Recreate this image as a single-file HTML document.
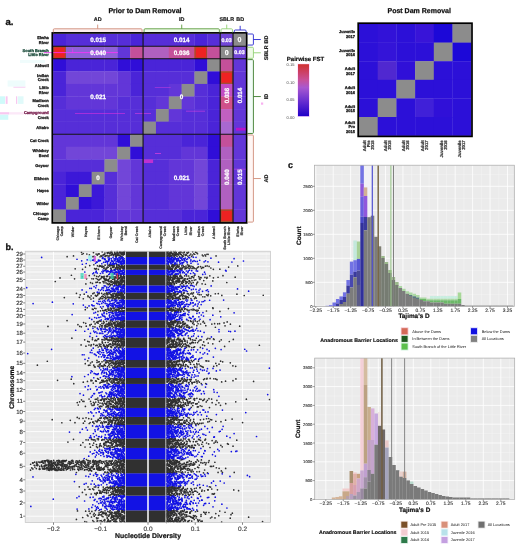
<!DOCTYPE html>
<html><head><meta charset="utf-8"><title>Figure</title>
<style>html,body{margin:0;padding:0;background:#fff;overflow:hidden}svg{display:block}text{font-family:"Liberation Sans", sans-serif;text-rendering:geometricPrecision;stroke-linejoin:round}</style>
</head><body>
<svg width="520" height="550" viewBox="0 0 520 550" font-family='"Liberation Sans", sans-serif'>
<defs><filter id="soft" x="0" y="0" width="1" height="1" color-interpolation-filters="sRGB"><feGaussianBlur stdDeviation="0.45"/></filter></defs>
<g filter="url(#soft)">
<rect width="520" height="550" fill="#fff"/>
<text x="145" y="13.2" font-size="7.0" text-anchor="middle" font-weight="bold" fill="#111" stroke="#111" stroke-width="0.25">Prior to Dam Removal</text>
<text x="5.4" y="24.5" font-size="9.5" text-anchor="start" font-weight="bold" fill="#111" stroke="#111" stroke-width="0.3">a.</text>
<rect x="53.1" y="33.7" width="13.15" height="12.86" fill="#4a24d8"/>
<rect x="65.95" y="33.7" width="13.15" height="12.86" fill="#562ed8"/>
<rect x="78.81" y="33.7" width="13.15" height="12.86" fill="#562ed8"/>
<rect x="91.66" y="33.7" width="13.15" height="12.86" fill="#562ed8"/>
<rect x="104.51" y="33.7" width="13.15" height="12.86" fill="#562ed8"/>
<rect x="117.37" y="33.7" width="13.15" height="12.86" fill="#562ed8"/>
<rect x="130.22" y="33.7" width="13.15" height="12.86" fill="#4a24d8"/>
<rect x="143.07" y="33.7" width="13.15" height="12.86" fill="#562ed8"/>
<rect x="155.93" y="33.7" width="13.15" height="12.86" fill="#562ed8"/>
<rect x="168.78" y="33.7" width="13.15" height="12.86" fill="#562ed8"/>
<rect x="181.63" y="33.7" width="13.15" height="12.86" fill="#562ed8"/>
<rect x="194.49" y="33.7" width="13.15" height="12.86" fill="#4a24d8"/>
<rect x="207.34" y="33.7" width="13.15" height="12.86" fill="#562ed8"/>
<rect x="220.19" y="33.7" width="13.15" height="12.86" fill="#7246d8"/>
<rect x="233.05" y="33.7" width="13.15" height="12.86" fill="#8c8c8c"/>
<rect x="53.1" y="46.26" width="13.15" height="12.86" fill="#ee2222"/>
<rect x="53.7" y="46.86" width="11.65" height="11.36" fill="none" stroke="#a05030" stroke-width="1.3"/>
<rect x="65.95" y="46.26" width="13.15" height="12.86" fill="#9060d8"/>
<rect x="78.81" y="46.26" width="13.15" height="12.86" fill="#9060d8"/>
<rect x="91.66" y="46.26" width="13.15" height="12.86" fill="#9060d8"/>
<rect x="104.51" y="46.26" width="13.15" height="12.86" fill="#9060d8"/>
<rect x="117.37" y="46.26" width="13.15" height="12.86" fill="#6236d8"/>
<rect x="130.22" y="46.26" width="13.15" height="12.86" fill="#c4509a"/>
<rect x="143.07" y="46.26" width="13.15" height="12.86" fill="#b060c0"/>
<rect x="155.93" y="46.26" width="13.15" height="12.86" fill="#b060c0"/>
<rect x="168.78" y="46.26" width="13.15" height="12.86" fill="#c4509a"/>
<rect x="181.63" y="46.26" width="13.15" height="12.86" fill="#c4509a"/>
<rect x="194.49" y="46.26" width="13.15" height="12.86" fill="#ee2222"/>
<rect x="195.09" y="46.86" width="11.65" height="11.36" fill="none" stroke="#a05030" stroke-width="1.3"/>
<rect x="207.34" y="46.26" width="13.15" height="12.86" fill="#c4509a"/>
<rect x="220.19" y="46.26" width="13.15" height="12.86" fill="#8c8c8c"/>
<rect x="233.05" y="46.26" width="13.15" height="12.86" fill="#7246d8"/>
<rect x="53.1" y="58.82" width="13.15" height="12.86" fill="#300ed8"/>
<rect x="65.95" y="58.82" width="13.15" height="12.86" fill="#4a24d8"/>
<rect x="78.81" y="58.82" width="13.15" height="12.86" fill="#4a24d8"/>
<rect x="91.66" y="58.82" width="13.15" height="12.86" fill="#4a24d8"/>
<rect x="104.51" y="58.82" width="13.15" height="12.86" fill="#4a24d8"/>
<rect x="117.37" y="58.82" width="13.15" height="12.86" fill="#300ed8"/>
<rect x="130.22" y="58.82" width="13.15" height="12.86" fill="#300ed8"/>
<rect x="143.07" y="58.82" width="13.15" height="12.86" fill="#4a24d8"/>
<rect x="155.93" y="58.82" width="13.15" height="12.86" fill="#4a24d8"/>
<rect x="168.78" y="58.82" width="13.15" height="12.86" fill="#4a24d8"/>
<rect x="181.63" y="58.82" width="13.15" height="12.86" fill="#4a24d8"/>
<rect x="194.49" y="58.82" width="13.15" height="12.86" fill="#300ed8"/>
<rect x="207.34" y="58.82" width="13.15" height="12.86" fill="#8c8c8c"/>
<rect x="220.19" y="58.82" width="13.15" height="12.86" fill="#c4509a"/>
<rect x="233.05" y="58.82" width="13.15" height="12.86" fill="#6236d8"/>
<rect x="53.1" y="71.38" width="13.15" height="12.86" fill="#4a24d8"/>
<rect x="65.95" y="71.38" width="13.15" height="12.86" fill="#7246d8"/>
<rect x="78.81" y="71.38" width="13.15" height="12.86" fill="#7246d8"/>
<rect x="91.66" y="71.38" width="13.15" height="12.86" fill="#7246d8"/>
<rect x="104.51" y="71.38" width="13.15" height="12.86" fill="#7246d8"/>
<rect x="117.37" y="71.38" width="13.15" height="12.86" fill="#6236d8"/>
<rect x="130.22" y="71.38" width="13.15" height="12.86" fill="#4a24d8"/>
<rect x="143.07" y="71.38" width="13.15" height="12.86" fill="#562ed8"/>
<rect x="155.93" y="71.38" width="13.15" height="12.86" fill="#562ed8"/>
<rect x="168.78" y="71.38" width="13.15" height="12.86" fill="#562ed8"/>
<rect x="181.63" y="71.38" width="13.15" height="12.86" fill="#562ed8"/>
<rect x="194.49" y="71.38" width="13.15" height="12.86" fill="#8c8c8c"/>
<rect x="207.34" y="71.38" width="13.15" height="12.86" fill="#300ed8"/>
<rect x="220.19" y="71.38" width="13.15" height="12.86" fill="#ee2222"/>
<rect x="220.79" y="71.98" width="11.65" height="11.36" fill="none" stroke="#a05030" stroke-width="1.3"/>
<rect x="233.05" y="71.38" width="13.15" height="12.86" fill="#6236d8"/>
<rect x="53.1" y="83.94" width="13.15" height="12.86" fill="#4a24d8"/>
<rect x="65.95" y="83.94" width="13.15" height="12.86" fill="#6236d8"/>
<rect x="78.81" y="83.94" width="13.15" height="12.86" fill="#6236d8"/>
<rect x="91.66" y="83.94" width="13.15" height="12.86" fill="#6236d8"/>
<rect x="104.51" y="83.94" width="13.15" height="12.86" fill="#6236d8"/>
<rect x="117.37" y="83.94" width="13.15" height="12.86" fill="#6236d8"/>
<rect x="130.22" y="83.94" width="13.15" height="12.86" fill="#4a24d8"/>
<rect x="143.07" y="83.94" width="13.15" height="12.86" fill="#562ed8"/>
<rect x="155.93" y="83.94" width="13.15" height="12.86" fill="#562ed8"/>
<rect x="168.78" y="83.94" width="13.15" height="12.86" fill="#6236d8"/>
<rect x="181.63" y="83.94" width="13.15" height="12.86" fill="#8c8c8c"/>
<rect x="194.49" y="83.94" width="13.15" height="12.86" fill="#562ed8"/>
<rect x="207.34" y="83.94" width="13.15" height="12.86" fill="#4a24d8"/>
<rect x="220.19" y="83.94" width="13.15" height="12.86" fill="#c24cc4"/>
<rect x="233.05" y="83.94" width="13.15" height="12.86" fill="#6236d8"/>
<rect x="53.1" y="96.5" width="13.15" height="12.86" fill="#562ed8"/>
<rect x="65.95" y="96.5" width="13.15" height="12.86" fill="#6236d8"/>
<rect x="78.81" y="96.5" width="13.15" height="12.86" fill="#6236d8"/>
<rect x="91.66" y="96.5" width="13.15" height="12.86" fill="#6236d8"/>
<rect x="104.51" y="96.5" width="13.15" height="12.86" fill="#6236d8"/>
<rect x="117.37" y="96.5" width="13.15" height="12.86" fill="#562ed8"/>
<rect x="130.22" y="96.5" width="13.15" height="12.86" fill="#562ed8"/>
<rect x="143.07" y="96.5" width="13.15" height="12.86" fill="#562ed8"/>
<rect x="155.93" y="96.5" width="13.15" height="12.86" fill="#6236d8"/>
<rect x="168.78" y="96.5" width="13.15" height="12.86" fill="#8c8c8c"/>
<rect x="181.63" y="96.5" width="13.15" height="12.86" fill="#6236d8"/>
<rect x="194.49" y="96.5" width="13.15" height="12.86" fill="#562ed8"/>
<rect x="207.34" y="96.5" width="13.15" height="12.86" fill="#4a24d8"/>
<rect x="220.19" y="96.5" width="13.15" height="12.86" fill="#d0508a"/>
<rect x="233.05" y="96.5" width="13.15" height="12.86" fill="#6236d8"/>
<rect x="53.1" y="109.06" width="13.15" height="12.86" fill="#562ed8"/>
<rect x="65.95" y="109.06" width="13.15" height="12.86" fill="#562ed8"/>
<rect x="78.81" y="109.06" width="13.15" height="12.86" fill="#562ed8"/>
<rect x="91.66" y="109.06" width="13.15" height="12.86" fill="#562ed8"/>
<rect x="104.51" y="109.06" width="13.15" height="12.86" fill="#562ed8"/>
<rect x="117.37" y="109.06" width="13.15" height="12.86" fill="#562ed8"/>
<rect x="130.22" y="109.06" width="13.15" height="12.86" fill="#562ed8"/>
<rect x="143.07" y="109.06" width="13.15" height="12.86" fill="#562ed8"/>
<rect x="155.93" y="109.06" width="13.15" height="12.86" fill="#8c8c8c"/>
<rect x="168.78" y="109.06" width="13.15" height="12.86" fill="#6236d8"/>
<rect x="181.63" y="109.06" width="13.15" height="12.86" fill="#562ed8"/>
<rect x="194.49" y="109.06" width="13.15" height="12.86" fill="#562ed8"/>
<rect x="207.34" y="109.06" width="13.15" height="12.86" fill="#4a24d8"/>
<rect x="220.19" y="109.06" width="13.15" height="12.86" fill="#c060c0"/>
<rect x="233.05" y="109.06" width="13.15" height="12.86" fill="#6236d8"/>
<rect x="53.1" y="121.62" width="13.15" height="12.86" fill="#562ed8"/>
<rect x="65.95" y="121.62" width="13.15" height="12.86" fill="#562ed8"/>
<rect x="78.81" y="121.62" width="13.15" height="12.86" fill="#562ed8"/>
<rect x="91.66" y="121.62" width="13.15" height="12.86" fill="#562ed8"/>
<rect x="104.51" y="121.62" width="13.15" height="12.86" fill="#562ed8"/>
<rect x="117.37" y="121.62" width="13.15" height="12.86" fill="#562ed8"/>
<rect x="130.22" y="121.62" width="13.15" height="12.86" fill="#562ed8"/>
<rect x="143.07" y="121.62" width="13.15" height="12.86" fill="#8c8c8c"/>
<rect x="155.93" y="121.62" width="13.15" height="12.86" fill="#562ed8"/>
<rect x="168.78" y="121.62" width="13.15" height="12.86" fill="#562ed8"/>
<rect x="181.63" y="121.62" width="13.15" height="12.86" fill="#562ed8"/>
<rect x="194.49" y="121.62" width="13.15" height="12.86" fill="#562ed8"/>
<rect x="207.34" y="121.62" width="13.15" height="12.86" fill="#4a24d8"/>
<rect x="220.19" y="121.62" width="13.15" height="12.86" fill="#a868d0"/>
<rect x="233.05" y="121.62" width="13.15" height="12.86" fill="#6236d8"/>
<rect x="53.1" y="134.18" width="13.15" height="12.86" fill="#6236d8"/>
<rect x="65.95" y="134.18" width="13.15" height="12.86" fill="#6236d8"/>
<rect x="78.81" y="134.18" width="13.15" height="12.86" fill="#6236d8"/>
<rect x="91.66" y="134.18" width="13.15" height="12.86" fill="#6236d8"/>
<rect x="104.51" y="134.18" width="13.15" height="12.86" fill="#6236d8"/>
<rect x="117.37" y="134.18" width="13.15" height="12.86" fill="#300ed8"/>
<rect x="130.22" y="134.18" width="13.15" height="12.86" fill="#8c8c8c"/>
<rect x="143.07" y="134.18" width="13.15" height="12.86" fill="#562ed8"/>
<rect x="155.93" y="134.18" width="13.15" height="12.86" fill="#562ed8"/>
<rect x="168.78" y="134.18" width="13.15" height="12.86" fill="#562ed8"/>
<rect x="181.63" y="134.18" width="13.15" height="12.86" fill="#4a24d8"/>
<rect x="194.49" y="134.18" width="13.15" height="12.86" fill="#4a24d8"/>
<rect x="207.34" y="134.18" width="13.15" height="12.86" fill="#300ed8"/>
<rect x="220.19" y="134.18" width="13.15" height="12.86" fill="#c4509a"/>
<rect x="233.05" y="134.18" width="13.15" height="12.86" fill="#6236d8"/>
<rect x="53.1" y="146.74" width="13.15" height="12.86" fill="#6236d8"/>
<rect x="65.95" y="146.74" width="13.15" height="12.86" fill="#7246d8"/>
<rect x="78.81" y="146.74" width="13.15" height="12.86" fill="#7246d8"/>
<rect x="91.66" y="146.74" width="13.15" height="12.86" fill="#7246d8"/>
<rect x="104.51" y="146.74" width="13.15" height="12.86" fill="#7246d8"/>
<rect x="117.37" y="146.74" width="13.15" height="12.86" fill="#8c8c8c"/>
<rect x="130.22" y="146.74" width="13.15" height="12.86" fill="#300ed8"/>
<rect x="143.07" y="146.74" width="13.15" height="12.86" fill="#562ed8"/>
<rect x="155.93" y="146.74" width="13.15" height="12.86" fill="#562ed8"/>
<rect x="168.78" y="146.74" width="13.15" height="12.86" fill="#562ed8"/>
<rect x="181.63" y="146.74" width="13.15" height="12.86" fill="#6236d8"/>
<rect x="194.49" y="146.74" width="13.15" height="12.86" fill="#6236d8"/>
<rect x="207.34" y="146.74" width="13.15" height="12.86" fill="#300ed8"/>
<rect x="220.19" y="146.74" width="13.15" height="12.86" fill="#b060c0"/>
<rect x="233.05" y="146.74" width="13.15" height="12.86" fill="#6236d8"/>
<rect x="53.1" y="159.3" width="13.15" height="12.86" fill="#562ed8"/>
<rect x="65.95" y="159.3" width="13.15" height="12.86" fill="#562ed8"/>
<rect x="78.81" y="159.3" width="13.15" height="12.86" fill="#562ed8"/>
<rect x="91.66" y="159.3" width="13.15" height="12.86" fill="#562ed8"/>
<rect x="104.51" y="159.3" width="13.15" height="12.86" fill="#8c8c8c"/>
<rect x="117.37" y="159.3" width="13.15" height="12.86" fill="#7246d8"/>
<rect x="130.22" y="159.3" width="13.15" height="12.86" fill="#6236d8"/>
<rect x="143.07" y="159.3" width="13.15" height="12.86" fill="#562ed8"/>
<rect x="155.93" y="159.3" width="13.15" height="12.86" fill="#562ed8"/>
<rect x="168.78" y="159.3" width="13.15" height="12.86" fill="#6236d8"/>
<rect x="181.63" y="159.3" width="13.15" height="12.86" fill="#6236d8"/>
<rect x="194.49" y="159.3" width="13.15" height="12.86" fill="#7246d8"/>
<rect x="207.34" y="159.3" width="13.15" height="12.86" fill="#4a24d8"/>
<rect x="220.19" y="159.3" width="13.15" height="12.86" fill="#b060c0"/>
<rect x="233.05" y="159.3" width="13.15" height="12.86" fill="#6236d8"/>
<rect x="53.1" y="171.86" width="13.15" height="12.86" fill="#4a24d8"/>
<rect x="65.95" y="171.86" width="13.15" height="12.86" fill="#3c18d8"/>
<rect x="78.81" y="171.86" width="13.15" height="12.86" fill="#3c18d8"/>
<rect x="91.66" y="171.86" width="13.15" height="12.86" fill="#8c8c8c"/>
<rect x="104.51" y="171.86" width="13.15" height="12.86" fill="#562ed8"/>
<rect x="117.37" y="171.86" width="13.15" height="12.86" fill="#7246d8"/>
<rect x="130.22" y="171.86" width="13.15" height="12.86" fill="#6236d8"/>
<rect x="143.07" y="171.86" width="13.15" height="12.86" fill="#562ed8"/>
<rect x="155.93" y="171.86" width="13.15" height="12.86" fill="#562ed8"/>
<rect x="168.78" y="171.86" width="13.15" height="12.86" fill="#6236d8"/>
<rect x="181.63" y="171.86" width="13.15" height="12.86" fill="#6236d8"/>
<rect x="194.49" y="171.86" width="13.15" height="12.86" fill="#7246d8"/>
<rect x="207.34" y="171.86" width="13.15" height="12.86" fill="#4a24d8"/>
<rect x="220.19" y="171.86" width="13.15" height="12.86" fill="#b060c0"/>
<rect x="233.05" y="171.86" width="13.15" height="12.86" fill="#6236d8"/>
<rect x="53.1" y="184.42" width="13.15" height="12.86" fill="#4a24d8"/>
<rect x="65.95" y="184.42" width="13.15" height="12.86" fill="#300ed8"/>
<rect x="78.81" y="184.42" width="13.15" height="12.86" fill="#8c8c8c"/>
<rect x="91.66" y="184.42" width="13.15" height="12.86" fill="#3c18d8"/>
<rect x="104.51" y="184.42" width="13.15" height="12.86" fill="#562ed8"/>
<rect x="117.37" y="184.42" width="13.15" height="12.86" fill="#7246d8"/>
<rect x="130.22" y="184.42" width="13.15" height="12.86" fill="#6236d8"/>
<rect x="143.07" y="184.42" width="13.15" height="12.86" fill="#562ed8"/>
<rect x="155.93" y="184.42" width="13.15" height="12.86" fill="#562ed8"/>
<rect x="168.78" y="184.42" width="13.15" height="12.86" fill="#6236d8"/>
<rect x="181.63" y="184.42" width="13.15" height="12.86" fill="#6236d8"/>
<rect x="194.49" y="184.42" width="13.15" height="12.86" fill="#7246d8"/>
<rect x="207.34" y="184.42" width="13.15" height="12.86" fill="#4a24d8"/>
<rect x="220.19" y="184.42" width="13.15" height="12.86" fill="#b060c0"/>
<rect x="233.05" y="184.42" width="13.15" height="12.86" fill="#6236d8"/>
<rect x="53.1" y="196.98" width="13.15" height="12.86" fill="#4a24d8"/>
<rect x="65.95" y="196.98" width="13.15" height="12.86" fill="#8c8c8c"/>
<rect x="78.81" y="196.98" width="13.15" height="12.86" fill="#300ed8"/>
<rect x="91.66" y="196.98" width="13.15" height="12.86" fill="#3c18d8"/>
<rect x="104.51" y="196.98" width="13.15" height="12.86" fill="#562ed8"/>
<rect x="117.37" y="196.98" width="13.15" height="12.86" fill="#7246d8"/>
<rect x="130.22" y="196.98" width="13.15" height="12.86" fill="#6236d8"/>
<rect x="143.07" y="196.98" width="13.15" height="12.86" fill="#562ed8"/>
<rect x="155.93" y="196.98" width="13.15" height="12.86" fill="#562ed8"/>
<rect x="168.78" y="196.98" width="13.15" height="12.86" fill="#6236d8"/>
<rect x="181.63" y="196.98" width="13.15" height="12.86" fill="#6236d8"/>
<rect x="194.49" y="196.98" width="13.15" height="12.86" fill="#7246d8"/>
<rect x="207.34" y="196.98" width="13.15" height="12.86" fill="#4a24d8"/>
<rect x="220.19" y="196.98" width="13.15" height="12.86" fill="#b060c0"/>
<rect x="233.05" y="196.98" width="13.15" height="12.86" fill="#6236d8"/>
<rect x="53.1" y="209.54" width="13.15" height="12.86" fill="#8c8c8c"/>
<rect x="65.95" y="209.54" width="13.15" height="12.86" fill="#4a24d8"/>
<rect x="78.81" y="209.54" width="13.15" height="12.86" fill="#4a24d8"/>
<rect x="91.66" y="209.54" width="13.15" height="12.86" fill="#4a24d8"/>
<rect x="104.51" y="209.54" width="13.15" height="12.86" fill="#562ed8"/>
<rect x="117.37" y="209.54" width="13.15" height="12.86" fill="#6236d8"/>
<rect x="130.22" y="209.54" width="13.15" height="12.86" fill="#6236d8"/>
<rect x="143.07" y="209.54" width="13.15" height="12.86" fill="#562ed8"/>
<rect x="155.93" y="209.54" width="13.15" height="12.86" fill="#562ed8"/>
<rect x="168.78" y="209.54" width="13.15" height="12.86" fill="#562ed8"/>
<rect x="181.63" y="209.54" width="13.15" height="12.86" fill="#4a24d8"/>
<rect x="194.49" y="209.54" width="13.15" height="12.86" fill="#4a24d8"/>
<rect x="207.34" y="209.54" width="13.15" height="12.86" fill="#300ed8"/>
<rect x="220.19" y="209.54" width="13.15" height="12.86" fill="#ee2222"/>
<rect x="220.79" y="210.14" width="11.65" height="11.36" fill="none" stroke="#a05030" stroke-width="1.3"/>
<rect x="233.05" y="209.54" width="13.15" height="12.86" fill="#6236d8"/>
<rect x="0" y="96.3" width="5" height="7.6" fill="#d0fafa"/>
<rect x="5.7" y="96.3" width="1.9" height="7.6" fill="#f8c8f0"/>
<rect x="16" y="96.3" width="1.2" height="7.6" fill="#f8c8f0"/>
<rect x="17.8" y="96.3" width="5.7" height="7.6" fill="#e0fafa"/>
<rect x="13.4" y="86.6" width="12" height=".9" fill="#f4b8ec"/>
<rect x="7.6" y="80.4" width="17.8" height="6.2" fill="#eefcfc"/>
<rect x="0" y="112.2" width="9" height="2.3" fill="#f8c8f0"/>
<rect x="9" y="112.2" width="15" height="2.3" fill="#fce8f8"/>
<rect x="0" y="114.7" width="8.3" height="5.1" fill="#d0fafa"/>
<rect x="20" y="60" width="25" height="3" fill="#f0fcfc"/>
<rect x="261" y="102.5" width="2.2" height="2.2" fill="#f8b0f0"/>
<line x1="44" y1="52.6" x2="118" y2="52.6" stroke="#ff30ff" stroke-width="0.8"/>
<line x1="72.7" y1="48.5" x2="72.7" y2="52.6" stroke="#ff30ff" stroke-width="0.6"/>
<line x1="75" y1="113.4" x2="125" y2="113.4" stroke="#e030e0" stroke-width="0.8" opacity="0.8"/>
<rect x="143.6" y="159.4" width="9.5" height="3.6" fill="#d030d0" opacity="0.85"/>
<rect x="236" y="127.8" width="9.8" height="2.8" fill="#c010c8" opacity="0.9"/>
<line x1="135" y1="113.4" x2="151" y2="113.4" stroke="#e040e0" stroke-width="0.8" opacity="0.8"/>
<line x1="186" y1="111.2" x2="205" y2="111.2" stroke="#e040e0" stroke-width="0.7" opacity="0.8"/>
<line x1="154.8" y1="87.4" x2="170.7" y2="87.4" stroke="#e040e0" stroke-width="0.6" opacity="0.8"/>
<line x1="155" y1="153.5" x2="161" y2="153.5" stroke="#e040e0" stroke-width="0.9" opacity="0.8"/>
<line x1="233.5" y1="169.2" x2="246" y2="169.2" stroke="#e040e0" stroke-width="0.6" opacity="0.8"/>
<line x1="52.1" y1="46.26" x2="246.9" y2="46.26" stroke="#111" stroke-width="1.1"/>
<line x1="52.1" y1="58.82" x2="246.9" y2="58.82" stroke="#111" stroke-width="1.1"/>
<line x1="52.1" y1="134.18" x2="246.9" y2="134.18" stroke="#111" stroke-width="1.1"/>
<line x1="143.07" y1="32.7" x2="143.07" y2="223.1" stroke="#111" stroke-width="1.1"/>
<line x1="220.19" y1="32.7" x2="220.19" y2="223.1" stroke="#111" stroke-width="1.1"/>
<line x1="233.05" y1="32.7" x2="233.05" y2="223.1" stroke="#111" stroke-width="1.1"/>
<rect x="52.3" y="32.9" width="194.4" height="190" fill="none" stroke="#000" stroke-width="1.7"/>
<text x="98.09" y="42.25" font-size="6.3" text-anchor="middle" font-weight="bold" fill="#fff" stroke="#fff" stroke-width="0.25">0.015</text>
<text x="181.63" y="42.25" font-size="6.3" text-anchor="middle" font-weight="bold" fill="#fff" stroke="#fff" stroke-width="0.25">0.014</text>
<text x="98.09" y="54.81" font-size="6.3" text-anchor="middle" font-weight="bold" fill="#fff" stroke="#fff" stroke-width="0.25">0.040</text>
<text x="181.63" y="54.81" font-size="6.3" text-anchor="middle" font-weight="bold" fill="#fff" stroke="#fff" stroke-width="0.25">0.036</text>
<text x="98.09" y="98.77" font-size="6.3" text-anchor="middle" font-weight="bold" fill="#fff" stroke="#fff" stroke-width="0.25">0.021</text>
<text x="181.63" y="98.77" font-size="6.3" text-anchor="middle" font-weight="bold" fill="#fff" stroke="#fff" stroke-width="0.25">0</text>
<text x="98.09" y="180.41" font-size="6.3" text-anchor="middle" font-weight="bold" fill="#fff" stroke="#fff" stroke-width="0.25">0</text>
<text x="181.63" y="180.41" font-size="6.3" text-anchor="middle" font-weight="bold" fill="#fff" stroke="#fff" stroke-width="0.25">0.021</text>
<text x="226.62" y="41.88" font-size="5.3" text-anchor="middle" font-weight="bold" fill="#fff" stroke="#fff" stroke-width="0.25">0.03</text>
<text x="239.47" y="54.44" font-size="5.3" text-anchor="middle" font-weight="bold" fill="#fff" stroke="#fff" stroke-width="0.25">0.03</text>
<text x="239.47" y="42.48" font-size="7.0" text-anchor="middle" font-weight="bold" fill="#fff" stroke="#fff" stroke-width="0.25">0</text>
<text x="226.62" y="55.04" font-size="7.0" text-anchor="middle" font-weight="bold" fill="#fff" stroke="#fff" stroke-width="0.25">0</text>
<text x="228.82" y="95.5" font-size="6.2" text-anchor="middle" font-weight="bold" fill="#fff" transform="rotate(-90 228.82 95.5)" stroke="#fff" stroke-width="0.25">0.036</text>
<text x="241.67" y="95.5" font-size="6.2" text-anchor="middle" font-weight="bold" fill="#fff" transform="rotate(-90 241.67 95.5)" stroke="#fff" stroke-width="0.25">0.014</text>
<text x="228.82" y="177.14" font-size="6.2" text-anchor="middle" font-weight="bold" fill="#fff" transform="rotate(-90 228.82 177.14)" stroke="#fff" stroke-width="0.25">0.040</text>
<text x="241.67" y="177.14" font-size="6.2" text-anchor="middle" font-weight="bold" fill="#fff" transform="rotate(-90 241.67 177.14)" stroke="#fff" stroke-width="0.25">0.015</text>
<text x="48.8" y="39.12" font-size="4.0" text-anchor="end" font-weight="bold" fill="#222" stroke="#222" stroke-width="0.3">Elwha</text>
<text x="48.8" y="43.72" font-size="4.0" text-anchor="end" font-weight="bold" fill="#222" stroke="#222" stroke-width="0.3">River</text>
<text x="48.8" y="51.68" font-size="4.0" text-anchor="end" font-weight="bold" fill="#1a4a3a" stroke="#1a4a3a" stroke-width="0.3">South Branch</text>
<text x="48.8" y="56.28" font-size="4.0" text-anchor="end" font-weight="bold" fill="#1a4a3a" stroke="#1a4a3a" stroke-width="0.3">Little River</text>
<text x="48.8" y="66.54" font-size="4.0" text-anchor="end" font-weight="bold" fill="#222" stroke="#222" stroke-width="0.3">Aldwell</text>
<text x="48.8" y="76.8" font-size="4.0" text-anchor="end" font-weight="bold" fill="#222" stroke="#222" stroke-width="0.3">Indian</text>
<text x="48.8" y="81.4" font-size="4.0" text-anchor="end" font-weight="bold" fill="#222" stroke="#222" stroke-width="0.3">Creek</text>
<text x="48.8" y="89.36" font-size="4.0" text-anchor="end" font-weight="bold" fill="#222" stroke="#222" stroke-width="0.3">Little</text>
<text x="48.8" y="93.96" font-size="4.0" text-anchor="end" font-weight="bold" fill="#222" stroke="#222" stroke-width="0.3">River</text>
<text x="48.8" y="101.92" font-size="4.0" text-anchor="end" font-weight="bold" fill="#222" stroke="#222" stroke-width="0.3">Madison</text>
<text x="48.8" y="106.52" font-size="4.0" text-anchor="end" font-weight="bold" fill="#222" stroke="#222" stroke-width="0.3">Creek</text>
<text x="48.8" y="114.48" font-size="4.0" text-anchor="end" font-weight="bold" fill="#7a2050" stroke="#7a2050" stroke-width="0.3">Campground</text>
<text x="48.8" y="119.08" font-size="4.0" text-anchor="end" font-weight="bold" fill="#222" stroke="#222" stroke-width="0.3">Creek</text>
<text x="48.8" y="129.34" font-size="4.0" text-anchor="end" font-weight="bold" fill="#222" stroke="#222" stroke-width="0.3">Altaire</text>
<text x="48.8" y="141.9" font-size="4.0" text-anchor="end" font-weight="bold" fill="#222" stroke="#222" stroke-width="0.3">Cat Creek</text>
<text x="48.8" y="152.16" font-size="4.0" text-anchor="end" font-weight="bold" fill="#222" stroke="#222" stroke-width="0.3">Whiskey</text>
<text x="48.8" y="156.76" font-size="4.0" text-anchor="end" font-weight="bold" fill="#222" stroke="#222" stroke-width="0.3">Bend</text>
<text x="48.8" y="167.02" font-size="4.0" text-anchor="end" font-weight="bold" fill="#222" stroke="#222" stroke-width="0.3">Geyser</text>
<text x="48.8" y="179.58" font-size="4.0" text-anchor="end" font-weight="bold" fill="#222" stroke="#222" stroke-width="0.3">Elkhorn</text>
<text x="48.8" y="192.14" font-size="4.0" text-anchor="end" font-weight="bold" fill="#222" stroke="#222" stroke-width="0.3">Hayes</text>
<text x="48.8" y="204.7" font-size="4.0" text-anchor="end" font-weight="bold" fill="#222" stroke="#222" stroke-width="0.3">Wilder</text>
<text x="48.8" y="214.96" font-size="4.0" text-anchor="end" font-weight="bold" fill="#222" stroke="#222" stroke-width="0.3">Chicago</text>
<text x="48.8" y="219.56" font-size="4.0" text-anchor="end" font-weight="bold" fill="#222" stroke="#222" stroke-width="0.3">Camp</text>
<text x="58.87" y="226.3" font-size="3.6" text-anchor="end" font-weight="bold" fill="#333" transform="rotate(-90 58.87 226.3)" stroke="#333" stroke-width="0.22">Chicago</text>
<text x="63.07" y="226.3" font-size="3.6" text-anchor="end" font-weight="bold" fill="#333" transform="rotate(-90 63.07 226.3)" stroke="#333" stroke-width="0.22">Camp</text>
<text x="73.82" y="226.3" font-size="3.6" text-anchor="end" font-weight="bold" fill="#333" transform="rotate(-90 73.82 226.3)" stroke="#333" stroke-width="0.22">Wilder</text>
<text x="86.67" y="226.3" font-size="3.6" text-anchor="end" font-weight="bold" fill="#333" transform="rotate(-90 86.67 226.3)" stroke="#333" stroke-width="0.22">Hayes</text>
<text x="99.53" y="226.3" font-size="3.6" text-anchor="end" font-weight="bold" fill="#333" transform="rotate(-90 99.53 226.3)" stroke="#333" stroke-width="0.22">Elkhorn</text>
<text x="112.38" y="226.3" font-size="3.6" text-anchor="end" font-weight="bold" fill="#333" transform="rotate(-90 112.38 226.3)" stroke="#333" stroke-width="0.22">Geyser</text>
<text x="123.13" y="226.3" font-size="3.6" text-anchor="end" font-weight="bold" fill="#333" transform="rotate(-90 123.13 226.3)" stroke="#333" stroke-width="0.22">Whiskey</text>
<text x="127.33" y="226.3" font-size="3.6" text-anchor="end" font-weight="bold" fill="#333" transform="rotate(-90 127.33 226.3)" stroke="#333" stroke-width="0.22">Bend</text>
<text x="138.09" y="226.3" font-size="3.6" text-anchor="end" font-weight="bold" fill="#333" transform="rotate(-90 138.09 226.3)" stroke="#333" stroke-width="0.22">Cat Creek</text>
<text x="150.94" y="226.3" font-size="3.6" text-anchor="end" font-weight="bold" fill="#333" transform="rotate(-90 150.94 226.3)" stroke="#333" stroke-width="0.22">Altaire</text>
<text x="161.69" y="226.3" font-size="3.6" text-anchor="end" font-weight="bold" fill="#333" transform="rotate(-90 161.69 226.3)" stroke="#333" stroke-width="0.22">Campground</text>
<text x="165.89" y="226.3" font-size="3.6" text-anchor="end" font-weight="bold" fill="#333" transform="rotate(-90 165.89 226.3)" stroke="#333" stroke-width="0.22">Creek</text>
<text x="174.55" y="226.3" font-size="3.6" text-anchor="end" font-weight="bold" fill="#333" transform="rotate(-90 174.55 226.3)" stroke="#333" stroke-width="0.22">Madison</text>
<text x="178.75" y="226.3" font-size="3.6" text-anchor="end" font-weight="bold" fill="#333" transform="rotate(-90 178.75 226.3)" stroke="#333" stroke-width="0.22">Creek</text>
<text x="187.4" y="226.3" font-size="3.6" text-anchor="end" font-weight="bold" fill="#333" transform="rotate(-90 187.4 226.3)" stroke="#333" stroke-width="0.22">Little</text>
<text x="191.6" y="226.3" font-size="3.6" text-anchor="end" font-weight="bold" fill="#333" transform="rotate(-90 191.6 226.3)" stroke="#333" stroke-width="0.22">River</text>
<text x="200.25" y="226.3" font-size="3.6" text-anchor="end" font-weight="bold" fill="#333" transform="rotate(-90 200.25 226.3)" stroke="#333" stroke-width="0.22">Indian</text>
<text x="204.45" y="226.3" font-size="3.6" text-anchor="end" font-weight="bold" fill="#333" transform="rotate(-90 204.45 226.3)" stroke="#333" stroke-width="0.22">Creek</text>
<text x="215.21" y="226.3" font-size="3.6" text-anchor="end" font-weight="bold" fill="#333" transform="rotate(-90 215.21 226.3)" stroke="#333" stroke-width="0.22">Aldwell</text>
<text x="225.96" y="226.3" font-size="3.6" text-anchor="end" font-weight="bold" fill="#333" transform="rotate(-90 225.96 226.3)" stroke="#333" stroke-width="0.22">South Branch</text>
<text x="230.16" y="226.3" font-size="3.6" text-anchor="end" font-weight="bold" fill="#333" transform="rotate(-90 230.16 226.3)" stroke="#333" stroke-width="0.22">Little River</text>
<text x="238.81" y="226.3" font-size="3.6" text-anchor="end" font-weight="bold" fill="#333" transform="rotate(-90 238.81 226.3)" stroke="#333" stroke-width="0.22">Elwha</text>
<text x="243.01" y="226.3" font-size="3.6" text-anchor="end" font-weight="bold" fill="#333" transform="rotate(-90 243.01 226.3)" stroke="#333" stroke-width="0.22">River</text>
<rect x="53.1" y="28.8" width="88.97" height="3.2" fill="#fdeeee"/>
<rect x="144.07" y="28.8" width="75.12" height="3.2" fill="#eefbea"/>
<path d="M53.3 32.4 V29.8 Q53.3 28.8 54.3 28.8 H141.07 Q142.07 28.8 142.07 29.8 V32.4 M97.69 28.8 V24.6" fill="none" stroke="#cf8c78" stroke-width="0.9"/>
<text x="97.69" y="21.2" font-size="5.4" text-anchor="middle" font-weight="bold" fill="#222" stroke="#222" stroke-width="0.2">AD</text>
<path d="M144.07 32.4 V29.8 Q144.07 28.8 145.07 28.8 H218.39 Q219.39 28.8 219.39 29.8 V32.4 M181.73 28.8 V24.6" fill="none" stroke="#5a9a3a" stroke-width="0.9"/>
<text x="181.73" y="21.2" font-size="5.4" text-anchor="middle" font-weight="bold" fill="#222" stroke="#222" stroke-width="0.2">ID</text>
<path d="M220.99 32.4 V29.8 Q220.99 28.8 221.99 28.8 H231.45 Q232.45 28.8 232.45 29.8 V32.4 M226.72 28.8 V24.6" fill="none" stroke="#90d070" stroke-width="0.9"/>
<text x="226.72" y="21.2" font-size="5.4" text-anchor="middle" font-weight="bold" fill="#222" stroke="#222" stroke-width="0.2">SBLR</text>
<path d="M234.25 32.4 V31 Q234.25 30 235.25 30 H245.1 Q246.1 30 246.1 31 V32.4 M240.17 30 V25.8" fill="none" stroke="#2828d0" stroke-width="0.9"/>
<text x="240.17" y="21.2" font-size="5.4" text-anchor="middle" font-weight="bold" fill="#222" stroke="#222" stroke-width="0.2">BD</text>
<rect x="247.8" y="59.82" width="5" height="73.36" fill="#f2fcf8"/>
<rect x="247.8" y="135.18" width="5" height="86.92" fill="#fff6f4"/>
<rect x="247.8" y="47.26" width="5" height="10.56" fill="#eefbe6"/>
<path d="M247.6 34 H252.4 Q253.4 34 253.4 35 V44.06 Q253.4 45.06 252.4 45.06 H247.6 M253.4 39.53 H260.8" fill="none" stroke="#2828d0" stroke-width="0.9"/>
<text x="267.7" y="39.53" font-size="5.4" text-anchor="middle" font-weight="bold" fill="#222" transform="rotate(-90 267.7 39.53)" stroke="#222" stroke-width="0.2">BD</text>
<path d="M247.6 47.26 H252.4 Q253.4 47.26 253.4 48.26 V57.32 Q253.4 58.32 252.4 58.32 H247.6 M253.4 52.79 H260.8" fill="none" stroke="#90d070" stroke-width="0.9"/>
<text x="267.7" y="52.79" font-size="5.4" text-anchor="middle" font-weight="bold" fill="#222" transform="rotate(-90 267.7 52.79)" stroke="#222" stroke-width="0.2">SBLR</text>
<path d="M247.6 59.62 H252.4 Q253.4 59.62 253.4 60.62 V132.48 Q253.4 133.48 252.4 133.48 H247.6 M253.4 96.55 H260.8" fill="none" stroke="#3a7a2a" stroke-width="0.9"/>
<text x="267.7" y="96.55" font-size="5.4" text-anchor="middle" font-weight="bold" fill="#222" transform="rotate(-90 267.7 96.55)" stroke="#222" stroke-width="0.2">ID</text>
<path d="M247.6 134.98 H252.4 Q253.4 134.98 253.4 135.98 V221.1 Q253.4 222.1 252.4 222.1 H247.6 M253.4 178.54 H260.8" fill="none" stroke="#cf8c78" stroke-width="0.9"/>
<text x="267.7" y="178.54" font-size="5.4" text-anchor="middle" font-weight="bold" fill="#222" transform="rotate(-90 267.7 178.54)" stroke="#222" stroke-width="0.2">AD</text>
<text x="419.2" y="13.2" font-size="7.0" text-anchor="middle" font-weight="bold" fill="#111" stroke="#111" stroke-width="0.25">Post Dam Removal</text>
<rect x="359" y="24" width="19" height="18.9" fill="#2c10d8"/>
<rect x="377.7" y="24" width="19" height="18.9" fill="#3212d8"/>
<rect x="396.4" y="24" width="19" height="18.9" fill="#2c10d8"/>
<rect x="415.1" y="24" width="19" height="18.9" fill="#3814d8"/>
<rect x="433.8" y="24" width="19" height="18.9" fill="#1c08d8"/>
<rect x="452.5" y="24" width="19" height="18.9" fill="#8c8c8c"/>
<rect x="359" y="42.6" width="19" height="18.9" fill="#2c10d8"/>
<rect x="377.7" y="42.6" width="19" height="18.9" fill="#3414d8"/>
<rect x="396.4" y="42.6" width="19" height="18.9" fill="#2c10d8"/>
<rect x="415.1" y="42.6" width="19" height="18.9" fill="#2c10d8"/>
<rect x="433.8" y="42.6" width="19" height="18.9" fill="#8c8c8c"/>
<rect x="452.5" y="42.6" width="19" height="18.9" fill="#1c08d8"/>
<rect x="359" y="61.2" width="19" height="18.9" fill="#2c10d8"/>
<rect x="377.7" y="61.2" width="19" height="18.9" fill="#5028d0"/>
<rect x="396.4" y="61.2" width="19" height="18.9" fill="#3010d8"/>
<rect x="415.1" y="61.2" width="19" height="18.9" fill="#8c8c8c"/>
<rect x="433.8" y="61.2" width="19" height="18.9" fill="#2c10d8"/>
<rect x="452.5" y="61.2" width="19" height="18.9" fill="#2c10d8"/>
<rect x="359" y="79.8" width="19" height="18.9" fill="#2c10d8"/>
<rect x="377.7" y="79.8" width="19" height="18.9" fill="#2c10d8"/>
<rect x="396.4" y="79.8" width="19" height="18.9" fill="#8c8c8c"/>
<rect x="415.1" y="79.8" width="19" height="18.9" fill="#2c10d8"/>
<rect x="433.8" y="79.8" width="19" height="18.9" fill="#2c10d8"/>
<rect x="452.5" y="79.8" width="19" height="18.9" fill="#2c10d8"/>
<rect x="359" y="98.4" width="19" height="18.9" fill="#2c10d8"/>
<rect x="377.7" y="98.4" width="19" height="18.9" fill="#8c8c8c"/>
<rect x="396.4" y="98.4" width="19" height="18.9" fill="#2c10d8"/>
<rect x="415.1" y="98.4" width="19" height="18.9" fill="#4020d8"/>
<rect x="433.8" y="98.4" width="19" height="18.9" fill="#3010d8"/>
<rect x="452.5" y="98.4" width="19" height="18.9" fill="#2c10d8"/>
<rect x="359" y="117" width="19" height="18.9" fill="#8c8c8c"/>
<rect x="377.7" y="117" width="19" height="18.9" fill="#2c10d8"/>
<rect x="396.4" y="117" width="19" height="18.9" fill="#2c10d8"/>
<rect x="415.1" y="117" width="19" height="18.9" fill="#2c10d8"/>
<rect x="433.8" y="117" width="19" height="18.9" fill="#2c10d8"/>
<rect x="452.5" y="117" width="19" height="18.9" fill="#2c10d8"/>
<rect x="358.2" y="23.2" width="113.8" height="113.2" fill="none" stroke="#000" stroke-width="1.7"/>
<text x="355" y="33.15" font-size="4.0" text-anchor="end" font-weight="bold" fill="#222" stroke="#222" stroke-width="0.3">Juvenile</text>
<text x="355" y="37.75" font-size="4.0" text-anchor="end" font-weight="bold" fill="#222" stroke="#222" stroke-width="0.3">2017</text>
<text x="355" y="51.75" font-size="4.0" text-anchor="end" font-weight="bold" fill="#222" stroke="#222" stroke-width="0.3">Juvenile</text>
<text x="355" y="56.35" font-size="4.0" text-anchor="end" font-weight="bold" fill="#222" stroke="#222" stroke-width="0.3">2016</text>
<text x="355" y="70.35" font-size="4.0" text-anchor="end" font-weight="bold" fill="#222" stroke="#222" stroke-width="0.3">Adult</text>
<text x="355" y="74.95" font-size="4.0" text-anchor="end" font-weight="bold" fill="#222" stroke="#222" stroke-width="0.3">2017</text>
<text x="355" y="88.95" font-size="4.0" text-anchor="end" font-weight="bold" fill="#222" stroke="#222" stroke-width="0.3">Adult</text>
<text x="355" y="93.55" font-size="4.0" text-anchor="end" font-weight="bold" fill="#222" stroke="#222" stroke-width="0.3">2016</text>
<text x="355" y="107.55" font-size="4.0" text-anchor="end" font-weight="bold" fill="#222" stroke="#222" stroke-width="0.3">Adult</text>
<text x="355" y="112.15" font-size="4.0" text-anchor="end" font-weight="bold" fill="#222" stroke="#222" stroke-width="0.3">2015</text>
<text x="355" y="123.85" font-size="4.0" text-anchor="end" font-weight="bold" fill="#222" stroke="#222" stroke-width="0.3">Adult</text>
<text x="355" y="128.45" font-size="4.0" text-anchor="end" font-weight="bold" fill="#222" stroke="#222" stroke-width="0.3">Pre</text>
<text x="355" y="133.05" font-size="4.0" text-anchor="end" font-weight="bold" fill="#222" stroke="#222" stroke-width="0.3">2015</text>
<text x="365.85" y="140.3" font-size="4.3" text-anchor="end" font-weight="bold" fill="#333" transform="rotate(-90 365.85 140.3)" stroke="#333" stroke-width="0.22">Adult</text>
<text x="369.85" y="140.3" font-size="4.3" text-anchor="end" font-weight="bold" fill="#333" transform="rotate(-90 369.85 140.3)" stroke="#333" stroke-width="0.22">Pre</text>
<text x="373.85" y="140.3" font-size="4.3" text-anchor="end" font-weight="bold" fill="#333" transform="rotate(-90 373.85 140.3)" stroke="#333" stroke-width="0.22">2015</text>
<text x="386.55" y="140.3" font-size="4.3" text-anchor="end" font-weight="bold" fill="#333" transform="rotate(-90 386.55 140.3)" stroke="#333" stroke-width="0.22">Adult</text>
<text x="390.55" y="140.3" font-size="4.3" text-anchor="end" font-weight="bold" fill="#333" transform="rotate(-90 390.55 140.3)" stroke="#333" stroke-width="0.22">2015</text>
<text x="405.25" y="140.3" font-size="4.3" text-anchor="end" font-weight="bold" fill="#333" transform="rotate(-90 405.25 140.3)" stroke="#333" stroke-width="0.22">Adult</text>
<text x="409.25" y="140.3" font-size="4.3" text-anchor="end" font-weight="bold" fill="#333" transform="rotate(-90 409.25 140.3)" stroke="#333" stroke-width="0.22">2016</text>
<text x="423.95" y="140.3" font-size="4.3" text-anchor="end" font-weight="bold" fill="#333" transform="rotate(-90 423.95 140.3)" stroke="#333" stroke-width="0.22">Adult</text>
<text x="427.95" y="140.3" font-size="4.3" text-anchor="end" font-weight="bold" fill="#333" transform="rotate(-90 427.95 140.3)" stroke="#333" stroke-width="0.22">2017</text>
<text x="442.65" y="140.3" font-size="4.3" text-anchor="end" font-weight="bold" fill="#333" transform="rotate(-90 442.65 140.3)" stroke="#333" stroke-width="0.22">Juvenile</text>
<text x="446.65" y="140.3" font-size="4.3" text-anchor="end" font-weight="bold" fill="#333" transform="rotate(-90 446.65 140.3)" stroke="#333" stroke-width="0.22">2016</text>
<text x="461.35" y="140.3" font-size="4.3" text-anchor="end" font-weight="bold" fill="#333" transform="rotate(-90 461.35 140.3)" stroke="#333" stroke-width="0.22">Juvenile</text>
<text x="465.35" y="140.3" font-size="4.3" text-anchor="end" font-weight="bold" fill="#333" transform="rotate(-90 465.35 140.3)" stroke="#333" stroke-width="0.22">2017</text>
<text x="286.8" y="61.2" font-size="6.0" text-anchor="start" font-weight="bold" fill="#111" stroke="#111" stroke-width="0.2">Pairwise FST</text>
<defs><linearGradient id="cb" x1="0" y1="1" x2="0" y2="0"><stop offset="0" stop-color="#2000c8"/><stop offset="0.3" stop-color="#6a30d0"/><stop offset="0.55" stop-color="#a858d0"/><stop offset="0.7" stop-color="#c85098"/><stop offset="1" stop-color="#d03030"/></linearGradient></defs>
<rect x="297.3" y="63.6" width="12.6" height="53.4" fill="#ffd8ff"/>
<rect x="298" y="64.2" width="11" height="52" fill="url(#cb)"/>
<text x="286.6" y="66" font-size="4.0" text-anchor="start" fill="#444">0.15</text>
<text x="286.6" y="83.5" font-size="4.0" text-anchor="start" fill="#444">0.10</text>
<text x="286.6" y="101" font-size="4.0" text-anchor="start" fill="#444">0.05</text>
<text x="286.6" y="118.5" font-size="4.0" text-anchor="start" fill="#444">0.00</text>
<text x="5.6" y="250" font-size="9" text-anchor="start" font-weight="bold" fill="#111" stroke="#111" stroke-width="0.3">b.</text>
<rect x="25.2" y="251.2" width="245.3" height="271.3" fill="#ebebeb"/>
<line x1="25.2" y1="509.55" x2="270.5" y2="509.55" stroke="#f6f6f6" stroke-width="0.45"/>
<line x1="25.2" y1="496.95" x2="270.5" y2="496.95" stroke="#f6f6f6" stroke-width="0.45"/>
<line x1="25.2" y1="485.4" x2="270.5" y2="485.4" stroke="#f6f6f6" stroke-width="0.45"/>
<line x1="25.2" y1="473.05" x2="270.5" y2="473.05" stroke="#f6f6f6" stroke-width="0.45"/>
<line x1="25.2" y1="459.75" x2="270.5" y2="459.75" stroke="#f6f6f6" stroke-width="0.45"/>
<line x1="25.2" y1="447.85" x2="270.5" y2="447.85" stroke="#f6f6f6" stroke-width="0.45"/>
<line x1="25.2" y1="437.05" x2="270.5" y2="437.05" stroke="#f6f6f6" stroke-width="0.45"/>
<line x1="25.2" y1="426.4" x2="270.5" y2="426.4" stroke="#f6f6f6" stroke-width="0.45"/>
<line x1="25.2" y1="416.35" x2="270.5" y2="416.35" stroke="#f6f6f6" stroke-width="0.45"/>
<line x1="25.2" y1="406.4" x2="270.5" y2="406.4" stroke="#f6f6f6" stroke-width="0.45"/>
<line x1="25.2" y1="395.4" x2="270.5" y2="395.4" stroke="#f6f6f6" stroke-width="0.45"/>
<line x1="25.2" y1="385.1" x2="270.5" y2="385.1" stroke="#f6f6f6" stroke-width="0.45"/>
<line x1="25.2" y1="376.7" x2="270.5" y2="376.7" stroke="#f6f6f6" stroke-width="0.45"/>
<line x1="25.2" y1="368" x2="270.5" y2="368" stroke="#f6f6f6" stroke-width="0.45"/>
<line x1="25.2" y1="358.15" x2="270.5" y2="358.15" stroke="#f6f6f6" stroke-width="0.45"/>
<line x1="25.2" y1="347.55" x2="270.5" y2="347.55" stroke="#f6f6f6" stroke-width="0.45"/>
<line x1="25.2" y1="337.65" x2="270.5" y2="337.65" stroke="#f6f6f6" stroke-width="0.45"/>
<line x1="25.2" y1="328.6" x2="270.5" y2="328.6" stroke="#f6f6f6" stroke-width="0.45"/>
<line x1="25.2" y1="319.75" x2="270.5" y2="319.75" stroke="#f6f6f6" stroke-width="0.45"/>
<line x1="25.2" y1="312.45" x2="270.5" y2="312.45" stroke="#f6f6f6" stroke-width="0.45"/>
<line x1="25.2" y1="306.15" x2="270.5" y2="306.15" stroke="#f6f6f6" stroke-width="0.45"/>
<line x1="25.2" y1="299.2" x2="270.5" y2="299.2" stroke="#f6f6f6" stroke-width="0.45"/>
<line x1="25.2" y1="292.12" x2="270.5" y2="292.12" stroke="#f6f6f6" stroke-width="0.45"/>
<line x1="25.2" y1="284.12" x2="270.5" y2="284.12" stroke="#f6f6f6" stroke-width="0.45"/>
<line x1="25.2" y1="275.75" x2="270.5" y2="275.75" stroke="#f6f6f6" stroke-width="0.45"/>
<line x1="25.2" y1="269.12" x2="270.5" y2="269.12" stroke="#f6f6f6" stroke-width="0.45"/>
<line x1="25.2" y1="263.12" x2="270.5" y2="263.12" stroke="#f6f6f6" stroke-width="0.45"/>
<line x1="25.2" y1="257" x2="270.5" y2="257" stroke="#f6f6f6" stroke-width="0.45"/>
<line x1="25.2" y1="516.2" x2="270.5" y2="516.2" stroke="#fff" stroke-width="0.9"/>
<line x1="25.2" y1="502.9" x2="270.5" y2="502.9" stroke="#fff" stroke-width="0.9"/>
<line x1="25.2" y1="491" x2="270.5" y2="491" stroke="#fff" stroke-width="0.9"/>
<line x1="25.2" y1="479.8" x2="270.5" y2="479.8" stroke="#fff" stroke-width="0.9"/>
<line x1="25.2" y1="466.3" x2="270.5" y2="466.3" stroke="#fff" stroke-width="0.9"/>
<line x1="25.2" y1="453.2" x2="270.5" y2="453.2" stroke="#fff" stroke-width="0.9"/>
<line x1="25.2" y1="442.5" x2="270.5" y2="442.5" stroke="#fff" stroke-width="0.9"/>
<line x1="25.2" y1="431.6" x2="270.5" y2="431.6" stroke="#fff" stroke-width="0.9"/>
<line x1="25.2" y1="421.2" x2="270.5" y2="421.2" stroke="#fff" stroke-width="0.9"/>
<line x1="25.2" y1="411.5" x2="270.5" y2="411.5" stroke="#fff" stroke-width="0.9"/>
<line x1="25.2" y1="401.3" x2="270.5" y2="401.3" stroke="#fff" stroke-width="0.9"/>
<line x1="25.2" y1="389.5" x2="270.5" y2="389.5" stroke="#fff" stroke-width="0.9"/>
<line x1="25.2" y1="380.7" x2="270.5" y2="380.7" stroke="#fff" stroke-width="0.9"/>
<line x1="25.2" y1="372.7" x2="270.5" y2="372.7" stroke="#fff" stroke-width="0.9"/>
<line x1="25.2" y1="363.3" x2="270.5" y2="363.3" stroke="#fff" stroke-width="0.9"/>
<line x1="25.2" y1="353" x2="270.5" y2="353" stroke="#fff" stroke-width="0.9"/>
<line x1="25.2" y1="342.1" x2="270.5" y2="342.1" stroke="#fff" stroke-width="0.9"/>
<line x1="25.2" y1="333.2" x2="270.5" y2="333.2" stroke="#fff" stroke-width="0.9"/>
<line x1="25.2" y1="324" x2="270.5" y2="324" stroke="#fff" stroke-width="0.9"/>
<line x1="25.2" y1="315.5" x2="270.5" y2="315.5" stroke="#fff" stroke-width="0.9"/>
<line x1="25.2" y1="309.4" x2="270.5" y2="309.4" stroke="#fff" stroke-width="0.9"/>
<line x1="25.2" y1="302.9" x2="270.5" y2="302.9" stroke="#fff" stroke-width="0.9"/>
<line x1="25.2" y1="295.5" x2="270.5" y2="295.5" stroke="#fff" stroke-width="0.9"/>
<line x1="25.2" y1="288.75" x2="270.5" y2="288.75" stroke="#fff" stroke-width="0.9"/>
<line x1="25.2" y1="279.5" x2="270.5" y2="279.5" stroke="#fff" stroke-width="0.9"/>
<line x1="25.2" y1="272" x2="270.5" y2="272" stroke="#fff" stroke-width="0.9"/>
<line x1="25.2" y1="266.25" x2="270.5" y2="266.25" stroke="#fff" stroke-width="0.9"/>
<line x1="25.2" y1="260" x2="270.5" y2="260" stroke="#fff" stroke-width="0.9"/>
<line x1="25.2" y1="254" x2="270.5" y2="254" stroke="#fff" stroke-width="0.9"/>
<line x1="29.88" y1="251.2" x2="29.88" y2="522.5" stroke="#f6f6f6" stroke-width="0.45"/>
<line x1="77.12" y1="251.2" x2="77.12" y2="522.5" stroke="#f6f6f6" stroke-width="0.45"/>
<line x1="124.38" y1="251.2" x2="124.38" y2="522.5" stroke="#f6f6f6" stroke-width="0.45"/>
<line x1="171.62" y1="251.2" x2="171.62" y2="522.5" stroke="#f6f6f6" stroke-width="0.45"/>
<line x1="218.88" y1="251.2" x2="218.88" y2="522.5" stroke="#f6f6f6" stroke-width="0.45"/>
<line x1="266.12" y1="251.2" x2="266.12" y2="522.5" stroke="#f6f6f6" stroke-width="0.45"/>
<line x1="53.5" y1="251.2" x2="53.5" y2="522.5" stroke="#fff" stroke-width="0.9"/>
<line x1="100.75" y1="251.2" x2="100.75" y2="522.5" stroke="#fff" stroke-width="0.9"/>
<line x1="195.25" y1="251.2" x2="195.25" y2="522.5" stroke="#fff" stroke-width="0.9"/>
<line x1="242.5" y1="251.2" x2="242.5" y2="522.5" stroke="#fff" stroke-width="0.9"/>
<rect x="125.5" y="510.3" width="40.3" height="12.25" fill="#303030"/>
<rect x="125.5" y="495.6" width="40.3" height="14.75" fill="#1212e4"/>
<rect x="125.5" y="486.4" width="40.3" height="9.25" fill="#303030"/>
<rect x="125.5" y="473.2" width="40.3" height="13.25" fill="#1212e4"/>
<rect x="125.5" y="459.2" width="40.3" height="14.05" fill="#303030"/>
<rect x="125.5" y="447.9" width="40.3" height="11.35" fill="#1212e4"/>
<rect x="125.5" y="438.4" width="40.3" height="9.55" fill="#303030"/>
<rect x="125.5" y="424.8" width="40.3" height="13.65" fill="#1212e4"/>
<rect x="125.5" y="416.9" width="40.3" height="7.95" fill="#303030"/>
<rect x="125.5" y="407.9" width="40.3" height="9.05" fill="#1212e4"/>
<rect x="125.5" y="397.5" width="40.3" height="10.45" fill="#303030"/>
<rect x="125.5" y="383.9" width="40.3" height="13.65" fill="#1212e4"/>
<rect x="125.5" y="378" width="40.3" height="5.95" fill="#303030"/>
<rect x="125.5" y="367.6" width="40.3" height="10.45" fill="#1212e4"/>
<rect x="125.5" y="360" width="40.3" height="7.65" fill="#303030"/>
<rect x="125.5" y="347.8" width="40.3" height="12.25" fill="#1212e4"/>
<rect x="125.5" y="337.5" width="40.3" height="10.35" fill="#303030"/>
<rect x="125.5" y="327.8" width="40.3" height="9.75" fill="#1212e4"/>
<rect x="125.5" y="320.2" width="40.3" height="7.65" fill="#303030"/>
<rect x="125.5" y="311.7" width="40.3" height="8.55" fill="#1212e4"/>
<rect x="125.5" y="307.5" width="40.3" height="4.25" fill="#303030"/>
<rect x="125.5" y="299.5" width="40.3" height="8.05" fill="#1212e4"/>
<rect x="125.5" y="292.6" width="40.3" height="6.95" fill="#303030"/>
<rect x="125.5" y="285.3" width="40.3" height="7.35" fill="#1212e4"/>
<rect x="125.5" y="274.9" width="40.3" height="10.45" fill="#303030"/>
<rect x="125.5" y="269.7" width="40.3" height="5.25" fill="#1212e4"/>
<rect x="125.5" y="264.5" width="40.3" height="5.25" fill="#303030"/>
<rect x="125.5" y="257" width="40.3" height="7.55" fill="#1212e4"/>
<rect x="125.5" y="251.4" width="40.3" height="5.65" fill="#303030"/>
<path d="M180.93 406.09h.01M124.71 402.16h.01M176.03 282.01h.01M171.06 443.54h.01M168.6 441.76h.01M173.14 340.27h.01M167.12 276.62h.01M120.92 283.52h.01M116.86 266.51h.01M123.81 441.69h.01M121.9 345.37h.01M70.48 469.99h.01M179.49 462.04h.01M179.68 487.39h.01M115.4 470.31h.01M170.46 521.82h.01M116.01 403.22h.01M210.57 487.11h.01M168.16 282.36h.01M116.75 378.61h.01M101.5 347.01h.01M167.91 265.08h.01M169.27 439.11h.01M176.29 297.95h.01M168.1 311.05h.01M187.58 264.75h.01M116.97 346.5h.01M108.57 279.59h.01M180.47 299.23h.01M119.83 518.84h.01M104.44 365.52h.01M58.89 469.2h.01M96.46 463.92h.01M186.19 297.42h.01M112.65 298.86h.01M172.6 401.63h.01M106.06 279.98h.01M110.88 282.01h.01M175.67 400.99h.01M175.09 465.89h.01M182.79 399.94h.01M167.79 367.16h.01M212.8 280.94h.01M122.56 517.91h.01M178.75 444.7h.01M122.53 253.64h.01M166.55 268.02h.01M106.59 441.94h.01M187.97 402.25h.01M114.2 363.42h.01M117.48 365.91h.01M170.18 309.24h.01M123.38 516.15h.01M189.24 278.18h.01M87.15 465.39h.01M114.55 465.6h.01M174 284.75h.01M93.85 264.75h.01M174.14 407.46h.01M179.4 522.21h.01M172.08 309.67h.01M123.61 363.59h.01M123.97 340.45h.01M192.32 492.13h.01M111.11 421.15h.01M219.49 341.28h.01M193.95 364.51h.01M179.23 400.73h.01M172.61 299.27h.01M108.67 325.95h.01M181.68 347.03h.01M169 296.34h.01M120.31 514.71h.01M124.26 399.02h.01M113.34 322.98h.01M166.88 444.83h.01M122.61 405.06h.01M171.54 321.7h.01M182.15 309.69h.01M114.94 420.46h.01M118.76 471.21h.01M166.79 340.67h.01M113.71 494.57h.01M178.67 519.33h.01M173.26 382.25h.01M81.83 467.06h.01M212.77 307.74h.01M204.93 440.17h.01M116.09 361.64h.01M48.92 463.78h.01M111.59 513.56h.01M72.37 460.99h.01M111.53 516.68h.01M124.12 459.7h.01M92.72 422.23h.01M122.19 491.48h.01M168.41 275.85h.01M170.61 422.62h.01M166.66 424.22h.01M37.96 465.03h.01M174.62 468.29h.01M74.2 465.54h.01M195.94 379.81h.01M177.05 346.26h.01M113.91 464.98h.01M124.47 293.44h.01M106.19 362.68h.01M122.59 252.24h.01M173.34 310.38h.01M178.73 338.03h.01M47.19 468.03h.01M79.96 465h.01M171.95 441h.01M103.25 487.12h.01M190.22 362.68h.01M181.22 514.85h.01M192.61 492.56h.01M120.32 362.11h.01M99.16 514.51h.01M187.03 309.64h.01M169.22 438.81h.01M176.65 382.88h.01M106.83 403.2h.01M108.27 323.57h.01M118.65 441.84h.01M174.67 405.53h.01M181.14 490.37h.01M183.45 365.68h.01M117.81 252.75h.01M172.01 490.79h.01M114.32 344.13h.01M166.4 279.8h.01M91.15 295.83h.01M83.38 423.14h.01M176.86 494.25h.01M64.28 461.15h.01M120.29 515.92h.01M99.48 446.6h.01M185.97 364.82h.01M108.47 442.13h.01M179.58 514.35h.01M119.98 297.94h.01M86.48 459.64h.01M124.31 323.23h.01M121.51 308.35h.01M105.91 417.77h.01M174.03 515.35h.01M123.61 487.27h.01M172.19 406.54h.01M168.72 380.57h.01M168.35 439.75h.01M102.66 422.77h.01M202.81 463.06h.01M210.71 295.82h.01M121.27 267.51h.01M96.65 340.6h.01M177.34 460.79h.01M175.75 521.1h.01M170.54 278.12h.01M100.03 520.82h.01M83.39 460.66h.01M122.27 423.03h.01M108.22 420.24h.01M122.9 470.29h.01M123.05 299.08h.01M104.32 469.21h.01M184.99 346.57h.01M105.36 381.07h.01M173.16 486.86h.01M76.5 464.21h.01M116.58 265.98h.01M101.02 366.03h.01M120.72 276.71h.01M91.03 467.99h.01M171.31 363.94h.01M173.23 380.63h.01M172.49 310.69h.01M167.64 324.24h.01M58.9 460.38h.01M120.34 424.56h.01M176.44 447.57h.01M111.82 406.38h.01M211.85 324.05h.01M168.46 264.86h.01M93.34 461.91h.01M123.85 361.22h.01M36.6 463.44h.01M174.66 472.37h.01M173.56 324.14h.01M61.13 464.76h.01M109.77 360.81h.01M123.19 297.14h.01M109.76 465.19h.01M121.94 465.81h.01M109.17 512h.01M202.96 322.02h.01M168.73 446.12h.01M95.38 295.44h.01M45.84 468.58h.01M167.97 253.68h.01M123.24 422.61h.01M57.16 460.54h.01M180.04 346.46h.01M124.45 513.67h.01M114.56 521.63h.01M168.81 399.98h.01M182.93 382.99h.01M89.73 468.59h.01M116.57 460.84h.01M168.53 401.16h.01M122.03 463.8h.01M110.25 513.96h.01M169.73 309.81h.01M120.98 362.39h.01M121.37 294.55h.01M167.91 402.01h.01M183.58 293.15h.01M111.14 320.86h.01M93.53 469.27h.01M93.41 298.12h.01M111.93 488.08h.01M119.53 325.56h.01M112.18 445.15h.01M121.95 492.95h.01M189 281.12h.01M176.4 401.13h.01M166.67 310.56h.01M51.72 462.82h.01M170.02 254.44h.01M166.69 459.46h.01M180.47 423.51h.01M172.46 417.32h.01M90.04 325.56h.01M166.2 268.87h.01M96.11 493.56h.01M118.22 254.79h.01M171.56 383.64h.01M177.85 468.21h.01M105.59 309.78h.01M101.12 520.52h.01M119.84 520.77h.01M101.71 380.25h.01M108.07 469.61h.01M73.43 463.18h.01M94.95 326.9h.01M166.6 365.35h.01M93.27 460.35h.01M113.08 492.65h.01M166.05 438.7h.01M172.94 487.76h.01M78.63 470.28h.01M188.83 346.46h.01M172.19 323.75h.01M178.43 468.39h.01M177.39 266.41h.01M183.58 324.72h.01M195.73 403.76h.01M123.3 399.49h.01M104.52 490.52h.01M171.48 423.39h.01M124.75 471.08h.01M116.78 367.17h.01M97.92 404.72h.01M89.66 443.91h.01M120.02 491.83h.01M180.98 460.02h.01M76.45 293.3h.01M123.15 382.43h.01M121.33 380.78h.01M118.78 363.52h.01M122.46 406.99h.01M109.17 461.76h.01M170.49 463.04h.01M118.49 491.48h.01M116.18 281.76h.01M202.09 490.08h.01M85.42 267.07h.01M33.09 462.93h.01M196.87 398.33h.01M169.34 472.09h.01M121.83 487.68h.01M117.06 309.18h.01M180.33 406h.01M169.19 461.26h.01M172.28 491.21h.01M122.15 326.21h.01M175.23 296.33h.01M189.1 295.06h.01M119.83 515.14h.01M39.83 462.49h.01M207.06 277.31h.01M61.16 470.18h.01M174.49 321.31h.01M173.82 420.45h.01M49.94 468.95h.01M124.09 400.56h.01M118.78 282.36h.01M114.8 284.03h.01M168.46 253.98h.01M99.17 299.16h.01M116.65 267.38h.01M118.56 342.04h.01M62.02 464.91h.01M170.77 403.86h.01M122.68 518.68h.01M172.93 447.22h.01M93.7 443.09h.01M176.98 440.51h.01M168.26 517.22h.01M193.12 471.68h.01M124.35 276.91h.01M55.25 468.59h.01M169.83 520.59h.01M113.62 417.22h.01M106.48 276.42h.01M109.71 323.34h.01M111.15 365.24h.01M109.19 339.91h.01M116.55 515.7h.01M167.93 512h.01M122.79 443.81h.01M116.87 363.72h.01M122.74 472.31h.01M171.85 265.06h.01M171.62 293.99h.01M169.68 489.57h.01M116.32 490.65h.01M174.35 284.22h.01M166.46 308.33h.01M123.26 469.37h.01M112.33 516.62h.01M112.11 517.11h.01M116.37 380.37h.01M104.57 439.77h.01M173.19 521.54h.01M98.35 276.75h.01M107.64 463.19h.01M119.31 283.38h.01M200.57 324h.01M117.84 281.38h.01M98.16 347h.01M179.43 420.42h.01M124 296.33h.01M190.18 513.07h.01M168.24 406.45h.01M92.14 405.46h.01M170.77 467.98h.01M123.01 347.09h.01M97.46 265.83h.01M166.41 487.13h.01M117.06 267.11h.01M186.92 443.44h.01M190.52 339.71h.01M172.97 460.28h.01M94.62 308.27h.01M188.98 516.2h.01M166.51 459.48h.01M117.79 444.95h.01M176.67 401.92h.01M124.03 406.92h.01M80.2 469.42h.01M177.2 519.38h.01M180.64 398.01h.01M172.67 253.96h.01M173.73 522.27h.01M118.71 282.88h.01M107.8 511.5h.01M262.55 521.6h.01M121.5 417.89h.01M124.55 282.7h.01M115.6 363.89h.01M87.26 307.76h.01M55.68 469.66h.01M109.02 281.67h.01M107.83 487.61h.01M122.07 254.66h.01M118.19 516.1h.01M180.91 510.98h.01M122.3 378.5h.01M174.6 401.15h.01M111.77 493.99h.01M119.61 418.81h.01M85.87 283.95h.01M55.34 469.13h.01M102.71 403.29h.01M176.5 471.96h.01M123.28 298.88h.01M114.82 278.89h.01M97.78 398.01h.01M197.53 253.74h.01M123.85 268.12h.01M179.25 444.88h.01M121.21 252.02h.01M109.75 487.34h.01M179.97 419.84h.01M123.15 491.02h.01M186.4 298.82h.01M179.98 486.89h.01M121.73 464.22h.01M119.18 467.6h.01M123.47 404.45h.01M84.69 463.94h.01M118.53 488.81h.01M103.36 490.22h.01M195.3 320.97h.01M181.09 402.7h.01M233.76 489.94h.01M168.76 465.6h.01M201.38 459.92h.01M210.15 378.46h.01M187.89 256.03h.01M113.36 267.52h.01M169.15 338.29h.01M172.34 254.93h.01M169.67 294.79h.01M182.53 419.76h.01M121.68 405.52h.01M45.37 460.97h.01M176.77 517.67h.01M177.86 278.85h.01M120.82 293.33h.01M166.62 422.71h.01M52.5 463.95h.01M185.25 471.99h.01M179.76 278.51h.01M192.71 251.73h.01M184.56 423.13h.01M173.76 343.57h.01M104.09 322.47h.01M174.55 381.12h.01M124.64 284.06h.01M110.88 339.85h.01M183.93 254.13h.01M108.17 360.86h.01M115.6 362.25h.01M123.26 251.89h.01M166.61 422.69h.01M169.83 404.62h.01M116.22 297.42h.01M48.8 470.06h.01M73.95 466.24h.01M106.67 462.42h.01M119.95 293.05h.01M166.21 254.48h.01M177.58 494.37h.01M107.66 521.24h.01M170.35 441.78h.01M50.9 467.44h.01M111.46 254.53h.01M72.35 466.61h.01M167.33 252.68h.01M205.51 514.27h.01M112.15 326.31h.01M173.48 422.79h.01M170.18 441.07h.01M101.34 446.1h.01M176.09 268.47h.01M101.11 468.02h.01M172.74 296.13h.01M173.42 345.24h.01M83.29 298.75h.01M206.75 378.99h.01M166.15 363.49h.01M175.31 276.98h.01M121.31 279.48h.01M101.6 256.38h.01M174.56 293.07h.01M96.6 468.9h.01M114.13 366.81h.01M105.21 255.94h.01M101.56 277.37h.01M180.91 364.4h.01M182.09 325.95h.01M114.09 486.95h.01M67.48 468.62h.01M206.45 310.99h.01M166.21 309.85h.01M122.99 344.68h.01M95.27 399.33h.01M103.78 443.3h.01M167.42 308.22h.01M105.52 514.7h.01M168.14 512.77h.01M185 514.79h.01M110.83 512.99h.01M118.19 379.32h.01M60.75 465.52h.01M121.1 327.17h.01M119.89 297.91h.01M112.61 439.61h.01M122.38 487.87h.01M108.43 422.03h.01M117.71 324.23h.01M67.93 442.1h.01M95.36 420.99h.01M120.73 381.01h.01M70.56 464.11h.01M215.26 442.08h.01M117.99 465.3h.01M51.81 465.64h.01M175.36 292.96h.01M181.44 459.45h.01M167.32 440.98h.01M113.63 277.11h.01M117.28 326.05h.01M208.24 489.86h.01M122.81 417.48h.01M109.09 324.29h.01M170.7 321.18h.01M195.93 491.25h.01M185.8 296.19h.01M110.19 343.95h.01M121.85 342.02h.01M117.43 511.35h.01M111.64 494.04h.01M189.32 361.98h.01M116.97 405.84h.01M184.67 275.82h.01M176.65 321.35h.01M118.54 311.12h.01M49.42 463.86h.01M171.31 510.76h.01M168.05 472.84h.01M176.1 254.66h.01M113.42 308.64h.01M201.8 491.19h.01M109.31 340.52h.01M114.78 521.08h.01M110.48 419.89h.01M174.54 278.67h.01M178.61 254.95h.01M99.89 420.52h.01M118.43 440.8h.01M170.39 404.75h.01M88.46 365.35h.01M187.11 516.29h.01M122.24 339.67h.01M43.71 468.72h.01M117.4 340.64h.01M117.93 462.14h.01M103.55 321.42h.01M96.95 360.43h.01M221.2 339.87h.01M210 447.52h.01M51.49 460.79h.01M114.15 282.46h.01M172.39 513.01h.01M113.64 471.47h.01M109.59 447.57h.01M166.96 472.39h.01M118.03 383.5h.01M167.62 307.95h.01M185.33 422.92h.01M169.72 469.32h.01M176.6 461.86h.01M64.72 464.81h.01M166.53 294.77h.01M97.3 255.03h.01M169.59 398.59h.01M123.1 404.29h.01M170.26 490.68h.01M53.59 462.75h.01M95.11 323.96h.01M192.31 361.71h.01M114.18 269.49h.01M97 362.51h.01M199.05 445.12h.01M175.67 470.75h.01M106.74 339.23h.01M187.29 402.78h.01M114.69 363.39h.01M114.99 365.41h.01M99.82 467.81h.01M172.52 278.99h.01M176.41 298.26h.01M171.23 510.9h.01M171.5 518.46h.01M114.84 494.13h.01M117.94 278.21h.01M169.62 440.29h.01M122.45 293.06h.01M118.41 293.82h.01M202.83 296.76h.01M118.96 424.27h.01M124.77 251.64h.01M102.83 512.4h.01M168.66 253.72h.01M180.42 310.35h.01M179 421.75h.01M57.56 470.25h.01M186.14 495.39h.01M172.25 441.94h.01M120.64 472.97h.01M172.31 279.93h.01M169 465.2h.01M106.4 268.96h.01M178.71 398.24h.01M116.24 256.32h.01M103.2 489.33h.01M172.08 322.45h.01M113.8 364h.01M108.2 492.77h.01M169.07 326.36h.01M112.77 276.39h.01M111.96 460.86h.01M120.42 417.18h.01M167.23 280.06h.01M118.17 294.79h.01M166.94 281.8h.01M208.9 512.49h.01M179.43 461.52h.01M93.44 402.23h.01M197.22 403.66h.01M115.15 417.72h.01M169.74 279.19h.01M124.87 469.65h.01M51.45 467.44h.01M189.51 346.7h.01M177.16 467.9h.01M167.92 405.67h.01M168.65 460.73h.01M167.3 339.86h.01M117.25 382.56h.01M114.44 488.28h.01M119.1 382.82h.01M169.64 424.16h.01M179.45 268.94h.01M90.06 469.17h.01M121.23 517.41h.01M122.55 468.41h.01M112.24 486.96h.01M178.12 520.42h.01M169.32 366.84h.01M115.06 278h.01M167.18 251.77h.01M112.01 469.78h.01M176.15 308.82h.01M174.83 254.9h.01M174.43 511.08h.01M122.26 308.16h.01M90.55 282.66h.01M121.15 519.05h.01M174.44 440.28h.01M173.59 341.24h.01M37.37 365.19h.01M232.11 419.11h.01M114.33 442.2h.01M106.02 445.17h.01M113.23 283.17h.01M82.61 461.97h.01M183.03 398.35h.01M123.27 360.29h.01M174.78 364.79h.01M117.1 402.89h.01M116.73 295.44h.01M102.98 439.68h.01M169.74 405.43h.01M195.57 252.13h.01M100.74 422.96h.01M178.52 402.21h.01M168.13 516.44h.01M44.37 460.94h.01M123.16 494.04h.01M167.47 514.56h.01M116.07 295.18h.01M168.92 269.18h.01M177.03 517.02h.01M75.17 268.87h.01M180.38 367.15h.01M121.07 379.42h.01M122.8 439.4h.01M110.4 417.79h.01M169.04 442.84h.01M116.22 406.09h.01M174.64 322.63h.01M171.72 380.79h.01M117.8 511.49h.01M118.22 285.02h.01M167.51 347.26h.01M189.85 327.57h.01M215.9 404.59h.01M97.09 467.89h.01M171.75 308.22h.01M114.61 423.4h.01M196 423.82h.01M119.63 255.05h.01M112.78 254.18h.01M93.99 321.68h.01M180.8 424.38h.01M117.89 486.85h.01M61.09 463.08h.01M167.05 439.72h.01M116.29 341.76h.01M171.53 447.31h.01M117.45 418.93h.01M179.47 298.57h.01M168.87 487.2h.01M122.76 343.95h.01M166.45 420.34h.01M207.85 421.92h.01M186.49 347.13h.01M107.34 418.67h.01M105.77 398.85h.01M118.54 265.36h.01M97.3 465.93h.01M120.05 401.81h.01M119.99 346.07h.01M175.42 462.62h.01M116.06 522.12h.01M109.79 253.44h.01M122.1 520.36h.01M176.33 460.61h.01M112.22 383.06h.01M57.54 380.34h.01M102.11 325.39h.01M195 275.11h.01M122.22 361.35h.01M124.63 285.05h.01M118.98 440.93h.01M168.22 293.53h.01M208.41 294.28h.01M121.66 518.95h.01M121.5 361.48h.01M108.1 299.03h.01M192.51 294.02h.01M171.94 405.18h.01M188.97 470.34h.01M177.73 403.02h.01M193.87 382.25h.01M55.32 470.27h.01M168.3 340h.01M96 461.76h.01M177.16 442.26h.01M167.22 417.16h.01M190.12 441.56h.01M170.61 472.61h.01M174.99 472.91h.01M118.34 439.02h.01M98.42 402.07h.01M181.11 340.79h.01M171.57 327.02h.01M120.24 489.88h.01M112.73 338.75h.01M197.32 459.89h.01M118.25 510.68h.01M181.15 493.1h.01M171.6 489.51h.01M235.18 277.22h.01M78.3 469.35h.01M123.61 470.09h.01M123.25 519.27h.01M97.97 311.38h.01M124.5 252.85h.01M214.42 493.57h.01M169.13 340.78h.01M225.55 381.19h.01M203.15 446.47h.01M110.4 285.03h.01M179.74 381.33h.01M168.17 380.74h.01M119.48 295.27h.01M105.28 513.56h.01M166.15 321.88h.01M171.4 297h.01M102.21 341.83h.01M120.21 489.24h.01M194.07 324.45h.01M120.53 379.85h.01M184.42 442.59h.01M205.55 464.67h.01M182.84 361.98h.01M92.59 462.1h.01M104.66 443.96h.01M120.85 284.97h.01M97.5 282.2h.01M123.69 338.89h.01M105.77 421.9h.01M118.14 472.41h.01M213.37 269.29h.01M167.24 488.67h.01M118.34 420.25h.01M97.95 469.96h.01M166.67 467.15h.01M124.85 281.07h.01M181.41 293.09h.01M177.44 266.81h.01M177.28 403.35h.01M101.62 276.6h.01M170.88 446.37h.01M182.1 340.87h.01M169.97 513.43h.01M121.04 491.91h.01M85.45 463.74h.01M123.71 266.33h.01M185.01 517.01h.01M116.42 420.61h.01M124.27 491h.01M117.85 279.2h.01M98.09 400.32h.01M99.63 345.97h.01M199.99 279.3h.01M175.23 380.81h.01M86.04 439.84h.01M184.69 361.25h.01M49.54 470.37h.01M175.78 379.98h.01M119.64 515.28h.01M166.34 514.23h.01M166.69 381.69h.01M183.2 466.45h.01M115.87 255.37h.01M109.35 401.66h.01M168.7 366.57h.01M61.76 462.57h.01M79.35 460.62h.01M111.15 471.02h.01M105.4 324.99h.01M170.03 322.59h.01M175.94 492.12h.01M180.82 520.42h.01M121.81 325.29h.01M166.8 470.09h.01M123.21 519.23h.01M118.5 471.62h.01M88.04 486.95h.01M167.52 364.98h.01M117.54 407.61h.01M202.62 344.96h.01M180.72 470.29h.01M186.28 516.65h.01M110 361.03h.01M166.04 340.54h.01M190.94 298.61h.01M107.59 294.69h.01M58.44 464.67h.01M116.67 420.4h.01M179.81 518.21h.01M179.32 340.62h.01M166.88 309.31h.01M176.62 281.67h.01M169.67 443.71h.01M192.31 276.64h.01M123.14 276.72h.01M111.53 347.44h.01M123.77 285h.01M175.93 380.54h.01M178.3 344.26h.01M89.41 254.75h.01M104.54 325.96h.01M183.4 380.39h.01M120.51 440.23h.01M196.24 488.12h.01M118.89 491.42h.01M117.47 269.09h.01M122.19 490.53h.01M186.62 514.88h.01M116.02 514.41h.01M166.47 343.85h.01M112.01 296.19h.01M170.15 383.31h.01M107.2 517.86h.01M47.97 326.47h.01M113.51 516.54h.01M89.05 399h.01M172.4 365.38h.01M182.35 488.49h.01M109.35 324.9h.01M204.62 469.98h.01M263.25 295.24h.01M166.85 284.02h.01M92.33 309.12h.01M118.2 423.02h.01M116.56 275.53h.01M168.45 403.41h.01M194.1 340.25h.01M167.62 363.27h.01M188.51 252.44h.01M115.63 471.57h.01M186.91 309.41h.01M206.86 360.95h.01M182.67 459.45h.01M175 519.42h.01M88.84 466.16h.01M120.5 321.02h.01M84.48 466.52h.01M119.57 398.85h.01M104.6 403.12h.01M114.42 339.08h.01M197.07 382.89h.01M183.05 381.92h.01M169.87 510.76h.01M113.21 361.01h.01M177.8 440.28h.01M178 462.43h.01M169.45 405.48h.01M202.82 366.91h.01M174.08 399.82h.01M113.5 296.82h.01M168.92 310.3h.01M122.79 327.44h.01M166.09 253.95h.01M120.28 513.36h.01M104.94 253.03h.01M171.11 283.03h.01M112 519.93h.01M123.89 491.79h.01M83.86 462.61h.01M186.53 361.2h.01M42.74 462.13h.01M43.58 463.12h.01M174.3 310.19h.01M168.44 441.41h.01M170.31 365.64h.01M173.01 462.16h.01M121.89 403.57h.01M168.2 491.91h.01M173.53 322.41h.01M122.8 519.33h.01M120.34 469.83h.01M120.62 463.52h.01M184.19 466.63h.01M193.45 515.67h.01M193.19 320.99h.01M171.36 472.31h.01M176.89 488.02h.01M176.39 364.1h.01M173.92 439.25h.01M99.15 468.82h.01M173.66 514.97h.01M122.82 397.72h.01M169.79 462.8h.01M185.42 520.18h.01M184.2 519.09h.01M45.31 465.46h.01M102.73 366.46h.01M118.79 338.75h.01M106.79 406.64h.01M110.96 297.5h.01M121.33 320.78h.01M172.21 402.41h.01M192.55 517.9h.01M169.64 464.52h.01M114.44 495.13h.01M115.85 327.49h.01M89.88 324.91h.01M168.6 324.8h.01M199.85 340.02h.01M213.52 338.95h.01M169.46 441.2h.01M123.47 320.56h.01M116.03 467.44h.01M189.59 379.55h.01M171.05 402.65h.01M174.46 489.45h.01M111.55 404.26h.01M169.74 398.69h.01M114.73 279.58h.01M116.3 491.63h.01M183.97 468.16h.01M98.86 467.69h.01M111.91 514.67h.01M170.8 322.94h.01M120.08 462.03h.01M110.07 445.96h.01M170.57 400.55h.01M84.79 421.18h.01M114.76 442.27h.01M93.42 514.73h.01M95.93 472.59h.01M86.3 469.49h.01M188.84 283.44h.01M189.72 255.41h.01M46.94 460.59h.01M171.12 463.27h.01M175.09 275.6h.01M100.73 346.3h.01M122.15 310.14h.01M111.32 442.6h.01M103.9 462.18h.01M104.67 419.01h.01M169.19 491.33h.01M115.27 439.83h.01M221.83 295.4h.01M72.09 468.07h.01M204.95 277.4h.01M98.49 461.96h.01M30.63 464.24h.01M175.72 326.07h.01M182.88 321.54h.01M116.23 346.88h.01M169.29 344.58h.01M94.27 469.07h.01M170.92 461.58h.01M194.24 519.51h.01M117.56 419.44h.01M99.8 460.68h.01M123.34 321.46h.01M174.26 321.62h.01M167.47 345.48h.01M119.52 308.82h.01M118.53 362h.01M108.76 365.52h.01M180.54 407.18h.01M124.02 399.75h.01M66.34 460.42h.01M185.75 380.96h.01M121.92 311.2h.01M175.86 446.62h.01M120.34 423.44h.01M175.2 366.43h.01M92.82 520.7h.01M106.93 255.49h.01M110 381.11h.01M168.96 266.7h.01M92 439.55h.01M193.62 277.72h.01M118.98 445.46h.01M169.76 254.8h.01M176.26 346.04h.01M181.95 308h.01M180.06 253.85h.01M201.41 423.46h.01M174.73 362.29h.01M181.76 265.87h.01M198.51 266.78h.01M182.31 407.14h.01M179.15 520.93h.01M120.99 398.89h.01M92.84 445.26h.01M78.24 462.01h.01M119.28 465.12h.01M181.38 341.15h.01M71.22 379.22h.01M124.79 366.66h.01M185.33 403.5h.01M119.55 344.09h.01M114.5 308.11h.01M103.54 323.57h.01M168.52 276.73h.01M183.31 521.75h.01M179.68 399.27h.01M107.04 472.74h.01M166.93 467.77h.01M174.96 321.37h.01M105.4 378.26h.01M172.58 440.75h.01M190.9 470.94h.01M209.86 275.84h.01M118.81 281.27h.01M170.91 441.6h.01M166 326.89h.01M83.23 465.86h.01M170.5 310.44h.01M169.09 470.98h.01M122.6 407.69h.01M95.76 402.03h.01M177.7 441.55h.01M183.32 446.63h.01M110.92 492.27h.01M122.15 464.38h.01M120.45 345.85h.01M185.74 444.97h.01M116.04 519.69h.01M176.02 442.53h.01M123.63 421.56h.01M84.94 467.25h.01M104 421.46h.01M109.29 469.84h.01M70.28 420.28h.01M81.53 466.92h.01M116.27 512.03h.01M112.37 493.92h.01M99.3 361.74h.01M183.82 338.35h.01M95.42 514.86h.01M170.53 471.03h.01M269.53 399.48h.01M166.01 365.91h.01M112.91 398.27h.01M174.41 443.69h.01M201.02 277.68h.01M124.43 462.02h.01M105.68 298.71h.01M169.81 494.3h.01M188.48 293.74h.01M171.6 269h.01M115.15 379.32h.01M107.14 326.02h.01M171.59 446.11h.01M104.85 520.01h.01M30.54 470.11h.01M119.71 340.84h.01M104.19 278.06h.01M173.93 514.39h.01M171.63 466.79h.01M181.19 268.17h.01M51.9 461.79h.01M184.39 339.84h.01M123.45 364.48h.01M121.36 254.64h.01M104.64 310.3h.01M189.65 491.43h.01M95.59 380.88h.01M109.68 403.72h.01M119.51 401.21h.01M105.05 466.39h.01M119.62 422.31h.01M183.64 511.58h.01M173.32 342.68h.01M219.74 511.07h.01M87.47 381.42h.01M73.49 255.95h.01M79.56 467.96h.01M120.49 363.78h.01M167.56 297.7h.01M122.13 514.76h.01M170.54 421.36h.01M216.9 400.43h.01M184.65 381.05h.01M174.9 487.55h.01M116.71 442.54h.01M111.98 365.6h.01M171.95 468.72h.01M121.1 491.43h.01M192.75 405.6h.01M197.42 267.71h.01M107.54 405.43h.01M168.01 278.47h.01M180.29 511.91h.01M168.37 322.8h.01M118.02 321.14h.01M112.33 488.22h.01M112.72 406.84h.01M168.14 468.64h.01M46.38 467.66h.01M100.22 324.79h.01M122.42 267.59h.01M81.09 344.97h.01M193.41 292.83h.01M124.82 516.5h.01M193.74 419.36h.01M175.02 310.4h.01M170.02 346.97h.01M124.68 345.35h.01M179.78 276.74h.01M82.41 492.4h.01M98.2 253.96h.01M171.5 251.9h.01M167.76 340.96h.01M58.67 460.88h.01M55.27 281.48h.01M124.77 421.07h.01M123.08 512.24h.01M169.03 293.91h.01M120.56 256.73h.01M110.53 521.52h.01M51.73 466.63h.01M108.12 378.55h.01M171.58 340.29h.01M188.03 310.65h.01M189.49 464.42h.01M53.72 460.44h.01M122.58 521.04h.01M178.37 439.77h.01M167.99 468.76h.01M183.77 344.41h.01M74.18 466.59h.01M123.23 284.91h.01M124.5 341.13h.01M233.02 446.22h.01M175.16 327.55h.01M171.46 324.83h.01M113.92 470.34h.01M115.42 489.58h.01M89.12 511.2h.01M116.46 443.39h.01M120.93 460.11h.01M177.02 381.58h.01M120.53 267.99h.01M183.76 311.04h.01M108.12 256.12h.01M123.9 362.59h.01M102.64 468.8h.01M116.12 417.66h.01M96.23 399.27h.01M167.17 512.41h.01M119.17 284.79h.01M116.31 471.29h.01M111.69 295.05h.01M117.42 255h.01M117.16 440.95h.01M92.72 488.84h.01M122.31 402.64h.01M186 254.41h.01M117.3 489.62h.01M121.22 325.34h.01M191.28 360.4h.01M115.61 295.42h.01M175.26 490.42h.01M101.35 417.95h.01M169.04 407.12h.01M168.89 363.47h.01M119.6 462.92h.01M98.34 420.06h.01M117.39 323.46h.01M177.25 322.67h.01M124.39 489.71h.01M115.21 269.37h.01M192.18 422.88h.01M119.14 381.02h.01M204.92 512.96h.01M175.81 326.27h.01M194.56 400.37h.01M199.35 278.74h.01M186.89 325.22h.01M171.77 487.39h.01M124.08 440.38h.01M121.01 420.79h.01M59.18 461.31h.01M182.87 469.15h.01M182.5 494.68h.01M92.95 256.66h.01M114.72 486.62h.01M87.93 462.94h.01M181.26 519.68h.01M173.27 346.25h.01M166.6 418.77h.01M179.87 401.49h.01M197.91 294.03h.01M121.35 465.18h.01M182.87 472.95h.01M80.7 445.22h.01M119.82 379.3h.01M99.85 418.04h.01M195.34 342.75h.01M176.93 324.76h.01M124.98 521.55h.01M118.1 267.71h.01M187.38 488.72h.01M100.76 265.96h.01M119.55 418.08h.01M121.2 467.45h.01M177.33 522.07h.01M166.54 278.06h.01M178.06 293.59h.01M187.55 279.22h.01M44.5 465.27h.01M181.88 360.21h.01M169.39 521.44h.01M167.45 490.52h.01M81.75 463.66h.01M193.79 267.67h.01M208.24 343.1h.01M114.07 265.18h.01M107.45 472.01h.01M106.75 339.24h.01M81.22 462.32h.01M117.53 324.83h.01M96.05 464.2h.01M112.85 470.54h.01M119.34 311.44h.01M116.87 495.17h.01M121.53 519.36h.01M104.71 492.5h.01M185.46 512.42h.01M109.13 423.17h.01M171.2 308.38h.01M55.34 462.4h.01M115.13 379.93h.01M115.44 491.56h.01M109.15 521.18h.01M94.09 256.44h.01M169.92 488.47h.01M112.09 420.26h.01M182 424.55h.01M121.97 464.89h.01M121.81 265.31h.01M124.77 401.7h.01M119.98 514.54h.01M119.6 278.24h.01M114.88 347.44h.01M44.06 465.76h.01M171.5 422.58h.01M183.6 321.9h.01M112.01 324.89h.01M185.42 495.16h.01M169.01 340.71h.01M121.64 511.02h.01M117.33 403.77h.01M168.26 282.56h.01M190.51 419.83h.01M169.4 515.76h.01M177.26 511.49h.01M166.87 399.14h.01M95.42 441.02h.01M166.25 360.97h.01M216.77 365.7h.01M171.25 383.68h.01M171.88 382.32h.01M121.06 399.87h.01M112.22 401.96h.01M172.91 280.91h.01M193.6 421.32h.01M178.46 266.28h.01M170.69 402.75h.01M69.96 468.33h.01M172.62 401.11h.01M174.5 419.89h.01M174.21 514.71h.01M105.37 342.51h.01M242.58 422.53h.01M171.97 321.88h.01M185.82 283.05h.01M123.75 446.63h.01M203.19 367.36h.01M96.54 322.47h.01M55.42 463.02h.01M167.29 511.08h.01M174.92 512.78h.01M185.98 267.63h.01M168.34 276.23h.01M118.53 421.33h.01M174.09 379.49h.01M220.97 421.72h.01M170.88 344.21h.01M166.38 282.79h.01M95.42 340.21h.01M121.94 323.6h.01M124.2 339.34h.01M194.77 398.72h.01M113.34 438.91h.01M172.42 447.19h.01M117.61 367.14h.01M118.5 512.6h.01M115.89 277.26h.01M173.65 367.38h.01M191.28 471.94h.01M48.06 464.68h.01M169.4 347.14h.01M39.92 469.17h.01M88.4 466.09h.01M118.68 365.69h.01M111.15 265.51h.01M168.83 447.32h.01M168.12 308.22h.01M174.04 510.91h.01M106.31 362.73h.01M177.26 342.99h.01M98.61 379.24h.01M170.63 489.54h.01M93.49 439.92h.01M176.11 440.63h.01M170.74 399.55h.01M122.67 277.91h.01M111.82 338.01h.01M94.21 461.88h.01M186.55 399.59h.01M184.79 296.12h.01M116.81 487.13h.01M183.41 513.84h.01M113.94 518.75h.01M93.46 278.8h.01M73.76 383.67h.01M124 280.27h.01M122.77 443.48h.01M118.51 364.07h.01M174.94 346.73h.01M183.5 438.93h.01M174.31 347.24h.01M179.5 308.63h.01M123.25 511.38h.01M170.43 309.7h.01M69.86 464.09h.01M192.97 310.1h.01M105.98 326.42h.01M175.47 365.31h.01M177.3 254.1h.01M203.51 267.51h.01M169.78 365.06h.01M107.34 267.34h.01M111.13 280.56h.01M171.99 339.98h.01M111.8 265.43h.01M200.86 462.71h.01M112.33 447.2h.01M172.18 324.43h.01M64.1 468.44h.01M171.5 512.92h.01M171.27 419.25h.01M190.47 343.66h.01M45.99 464.5h.01M103.29 381.64h.01M166.77 492.17h.01M234.22 472.46h.01M184.77 341.05h.01M120.25 462.1h.01M109.15 403.64h.01M124.01 491.7h.01M187.23 470.07h.01M71.65 462.4h.01M168.63 520.68h.01M102.4 423.78h.01M116.79 521.97h.01M206.83 339.3h.01M174.23 422.29h.01M121.62 406.64h.01M121.17 423.68h.01M171.83 311.06h.01M103.48 345.35h.01M122.66 278.44h.01M167.26 467.71h.01M107.16 347.47h.01M166.8 441.91h.01M166.73 464.96h.01M177.51 461.69h.01M172.97 512.17h.01M115.14 325.99h.01M194.21 275.85h.01M120.16 464.98h.01M194.76 463.93h.01M112.58 342.06h.01M236.93 294.17h.01M62.7 463.78h.01M213.71 366.34h.01M123.27 338.45h.01M109.3 255.89h.01M175.71 439.8h.01M121.08 346.8h.01M186.73 462.3h.01M124.6 472.68h.01M175.26 445.95h.01M110.9 346.46h.01M124.93 363.22h.01M179.47 298.29h.01M104.58 400.75h.01M115.66 491.13h.01M97.7 462.98h.01M120.88 347.39h.01M166.38 280.58h.01M188.42 439.62h.01M172.33 297.87h.01M124.44 265.49h.01M180.1 516.1h.01M205.38 284.26h.01M113.13 466.73h.01M172.74 297.9h.01M191.11 379.3h.01M219.86 269.18h.01M225.66 468.44h.01M120.53 294.82h.01M121.81 512.14h.01M118.63 298.63h.01M188.36 252.09h.01M117.98 297.12h.01M110.81 264.85h.01M204.65 345.56h.01M121.74 325.25h.01M180.52 339.26h.01M118.85 439.67h.01M119.08 381.48h.01M176.06 280.96h.01M176.58 254.34h.01M177.37 323.81h.01M109.65 366.99h.01M195.05 367.31h.01M174.8 461.58h.01M122.5 520.35h.01M187.58 379.6h.01M183.07 280.19h.01M122.1 422.15h.01M169.34 461.63h.01M95.99 282.43h.01M199.31 439.72h.01M110.35 251.8h.01M107.94 401.42h.01M79.28 486.86h.01M172.49 419.13h.01M187.37 342.53h.01M173.42 471.67h.01M190.22 338.34h.01M167.72 511.08h.01M180.26 284.85h.01M177.9 400.32h.01M190.43 320.85h.01M116.36 464.34h.01M105.51 466.49h.01M188.57 424.58h.01M191.01 266.18h.01M201.04 339.91h.01M89.21 423.48h.01M183.47 266.95h.01M170.99 404.65h.01M99.92 320.5h.01M187.07 447.5h.01M166.48 441.13h.01M118.68 401.55h.01M112.98 362.94h.01M178.02 487.58h.01M169.28 293.42h.01M74.45 466.57h.01M169.54 423.4h.01M63.01 465.82h.01M182.82 381.9h.01M117.34 517.03h.01M121.79 338.91h.01M213.41 277.84h.01M97.78 520.82h.01M113.31 323.04h.01M72.28 466.48h.01M121.52 298.68h.01M116.93 407.42h.01M103.7 513.58h.01M48.25 460.89h.01M121.39 254.28h.01M203.35 321.44h.01M187.25 491.98h.01M168.94 378.31h.01M171.48 280.34h.01M170.93 339.81h.01M175.19 268.63h.01M200.99 462.67h.01M123.14 341.38h.01M115.41 367.16h.01M172.51 362.71h.01M199.19 320.76h.01M166.95 401.53h.01M117.65 339.85h.01M169.91 325.69h.01M173.14 439.31h.01M122.18 460.97h.01M114.05 471.23h.01M52.02 466.73h.01M108.32 490.72h.01M121.61 308.56h.01M192.08 445.43h.01M167.43 419.16h.01M107.63 276.14h.01M108.23 445.86h.01M168.23 421.04h.01M175.43 308.16h.01M199.05 364.08h.01M42.47 468.55h.01M199.82 487.68h.01M34.2 465.3h.01M103.23 469.89h.01M170.68 469.53h.01M190.16 282.02h.01M167.3 519.22h.01M116.33 379.16h.01M62.86 465.18h.01M72.24 467.8h.01M168.98 447.3h.01M116.62 403.1h.01M115.62 299.05h.01M179.55 446.76h.01M116.67 462.23h.01M118.95 338.16h.01M122.28 279.45h.01M107.1 465.6h.01M120.33 311.4h.01M173.85 251.62h.01M107.19 293.2h.01M177.86 488.2h.01M120.27 470.8h.01M110.25 378.94h.01M117.06 518.62h.01M169.94 519.02h.01M173.94 255.25h.01M179.32 325.29h.01M166.77 440.02h.01M114.73 325.24h.01M92.94 326.5h.01M167.28 460.95h.01M103.91 282.84h.01M124.21 521.66h.01M191.71 490.06h.01M176.82 489.09h.01M174.63 283.27h.01M166.02 298.52h.01M122.36 342h.01M114.34 470.05h.01M117.93 513.66h.01M108.71 424.13h.01M121.58 265.96h.01M117.86 511.29h.01M196.89 441.41h.01M167.47 283.56h.01M217.32 442.37h.01M173.96 511.96h.01M108.13 465.74h.01M113.75 267.11h.01M73.49 439.32h.01M183.8 344.24h.01M182.48 277.24h.01M124.33 297.68h.01M123.55 365.11h.01M124.53 495.02h.01M176.25 515.57h.01M111.37 398.88h.01M182.53 397.88h.01M121.75 489.6h.01M102.53 469.25h.01M121.54 360.9h.01M173.98 490.99h.01M112.73 517.07h.01M111.1 346.08h.01M123.98 516.33h.01M49.11 461.98h.01M186.67 444.34h.01M122.51 268.35h.01M115.02 276.85h.01M175.48 402.07h.01M121.4 510.99h.01M166.6 275.77h.01M167.85 439.95h.01M182.02 419.8h.01M168.81 275.99h.01M122.97 284.99h.01M76.78 466.25h.01M117.3 463.87h.01M180.44 444.53h.01M117.35 445.8h.01M115.52 421.65h.01M122.12 296.9h.01M181.65 309.17h.01M121.5 362.35h.01M181.86 468.06h.01M174.4 365.81h.01M181.28 472.7h.01M166.16 293.28h.01M182.36 444.24h.01M123.68 296.9h.01M63.03 461.61h.01M121.45 424.27h.01M108.19 406.22h.01M110.6 463.33h.01M173.07 345.02h.01M172.71 444.54h.01M169.3 282.75h.01M98.37 269.3h.01M166.43 365.35h.01M122.78 321.38h.01M193.44 464.81h.01M112.38 460.9h.01M120.14 444.08h.01M200.24 365.8h.01M108.43 339.99h.01M121.45 277.88h.01M166.4 472.23h.01M121.07 468.94h.01M113.11 307.76h.01M167.83 361.38h.01M175.17 402.94h.01M102.02 327.08h.01M120.8 340.25h.01M200.96 521.31h.01M188.6 338.04h.01M108.33 280.14h.01M121.8 295.83h.01M116.95 253.77h.01M103.68 268.06h.01M123.69 441.98h.01M105.08 265.19h.01M55.87 470.34h.01M166.8 465.03h.01M175.75 444.05h.01M114.45 281.17h.01M180.14 465.98h.01M121.06 342.61h.01M124.8 419.63h.01M167.49 404.3h.01M170.41 487h.01M204.66 378.82h.01M167.4 381.03h.01M168.3 341.88h.01M167.33 424.56h.01M107.44 280.61h.01M171.67 521.42h.01M117.09 466.52h.01M174.95 298.24h.01M171.22 383.03h.01M48.77 460.45h.01M102.97 492.21h.01M120.57 308.12h.01M172.85 366.85h.01M100.45 297.84h.01M113.62 323h.01M176.73 424.35h.01M122.35 466.63h.01M109.05 403.07h.01M93.09 464.34h.01M59.79 460.83h.01M190.4 516.61h.01M118.4 362.83h.01M173.27 471.37h.01M180.29 323.27h.01M117.36 423.67h.01M123.25 418.54h.01M179.27 399.59h.01M96.46 444.49h.01M90.38 460.98h.01M168.54 469.47h.01M173.46 445.83h.01M167.01 446.77h.01" stroke="#303030" stroke-width="1.7" stroke-linecap="round" fill="none"/>
<path d="M168.7 372.16h.01M179.89 290.53h.01M172.84 376.23h.01M122.37 456.81h.01M182.73 260.11h.01M174.12 456.58h.01M118.42 395h.01M118.64 496.21h.01M123 319.89h.01M124.14 288.32h.01M107.12 479.39h.01M177.78 509.2h.01M167.55 411.62h.01M176.64 349.23h.01M103.96 388.44h.01M176.41 302.93h.01M91.85 507.41h.01M169.55 497.87h.01M166.98 314.06h.01M182.02 386.3h.01M122.39 485.73h.01M172.98 483.67h.01M174.72 271.46h.01M184.77 504.18h.01M168.01 290.57h.01M167.72 369.1h.01M169.03 410.05h.01M117.52 387.07h.01M196.89 505.67h.01M111.44 260.79h.01M122.76 414.24h.01M123.69 370.39h.01M178.06 348.44h.01M166.75 356.5h.01M194.14 377.08h.01M98.25 408.89h.01M169.59 367.93h.01M182.35 263.92h.01M170.21 476.52h.01M170.29 393.11h.01M184.8 290.69h.01M178.31 505.06h.01M110.92 264.18h.01M109.41 258.04h.01M185.47 348.22h.01M32.99 476.92h.01M112.38 375.98h.01M124.49 314.52h.01M123.36 431.24h.01M117.84 432.95h.01M124.91 263.75h.01M205 450.92h.01M120.42 485.92h.01M178.32 388.69h.01M122.78 477.43h.01M249.61 476.7h.01M117.53 302.27h.01M107.01 289.65h.01M188.23 330.56h.01M118.59 392.43h.01M123.26 312.69h.01M181.07 431.73h.01M114.5 304.32h.01M174.03 314.7h.01M91.39 288.39h.01M101.7 502.93h.01M181.06 315.09h.01M101.28 498.87h.01M193.83 412.46h.01M167.23 411.43h.01M118.17 390.72h.01M118.86 449.19h.01M168.57 258.47h.01M112.52 328.73h.01M175.21 427.02h.01M110.01 370.05h.01M170.89 480.24h.01M184.11 479.72h.01M187.15 415.8h.01M118.89 261.04h.01M172.56 271.86h.01M180.54 485.41h.01M103.49 368.26h.01M172.51 449.66h.01M124.51 435.54h.01M169.2 336.1h.01M121.56 354.28h.01M87.16 259.86h.01M98.18 329.44h.01M98.48 428.4h.01M103.9 415.4h.01M189.87 428.39h.01M120.5 319.54h.01M168.27 350.69h.01M171.45 430.22h.01M166.5 302.39h.01M182.67 415.28h.01M124.67 413.2h.01M195.71 474.6h.01M181.52 356.82h.01M167.49 503.91h.01M175.86 396.86h.01M121.7 456.17h.01M109.12 426.4h.01M196.16 352.09h.01M121.64 389.48h.01M181.09 458.76h.01M177.08 260.95h.01M118.3 372.1h.01M169.43 258.68h.01M122.21 329.65h.01M175.99 414.74h.01M170.49 259.07h.01M168.12 454.63h.01M120.7 289.78h.01M167.15 427.43h.01M116.94 303.1h.01M169.85 330.43h.01M166.52 270.33h.01M175.3 483.16h.01M181.94 353.43h.01M113.09 373.05h.01M197.63 271.04h.01M167.95 508.81h.01M116.76 451.14h.01M120.29 306.86h.01M118.89 329.82h.01M113.3 415.77h.01M124.28 495.82h.01M167.11 312.98h.01M120.28 391.64h.01M175.64 413.68h.01M171.63 269.98h.01M176.78 500.64h.01M194.58 387.61h.01M181.95 317.74h.01M166.59 259.3h.01M103.21 499.56h.01M120.69 263.4h.01M108.32 387.8h.01M111.11 435.47h.01M177.78 335.69h.01M123.08 436.86h.01M109.19 408.92h.01M109.68 273.84h.01M167.86 262.3h.01M197.13 436.73h.01M114.25 436.05h.01M180.27 353.39h.01M123.61 431.96h.01M120.58 271.21h.01M173.26 475.36h.01M166.46 289.66h.01M185.89 300.05h.01M123.46 413.15h.01M104.48 300.23h.01M121.57 453.72h.01M124.13 303.32h.01M121.83 375.35h.01M113.16 372.11h.01M201.88 336.67h.01M204.12 261.83h.01M88.77 358.05h.01M183.29 371.94h.01M191.53 497.22h.01M116.45 395.19h.01M124.3 369.33h.01M119.33 318.76h.01M183.51 413.98h.01M224.19 482.99h.01M174.61 386.76h.01M185.18 414.29h.01M118.88 303.41h.01M121.88 475.48h.01M203.76 453.43h.01M115.47 500.01h.01M114.46 330.75h.01M178.98 312.09h.01M174.4 473.5h.01M172.04 474.02h.01M166.71 428.85h.01M166.51 393.25h.01M120.61 504.62h.01M124.76 354.27h.01M121.32 501.96h.01M168.54 452.19h.01M101.72 431.72h.01M170.89 312.31h.01M112.96 432.67h.01M166.84 316.24h.01M120.29 480.37h.01M105.19 259.03h.01M172.19 507.69h.01M189.49 270.17h.01M119.89 481.93h.01M119.98 432.12h.01M107.2 336.64h.01M217.73 449.37h.01M114.82 317.19h.01M169.55 271.85h.01M87.89 389.53h.01M186.34 304.39h.01M203.99 434.54h.01M124.72 359.27h.01M109.35 328.7h.01M200.19 352.54h.01M123.37 504.02h.01M200.07 319.23h.01M117.03 376.71h.01M174.5 386.8h.01M175.12 501.6h.01M177.99 429.84h.01M108.79 455.98h.01M106.61 261.61h.01M168.18 334.52h.01M185.73 286.95h.01M111.32 303.83h.01M166.63 374.65h.01M196.01 425.59h.01M104.88 499.14h.01M96.17 412.75h.01M167.25 435.7h.01M116.48 501.93h.01M115.83 500.87h.01M123.79 333.22h.01M102.88 354.64h.01M170.72 316.39h.01M119.71 428.02h.01M114.2 302.28h.01M166.32 302.62h.01M171.27 353.95h.01M33.09 303.61h.01M118.3 307.29h.01M122.91 319.74h.01M174.11 451.9h.01M175.43 358.73h.01M122.09 257.28h.01M124.43 425.78h.01M174.06 352.95h.01M166.36 358.16h.01M123.82 351.07h.01M193.05 481.89h.01M179.15 497.57h.01M204.73 474.35h.01M118.15 431.12h.01M116.59 314.98h.01M114.3 375.31h.01M109.31 259.79h.01M167.09 412.86h.01M119.5 450.59h.01M166.14 476.92h.01M194.23 319.44h.01M169.25 473.67h.01M171.2 261.24h.01M117.36 289.77h.01M170.83 285.68h.01M118.88 351.8h.01M124.92 300.54h.01M180.13 270.08h.01M174.83 483.79h.01M184.19 350.02h.01M167.2 318.33h.01M177.77 449.81h.01M109.05 428.48h.01M171.77 335.76h.01M179.93 330.49h.01M189.23 450.13h.01M113.66 389.38h.01M121.99 354.88h.01M122.46 384.57h.01M189.22 375.57h.01M96.64 476.26h.01M117.79 356.18h.01M183.5 433.85h.01M195.56 390.82h.01M169.75 328.59h.01M174.12 355.86h.01M167.12 270.38h.01M123.52 301.8h.01M169.18 261.91h.01M105.65 384.89h.01M101.54 373.77h.01M124.87 480.21h.01M119.23 328.76h.01M122.15 272.18h.01M183.85 258.65h.01M88.42 385.95h.01M124.81 454.28h.01M179.7 261.44h.01M100.57 306.93h.01M101.98 396.59h.01M172.73 290.48h.01M110.14 394.45h.01M173.76 318.42h.01M168.01 484.45h.01M175.62 316.46h.01M220.75 316.83h.01M75.66 330.25h.01M168.68 259.17h.01M167.22 384.73h.01M119.33 352.71h.01M171.19 317.2h.01M116.48 357.09h.01M192.93 415.14h.01M116.66 409.79h.01M111.18 505.16h.01M112.22 477.64h.01M174.78 263.19h.01M166.67 319.83h.01M187.05 332.93h.01M121.45 274.17h.01M123.29 368.38h.01M180.91 388.82h.01M175.35 287.42h.01M117.68 317.44h.01M185.41 482.23h.01M167.37 433.43h.01M124.59 367.98h.01M188.19 271.19h.01M171.23 319.83h.01M169.2 257.69h.01M172.87 499.61h.01M174.29 432.2h.01M115.22 428.39h.01M101.95 271.74h.01M99.17 412.09h.01M173.49 503.14h.01M202.73 274.46h.01M117.67 508.58h.01M117.66 483.73h.01M107.7 355.62h.01M174.77 451.44h.01M198.08 375.91h.01M104.54 429.08h.01M124.52 286.35h.01M110.09 331.42h.01M121.64 393.63h.01M228.8 331.25h.01M166.47 395.28h.01M166.33 480.68h.01M216.33 370.88h.01M176.56 258.84h.01M112.08 452.12h.01M167.54 473.79h.01M119.02 314.89h.01M122.85 436.3h.01M115.64 370.46h.01M120.45 274.65h.01M119.83 501.57h.01M111.9 432.42h.01M185.75 415.6h.01M119.42 352.09h.01M171.46 289.18h.01M172.49 389.01h.01M178.35 434.75h.01M166.77 499.13h.01M124.93 386.78h.01M106.65 261.31h.01M184.45 458.77h.01M181.96 270.13h.01M118.42 450.85h.01M118.62 410.2h.01M109.83 434.13h.01M118.74 303.56h.01M109.23 483h.01M116.81 391.63h.01M116.75 414h.01M101.1 452.59h.01M226.8 436.13h.01M114.21 497.65h.01M112.07 312.41h.01M183.47 289.63h.01M121.67 502.35h.01M115.28 331.65h.01M113.82 431.17h.01M124.18 393.49h.01M111.38 270.22h.01M175.87 452.56h.01M201.52 476.47h.01M117.9 272.18h.01M173.48 271.68h.01M231.9 261.98h.01M111.89 332.74h.01M171.05 479.42h.01M184.5 509.57h.01M53.26 499.18h.01M175.72 377.38h.01M121.04 497.5h.01M118.15 358.42h.01M204.3 370.06h.01M120.18 434.18h.01M109.64 384.52h.01M120.09 431.42h.01M121.52 369.57h.01M125.37 332.56h.01M123.32 334.42h.01M182.07 319.74h.01M114.21 359.5h.01M167.87 502.35h.01M194.58 434.12h.01M176.01 387.48h.01M175.59 263.54h.01M113.12 509.88h.01M112.23 390.65h.01M123.3 451.02h.01M168.57 261.55h.01M170.44 373.21h.01M179.06 369.46h.01M114.29 428.38h.01M101.83 352.62h.01M123.31 274.04h.01M172.69 409.07h.01M178.99 453.34h.01M106.5 271.9h.01M122.92 480.18h.01M123.97 435.9h.01M114.94 448.37h.01M124.34 474.24h.01M120.54 312.19h.01M196.45 389.07h.01M117.87 273.04h.01M188.12 413.18h.01M124.14 352.64h.01M225.59 270.42h.01M120.76 287.29h.01M117.37 414.15h.01M193.84 448.24h.01M114.55 408.48h.01M180.85 457.03h.01M189.25 328.21h.01M184.7 409.53h.01M115.69 482.49h.01M177.88 475.7h.01M98.67 353.16h.01M179.09 410.64h.01M183.65 392.25h.01M90.42 389.1h.01M166.28 437.58h.01M226.93 508.02h.01M116.3 390.49h.01M171.54 355.41h.01M105.66 506.41h.01M113.02 431.7h.01M171.05 315.05h.01M93.68 272.8h.01M92.42 395.63h.01M178.76 427.13h.01M171.96 272.97h.01M100.39 377.62h.01M167.06 306.13h.01M104.38 410.3h.01M170.4 412.69h.01M171.22 503.97h.01M169.55 387.13h.01M108.63 259.53h.01M117.04 426.64h.01M105.9 426.83h.01M116.36 509.08h.01M123.39 332.68h.01M111.92 473.54h.01M171.29 388.18h.01M170.47 410.59h.01M113.05 385.49h.01M170.22 290.76h.01M104.83 437.39h.01M119.49 334.02h.01M102.91 273.05h.01M169.78 316.29h.01M182.84 358.94h.01M117.9 432.19h.01M113.66 455.27h.01M119.02 387.45h.01M167.58 286.95h.01M169.82 427.68h.01M206.99 349.4h.01M168.97 300.44h.01M171.95 429.46h.01M118.41 454.61h.01M124.68 504.41h.01M183.01 478.03h.01M166.22 483.56h.01M124.19 373.63h.01M169.37 368.14h.01M94.19 373.39h.01M99.78 451.28h.01M177.47 432h.01M112.87 290.88h.01M108.11 257.74h.01M179.1 410.59h.01M116.29 335.57h.01M84.07 354.74h.01M179.01 390.67h.01M120.09 314.48h.01M116.25 288.22h.01M175.3 371.84h.01M172.84 508.16h.01M113.28 412.28h.01M123.14 507.2h.01M115.05 336.76h.01M184.15 357.55h.01M167.59 450.69h.01M115.86 385.07h.01M209.46 432.1h.01M188.49 287.4h.01M172.31 317.1h.01M168.55 395.34h.01M123.48 368.06h.01M108.79 394.39h.01M111.81 479.31h.01M107.88 428h.01M123.77 336.99h.01M178.02 476.35h.01M179.58 353.59h.01M113.07 305.71h.01M108.54 426.29h.01M170.47 355.7h.01M113.58 438.03h.01M168.34 288.74h.01M183.93 433.33h.01M174.1 270.94h.01M114.73 448.84h.01M97.76 314.97h.01M114.8 480.96h.01M108.13 476.47h.01M175.85 431.83h.01M121.02 260.77h.01M174.09 302.12h.01M175.74 370.85h.01M176.13 452.3h.01M107.04 352.93h.01M170.06 508.6h.01M167.39 261.27h.01M121.82 289.87h.01M170 305.91h.01M109.5 271.73h.01M170.8 260.95h.01M121.34 354.82h.01M168.69 415.9h.01M108.48 352.14h.01M119.83 499.99h.01M114.56 395.03h.01M172.04 474.6h.01M124.54 451h.01M186.26 285.99h.01M119.7 272.21h.01M116.3 335.38h.01M166.89 503.26h.01M121.1 299.99h.01M110.78 482.5h.01M119.63 306.34h.01M107.31 303.99h.01M167.47 306.24h.01M173.54 436.62h.01M183.11 431.85h.01M123.88 288.39h.01M174.17 386.7h.01M108.32 271.31h.01M108.03 431.81h.01M114.9 437.38h.01M172.81 500.59h.01M100.49 502.83h.01M123.83 480.65h.01M124.93 350.53h.01M176.43 412.41h.01M178.44 408.36h.01M121.81 504.03h.01M169.08 434.35h.01M184.72 409.06h.01M182.96 481.63h.01M179.53 474.74h.01M111.89 410.89h.01M168.99 477.31h.01M167.59 376.99h.01M124.98 332.34h.01M108.35 434.46h.01M122.33 368.85h.01M115.74 355.35h.01M166 481.45h.01M120.05 300.34h.01M118.14 457.05h.01M166.13 449.58h.01M184.05 302.14h.01M184.03 376.61h.01M118.48 374.3h.01M168.87 437.47h.01M170.02 427.17h.01M119.11 453.65h.01M166.7 474.32h.01M181.46 291.84h.01M124.94 426.82h.01M181.02 288.24h.01M99.82 498.24h.01M168.33 414.06h.01M100.86 426.99h.01M118.46 302.9h.01M167.61 433.67h.01M172.04 369.26h.01M178.12 429.72h.01M168.62 430.76h.01M119.52 358.01h.01M117.23 331.23h.01M184.4 350.4h.01M166.18 395.87h.01M100.32 408.72h.01M102.77 386.69h.01M169.34 274.56h.01M117.79 507.79h.01M107.55 263.97h.01M173.59 495.87h.01M110.7 262.48h.01M172.77 456.53h.01M101.85 476.31h.01M169.53 455.78h.01M182.25 476.69h.01M173.39 358.92h.01M173.91 355.59h.01M169.86 396.21h.01M116.33 350.84h.01M176.65 485.13h.01M174.29 330.29h.01M120.26 389.08h.01M169.28 290.55h.01M111.66 454.2h.01M183.06 474.26h.01M102.48 415.76h.01M168.76 448.6h.01M175.13 262.53h.01M167.4 455.14h.01M167.76 350.94h.01M122.28 356.75h.01M166.09 507.33h.01M186.01 475.83h.01M176.61 485.93h.01M116.86 370.22h.01M170.32 301.08h.01M124.7 454.09h.01M105.65 368.96h.01M199.01 372.93h.01M103.18 454.39h.01M182.33 377.74h.01M168.69 389.9h.01M116.9 450.69h.01M110.23 481.02h.01M117.09 476.87h.01M181.8 456.07h.01M188.07 454.13h.01M120.43 329.01h.01M178.54 509.02h.01M71.86 376.7h.01M167.13 479.21h.01M172.54 328.35h.01M171.55 458.22h.01M108.46 289.97h.01M203.05 354.03h.01M120.75 484.81h.01M89.48 318.08h.01M186.83 476.3h.01M109.11 304.65h.01M168.59 394.33h.01M99.65 367.81h.01M169.63 502.27h.01M167.23 428.24h.01M166.06 479.1h.01M213.85 437.14h.01M172.81 504.14h.01M117.16 434.33h.01M173.71 507.48h.01M116.17 415.91h.01M119.7 319.45h.01M186.68 319.23h.01M122.94 509.83h.01M173.12 352h.01M94.28 436.8h.01M121.25 430.42h.01M112.5 483.37h.01M104.79 481.02h.01M123.81 411.68h.01M177.84 330.08h.01M123.79 437.51h.01M118.57 286.13h.01M121.38 273.73h.01M124.99 414.66h.01M111.61 415.51h.01M168.24 258.2h.01M166.18 505.83h.01M166.08 453.03h.01M114.74 368.47h.01M105.02 369.73h.01M177.17 304.31h.01M116.24 305.23h.01M124.12 356.14h.01M124.39 436.28h.01M176.35 377.01h.01M172.22 356.31h.01M180.23 374.86h.01M115.03 299.77h.01M110.93 452.38h.01M183.28 351.42h.01M172.4 270.02h.01M193.33 450.61h.01M170.48 481.59h.01M93.72 331.06h.01M170.63 351.59h.01M107.03 334.49h.01M188.19 335.86h.01M175.28 314.78h.01M106.13 349.66h.01M121.79 389.31h.01M183.69 477.29h.01M179.89 432.46h.01M167 501.15h.01M173.52 288.87h.01M182.31 396.67h.01M118.1 331.59h.01M124.92 288.79h.01M180.37 457.13h.01M187.17 262.85h.01M103.97 369.78h.01M174.39 313.2h.01M113.42 306.37h.01M116.01 495.96h.01M113.09 482.58h.01M186.36 274.4h.01M190.89 393.5h.01M114.27 499.01h.01M117.9 507.12h.01M119.48 412.51h.01M171.39 451.87h.01M170.11 373.53h.01M106.68 313.65h.01M170.32 508.72h.01M119.09 456.83h.01M168.79 505.95h.01M172.09 436.64h.01M211.39 336.92h.01M195.2 318.86h.01M122.79 371.57h.01M94.92 429.87h.01M87.4 430.09h.01M173.81 475.48h.01M122.51 288.33h.01M168.22 332.17h.01M113.44 273.6h.01M84.65 376.52h.01M168.33 349.85h.01M124.08 333.52h.01M175.85 377.76h.01M123.63 354.56h.01M117.37 409.53h.01M123.64 485.78h.01M124.02 409.48h.01M122.07 437.55h.01M96.59 336.23h.01M176.04 299.9h.01M195.45 330.03h.01M119.18 357.39h.01M115.61 408.78h.01M205.32 476.03h.01M124.91 500.76h.01M97.56 352.22h.01M167.52 351.23h.01M182.15 500.62h.01M181.51 395.39h.01M120.68 332.2h.01M168.89 292.18h.01M171.82 270.69h.01M168.72 348.02h.01M177.78 375.02h.01M122.28 478.04h.01M179.83 477.41h.01M98.12 485.22h.01M117 413.75h.01M167.73 286.44h.01M171.93 397.06h.01M169.89 497.8h.01M86.13 427.72h.01M107.34 357.5h.01M212.84 315.22h.01M107.87 448.65h.01M107.79 413.22h.01M99.56 304.34h.01M124.6 411.35h.01M113.58 429.24h.01M112.54 356.96h.01M171.44 508.84h.01M116.92 431.19h.01M175.6 426.49h.01M167.39 286.04h.01M181.22 452.19h.01M178.39 350.14h.01M172.55 437.52h.01M166.97 450h.01M111.52 291.53h.01M120.58 300.86h.01M119.46 286.05h.01M98.22 508.13h.01M169.95 485.95h.01M166.69 388.95h.01M117.67 307.25h.01M92.81 273.77h.01M177.94 453h.01M120.12 393.7h.01M119.59 451.36h.01M177.59 375.52h.01M122.92 301.84h.01M189.57 352.78h.01M176.52 479.23h.01M122.42 389.16h.01M166.68 457.83h.01M120.55 496.51h.01M108.58 430.89h.01M115.59 426.36h.01M119.05 370.32h.01M169.06 506.01h.01M121.46 455.88h.01M82.09 289.97h.01M167.35 302.24h.01M177.8 408.28h.01M181.27 304.1h.01M170.65 396.72h.01M181.07 508.26h.01M117.2 505.71h.01M120.75 359.45h.01M123.62 411.5h.01M83.44 395.2h.01M113.42 505.79h.01M123.75 262.96h.01M99.29 477.85h.01M169.18 328.66h.01M166.79 359.56h.01M170.85 274.64h.01M187.21 391.01h.01M220.23 481.05h.01M173.25 328.23h.01M170.86 425.55h.01M169.38 393.52h.01M177.06 264.03h.01M206.48 384.14h.01M183.45 458.81h.01M178.46 390.17h.01M101.85 372.36h.01M191.84 396.46h.01M167.45 258.68h.01M122.48 501.7h.01M114.94 304.62h.01M180.72 432.71h.01M123.52 409.35h.01M169.92 391.9h.01M172.41 257.66h.01M111.46 454.37h.01M101.04 388.11h.01M191.12 318.51h.01M103.01 258h.01M124.84 483.49h.01M107.52 498.1h.01M90.21 497.4h.01M182.85 387.35h.01M119.9 431.5h.01M176.41 481.22h.01M189.82 425.43h.01M185.44 482.72h.01M181.63 333.15h.01M116.35 332.58h.01M183.53 410.94h.01M202.86 476.12h.01M178.69 375.3h.01M193.57 349.72h.01M180.76 333.75h.01M172.47 375.06h.01M169.39 432.35h.01M119.17 331.85h.01M103.47 426.86h.01M210.93 258.18h.01M94.79 450.26h.01M115.62 259.78h.01M97.73 478.9h.01M181.25 391.88h.01M179.58 334.39h.01M169.42 431.67h.01M180.29 306.12h.01M120.37 386.28h.01M105.13 359.8h.01M111.89 452.54h.01M200.05 288.99h.01M180.25 291.52h.01M171.56 456.54h.01M114.09 289.72h.01M124.42 387.24h.01M124.02 301.14h.01M171.56 304.95h.01M170.52 425.17h.01M124.9 482.91h.01M172.24 486.03h.01M92.69 305.69h.01M110.1 303.31h.01M167.65 304.71h.01M118.35 392.35h.01M121.04 450.18h.01M188.98 312.1h.01M120.53 390.15h.01M120.89 458.89h.01M116.46 477.69h.01M199.56 484.54h.01M180.01 291.94h.01M180.75 305.11h.01M96.22 271.22h.01M182.88 434.71h.01M166.93 270.88h.01M187.51 432.57h.01M173.13 286.83h.01M177.98 372.95h.01M124.83 377.31h.01M168.89 357.36h.01M114.8 501.41h.01M168.06 409.82h.01M192.14 357.03h.01M124.35 271.23h.01M178.68 499.71h.01M119.36 485.9h.01M173.87 500.39h.01M114.59 386.71h.01M172.74 262.73h.01M112.96 331.89h.01M175.1 478.11h.01M111.27 258.58h.01M124.25 397.26h.01M123.39 384.76h.01M175.04 428.59h.01M170.63 392.04h.01M114.61 377.65h.01M166.27 313.44h.01M183.41 451.93h.01M180.99 448.37h.01M118.08 270.24h.01M201.81 357.82h.01M120.56 270.3h.01M172.68 370.01h.01M124.06 261.38h.01M167.73 371.43h.01M170.24 452.26h.01M184.12 393.96h.01M89.87 336.46h.01M178.55 287.25h.01M122.1 429.74h.01M172.21 302.33h.01M110.45 500.28h.01M117.96 478.04h.01M100.98 333.44h.01M98.72 301.46h.01M167.77 507.51h.01M171.32 373.63h.01M117.73 356.57h.01M123.64 425.81h.01M90.46 333.34h.01M92.58 425.88h.01M118.72 332.19h.01M168.54 314.2h.01M110.08 480.81h.01M179.64 395.9h.01M173.52 497.53h.01M170.13 473.56h.01M117.12 482.14h.01M41.64 257.45h.01M179.97 436.13h.01M119.69 369.83h.01M166.78 390.01h.01M166.44 318.43h.01M191.52 377.41h.01M177.81 305.53h.01M176.07 289.06h.01M115.23 313.92h.01M193.06 390.88h.01M181.12 396.4h.01M166.28 334.65h.01M98.85 392.78h.01M168.44 393.2h.01M167.19 478.56h.01M74.43 481.58h.01M119.71 431.07h.01M171.11 410.02h.01M113.05 331.09h.01M173.62 371.37h.01M121.55 355.89h.01M169.93 507.84h.01M119.08 481.39h.01M187.04 304.03h.01M168.45 498.08h.01M169.02 350.71h.01M123.51 259.71h.01M185.78 457.79h.01M118.06 370.81h.01M120.27 458.79h.01M184.97 482.2h.01M116.45 457.63h.01M102.62 370.8h.01M123.38 273.93h.01M120.4 390h.01M173.54 372.7h.01M116.35 285.7h.01M110 450.38h.01M105.13 480.8h.01M189.97 396.17h.01M172.81 450.6h.01M177.5 496.1h.01M122.96 304.73h.01M116.45 358.1h.01M170.84 500.58h.01M124.83 500.55h.01M111.33 270.03h.01M172.66 329.55h.01M178.17 291.99h.01M174.1 451.17h.01M172.05 393.38h.01M124.67 427.35h.01M107.47 261.36h.01M120.59 504.88h.01M115.25 372.81h.01M178.84 412.13h.01M174.76 259.42h.01M123.56 434.75h.01M101.36 356.81h.01M119.32 408.76h.01M121 412.98h.01M181.71 391.67h.01M186.46 259.52h.01M173.34 416.05h.01M124.86 435.32h.01M116.14 391.2h.01M93.37 433.49h.01M106.11 350.08h.01M112.67 372.21h.01M182.3 368.17h.01M175.44 428.08h.01M178.95 499.91h.01M167.72 480.89h.01M105.39 430.94h.01M123.16 435.03h.01M177.14 509.67h.01M174.79 259.82h.01M106.37 410.6h.01M105.93 410.76h.01M193.34 289.09h.01M174.65 392.92h.01M170.96 431.45h.01M187.5 389.25h.01M121.19 458.45h.01M191.58 356.95h.01M168.08 272.97h.01M95.97 386.48h.01M110.06 335.62h.01M169.13 329.37h.01M104.93 450.27h.01M117.46 288.2h.01M123.87 436.82h.01M117.27 316.42h.01M124.37 458.88h.01M85.92 476.05h.01M167.18 497h.01M200.16 412.34h.01M170.77 336.96h.01M84.22 458.5h.01M192.99 394.6h.01M119.11 415.34h.01M173.98 394.53h.01M115.96 272.1h.01M95.22 408.34h.01M122.47 480.55h.01M185.42 507.01h.01M168.56 306.14h.01M106.95 411.72h.01M122.78 458.92h.01M102.71 371.81h.01M188.22 474.23h.01M190.69 501.37h.01M189.97 372.6h.01M119.73 328.28h.01M168.59 392.21h.01M119.94 273.62h.01M120.9 408.57h.01M111.94 478.67h.01M174.4 300.82h.01M112.79 386.9h.01M96.8 425.99h.01M121.62 257.99h.01M92.71 260.18h.01M120.21 355.39h.01M118.57 377.34h.01M175.17 391.87h.01M119.5 455.94h.01M124.78 454.95h.01M174.7 455.44h.01M124.97 328.73h.01M190.49 357.95h.01M207.46 368.66h.01M176.89 261.8h.01M168.36 329.28h.01M171.32 374.51h.01M171.31 335.2h.01M173.28 450.84h.01M171.04 371.53h.01M170.41 335.39h.01M172 457.55h.01M109.33 449.28h.01M182.73 335.56h.01M191.38 483.19h.01M168.11 500.43h.01M123.76 352.23h.01M123.86 313.95h.01M107.68 319.13h.01M124.57 476.9h.01M123.61 317.12h.01M170.23 455.78h.01M207.48 428.55h.01M118.34 261.49h.01M168.91 299.72h.01M117.3 455.9h.01M113.27 332.86h.01M106.84 374.51h.01M175.74 312.48h.01M116.52 428.71h.01M114.89 336.1h.01M187.76 385.97h.01M91.81 304.97h.01M191.35 376.98h.01M187.94 372.52h.01M112.73 371.27h.01M119.17 375.3h.01M196.18 270.82h.01M172.65 432.12h.01M176.83 413.21h.01M169.58 429.58h.01M116.21 477.93h.01M166.49 451.74h.01M170.27 501.69h.01M92.97 328.28h.01M124.87 503.98h.01M191.39 454.22h.01M107.63 369.78h.01M182.1 257.64h.01M103.02 270.07h.01M167.92 355.49h.01M171.62 410.32h.01M173.1 485.86h.01M116.42 481.14h.01M180.55 331.57h.01M114.2 384.2h.01M167.69 329.47h.01M178.11 329.2h.01M112.47 449.53h.01M108.94 479.65h.01M177.28 316.21h.01M110.97 271.49h.01M105.34 286.02h.01M201.39 456.49h.01M102.79 505.77h.01M123.56 270.1h.01M123.22 270.51h.01M181.38 319.91h.01M174.93 414.06h.01M121.43 287.73h.01M120.19 508.98h.01M91.16 370.85h.01M123.24 370.21h.01M170.53 262.66h.01M116.05 370.75h.01M169.62 451.72h.01M171.71 476.47h.01M202.93 312.53h.01M90.15 474.13h.01M169.15 389.07h.01M178.12 455.04h.01M106.83 287h.01M193.08 390.13h.01M119.49 426.07h.01M122.4 350.88h.01M114.05 318.04h.01M102.13 391.78h.01M170.63 408.79h.01M124.66 387.27h.01M120.18 270.13h.01M213.39 357.05h.01M122.48 318.63h.01M167.3 453.46h.01M122.19 373.07h.01M122.2 477.51h.01M171.91 437.79h.01M121.35 318.95h.01M112.14 306.76h.01M173.2 272.69h.01M121.88 434.05h.01M167.42 353.93h.01M112.45 291.29h.01M108.64 261.21h.01M123.98 391.26h.01M115.03 433.45h.01M175.77 357.27h.01M113.4 319.84h.01M120.63 393.18h.01M179.24 497.06h.01M187.16 481.84h.01M111.77 431.83h.01M118.95 479.22h.01M166.68 429.81h.01M172.61 505.92h.01M202 500.15h.01M171.02 507.34h.01M174.73 430.92h.01M181.7 370.42h.01M123.63 482.26h.01M111.69 371.14h.01M123.54 333.25h.01M123.95 292.11h.01M110.57 291.23h.01M107.1 509.56h.01M122.38 300.35h.01M121.65 432.99h.01M188.13 388.9h.01M93.54 301.23h.01M169.71 314.84h.01M111.33 396.48h.01M110.54 356.14h.01M167.96 499.43h.01M123.07 480.42h.01M187.32 507.86h.01M166.72 433.61h.01M124.49 374.92h.01M112.93 367.88h.01M116.62 264.2h.01M189.34 393.94h.01M118.34 312.48h.01M166.76 451.56h.01M179.77 483.32h.01M172.75 433.94h.01M194.17 500.35h.01M118.81 353.06h.01M175.88 386.04h.01M169.91 482.49h.01M169.05 354.31h.01M109.64 437.78h.01M167.27 318.42h.01M171.39 289.07h.01M167.43 509.33h.01M116.35 396.35h.01M177.3 271.5h.01M202.06 384.75h.01M192.97 455.43h.01M174.05 497.56h.01M177.66 354.03h.01M115.97 483.48h.01M124.99 318.94h.01M203.49 301.51h.01M182.89 429.8h.01M192.25 437.64h.01M102.87 257.39h.01M123.77 478.45h.01M118.33 289.03h.01M176.65 330.77h.01M185.52 334.33h.01M103.3 376.23h.01M108.35 318.78h.01M198.32 432.15h.01M199.93 358.33h.01M95.02 499.47h.01M112.72 394.76h.01M169.95 303.7h.01M27.72 353.54h.01M173.37 413.95h.01M166.32 332.5h.01M170.95 450.79h.01M179.13 500h.01M121.38 485.73h.01M119.33 375.89h.01M167.06 481.46h.01M169.62 353.28h.01M171.2 479.24h.01M104.14 375.87h.01M122.84 481.56h.01M171.94 448.3h.01M167.18 433.74h.01M111.25 454.18h.01M119.38 291.94h.01M173.78 302.14h.01M176.18 427.45h.01M179.7 260.78h.01M181.95 371.85h.01M171.83 435.08h.01M120.81 335.6h.01M166.58 260.11h.01M115.45 272.57h.01M122.83 457.68h.01M119.38 305.04h.01M176.87 331.72h.01M203.54 316.08h.01M99.89 395.77h.01M180.77 432.57h.01M117.61 328.48h.01M116.07 288.81h.01M167.07 479.52h.01M121.45 353.42h.01M120.72 387.08h.01M109.24 354.9h.01M112.88 458.76h.01M52.38 302.17h.01M106.03 260.89h.01M123.63 372.25h.01M124.27 507.97h.01M109.95 292.3h.01M170.82 318.85h.01M121.87 313.05h.01M118.24 457.25h.01M118.87 432.17h.01M175.17 356.03h.01M115.81 375.53h.01M121.97 485.72h.01M184.26 372.55h.01M113.83 273.73h.01M219.25 431.63h.01M167.01 449.12h.01M119.46 410.61h.01M123.22 457.34h.01M179.81 394.08h.01M114.22 435.1h.01M113.67 349.6h.01M166.68 330.17h.01M115 506.12h.01M92.83 504.83h.01M118.94 358.85h.01M174.04 317.61h.01M122.33 368.87h.01M244.76 349.23h.01M214.12 392.09h.01M208.52 373.54h.01M168.92 272.71h.01M119.06 260.27h.01M121.42 355.81h.01M113.41 509.36h.01M172.28 273.99h.01M106.45 426.38h.01M114.81 449.36h.01M120.51 434.37h.01M95.8 485.95h.01M124.71 454.35h.01M118.55 484.44h.01M167.28 333.04h.01M182.45 287.3h.01M124.09 384.16h.01M172.08 393.87h.01M116.76 451.11h.01M170.48 499.89h.01M117 358.24h.01M113.92 263.7h.01M107.43 349.59h.01M203.83 410.11h.01M171.36 411.93h.01M176.58 389.52h.01M116.79 473.46h.01M122.27 415.87h.01M172.87 425.42h.01M190.41 353.88h.01M105.51 437.77h.01M114.31 454.05h.01M121.83 432.16h.01M168.5 349.32h.01M116.78 397.26h.01M234.09 433.53h.01M110.41 352.94h.01M169.45 497.19h.01M118.08 449.09h.01M172.82 457.05h.01M178.01 386.1h.01M166.72 411.91h.01M118.51 368.95h.01M170.27 332.66h.01M187.58 504.12h.01M173.87 509.44h.01M120.48 374.54h.01M76.91 497.87h.01M111.81 477.78h.01M121.45 332h.01M123.84 262.42h.01M94.06 305.74h.01M172.69 368.55h.01M172.03 319.47h.01M98.59 289.61h.01M120.85 432.5h.01M123.68 408.83h.01M114.14 330.6h.01M107.94 319.62h.01M116.61 358.71h.01M109.97 436.41h.01M123.63 505.94h.01M176.38 416.32h.01M175.16 507.61h.01M175.29 331.26h.01M176.34 288.42h.01M183.66 481.05h.01M119.72 451.13h.01M93.9 313.07h.01M167.48 349.25h.01M121.76 436.08h.01M191.18 392.92h.01M189.72 414.44h.01M170.81 484.17h.01M178.12 504.3h.01M109.56 353.9h.01M189.44 409.82h.01M172.07 411.18h.01M192.78 330.95h.01M170.9 351.21h.01M114.27 395.91h.01M122.65 356.32h.01M119.33 385.46h.01M175.75 449.1h.01M198.77 359.41h.01M110.61 433.24h.01M123.75 482.08h.01M119.38 261.55h.01M168.8 454.62h.01M205.53 387.12h.01M120.33 354h.01M174.16 368.63h.01M169.83 319.83h.01M109.26 258.99h.01M172.13 285.8h.01M117.58 286.05h.01M169.8 260.98h.01M120.14 291.14h.01M113.32 454.61h.01M109.35 315.4h.01M177.29 390.11h.01M84.59 501h.01M120.41 412.87h.01M166.66 313.72h.01M115.61 301.72h.01M124.24 329.98h.01M122.06 391.71h.01M111.54 260.4h.01M109.68 286.24h.01M172.51 432.12h.01M177.57 291.59h.01M122.17 305.03h.01M187.59 481.86h.01M109.69 502.96h.01M199 292.36h.01M100.09 479.6h.01M109.22 448.19h.01M173.35 330.76h.01M113.37 354.26h.01M178.37 349.93h.01M171.29 509.79h.01M98.7 503.49h.01M111.28 389.67h.01M177.49 387.98h.01M122.71 458.33h.01M174.05 372.45h.01M174.82 449.84h.01M113.2 481.4h.01M190.37 430.94h.01M111.62 501.65h.01M109.21 396.7h.01M197.38 391.27h.01M169.19 429.03h.01M123.08 291.47h.01M179.22 356.01h.01M175.09 274.46h.01M186.33 384.56h.01M119.82 373.89h.01M167.06 452.71h.01M183.48 507.02h.01M123.57 302.21h.01M171.25 392.98h.01M167.99 508.18h.01M180.87 452.61h.01M123.01 457.49h.01M167.58 273.1h.01M123.9 409.96h.01M121.61 354.87h.01M168.9 508.74h.01M192.96 502.76h.01M167.2 451.76h.01M121.52 393.48h.01M166.42 396.74h.01M122.74 288.74h.01M171.33 387.28h.01M77 259.27h.01M113.67 330.15h.01M121.05 503.92h.01M169.24 355.55h.01M119.8 304.89h.01M103.61 287.85h.01M118.5 485.63h.01M170.86 262.02h.01M166.28 331.32h.01M116.92 376.29h.01M119.69 454.5h.01M185.69 431.15h.01M116.59 289.75h.01M166.15 369.36h.01M111.24 482.79h.01M174.18 497.27h.01M211.47 482.88h.01M167.63 415.7h.01M123.95 393.23h.01M121.77 508.87h.01M116.48 437.24h.01M109.91 501.95h.01M115.79 433.99h.01M172.07 257.51h.01M99.3 392.86h.01M167.51 396.21h.01M187.69 452.25h.01M175 359.74h.01M195.99 289.47h.01M182.06 501.35h.01M106.46 508.46h.01M185.04 313.69h.01M217.2 392.51h.01M169.01 506.06h.01M192.41 393.88h.01M105.35 385.05h.01M112.97 496.35h.01M119.71 291.82h.01M118.19 315.54h.01M183.59 262.23h.01M106.84 498.01h.01M119.44 485.66h.01M169.78 479.43h.01M122.79 328.64h.01M118.84 502.49h.01M102.83 333.51h.01M206.24 290.51h.01M185.12 397.3h.01M119.61 313.9h.01M171.14 498.38h.01M168.31 374.82h.01" stroke="#1212e4" stroke-width="1.7" stroke-linecap="round" fill="none"/>
<path d="M174.27 424.09h.01M179.99 471.91h.01M120.32 280.31h.01M37.24 464.16h.01M80.85 463.86h.01M85.26 462.09h.01M91.45 516.98h.01M107.94 441.2h.01M61.97 461.65h.01M124.49 510.79h.01M175.36 251.62h.01M81.17 465.14h.01M169.56 280.31h.01M185.11 403.94h.01M235.69 366.36h.01M116.93 277.9h.01M98.94 366.44h.01M112.37 464.2h.01M122.43 463.46h.01M171.8 519.22h.01M115.31 399.86h.01M185.4 489.4h.01M101.63 399.43h.01M120.97 366.52h.01M172.65 418.41h.01M124.75 420.34h.01M114.93 363.42h.01M122.53 322.96h.01M91.03 379.98h.01M188.72 422.49h.01M121.05 281.88h.01M122.71 445.84h.01M52.05 469.07h.01M115.99 339.42h.01M103.26 461.54h.01M213.51 466.11h.01M170.49 491.86h.01M109.88 284.09h.01M115.18 400.33h.01M118.9 472.39h.01M106.32 465.89h.01M179.87 321.68h.01M197.59 467.22h.01M166.45 418.04h.01M114.34 283.35h.01M117.71 363.23h.01M179.38 361.54h.01M167.9 470.17h.01M97.01 295.52h.01M181.23 327.55h.01M188.95 382.69h.01M118.62 337.95h.01M175.1 294.3h.01M123.29 417.59h.01M168.85 337.81h.01M123.87 493.64h.01M119.08 490.19h.01M180.99 268.93h.01M124.98 321.27h.01M113.85 327.43h.01M91.44 466.56h.01M177.78 511.43h.01M210.53 518.01h.01M174.9 311.22h.01M123.64 465.89h.01M178.76 281.52h.01M179.99 443.67h.01M172.13 487.13h.01M111.74 464.05h.01M103.75 418.1h.01M111.41 269.18h.01M166.75 520.4h.01M101.24 462.92h.01M96.3 381.14h.01M113.57 406.88h.01M117.66 489.87h.01M60.92 469.9h.01M116.97 419h.01M174.35 295.52h.01M123.58 418.08h.01M120.38 266.94h.01M124.18 467.69h.01M176.8 253.74h.01M209.36 421.41h.01M58.93 460.75h.01M122.23 510.87h.01M118.87 293.75h.01M171.87 346.75h.01M107.62 324.27h.01M185.16 379.67h.01M96.34 466.5h.01M112.99 420.09h.01M104.2 346.02h.01M167.67 292.95h.01M172.4 365.94h.01M99.19 461.01h.01M180.39 341.32h.01M118.1 440.41h.01M173.08 327.39h.01M167.92 362.67h.01M118.49 422.82h.01M189.27 466.03h.01M114.32 338.81h.01M173.62 325.29h.01M167.93 469.69h.01M182.54 440.99h.01M166.63 400.03h.01M174.71 278.67h.01M191.74 256.43h.01M176.07 460.52h.01M182.42 281.4h.01M117.29 441.15h.01M182.55 511.25h.01M113.28 519.61h.01M182.59 296.71h.01M116.5 338.63h.01M193.72 360.52h.01M117.18 360.71h.01M42.89 460.76h.01M120.2 339.26h.01M107.85 362.33h.01M101.57 461.28h.01M84.68 339.78h.01M184.03 280.13h.01M170.93 379.45h.01M116.82 424.31h.01M87.28 515.05h.01M172.36 495.31h.01M178.42 440.29h.01M77.93 324.64h.01M189.84 446.15h.01M118.8 461.89h.01M112.34 265.39h.01M122.55 266.84h.01M123.42 401.96h.01M183.48 463.99h.01M120.81 423.06h.01M105.97 280.35h.01M179.95 383.67h.01M121.43 296.7h.01M100.82 321.27h.01M117.74 470.3h.01M117.72 465.24h.01M51.61 464.2h.01M108.07 252.73h.01M195.38 297.22h.01M185.35 343.53h.01M180.11 463.78h.01M178.81 345.7h.01M208.64 418.49h.01M168.24 277.66h.01M121.99 382.25h.01M121.32 439.82h.01M168.95 465.83h.01M114.96 407.32h.01M167.26 399.64h.01M182.33 518.5h.01M169.48 379.57h.01M171.58 266.47h.01M116.37 403.13h.01M104.13 276.35h.01M167.78 460.8h.01M187.49 345.54h.01M124.82 521.92h.01M166.15 443.43h.01M107.54 339.89h.01M123.56 366.9h.01M180.44 268.42h.01M172.46 405.72h.01M193.22 491.99h.01M170.64 520.93h.01M119.6 266.39h.01M202.66 267.47h.01M222.69 361.8h.01M67.14 467.34h.01M122.95 486.72h.01M117.09 281.59h.01M120.89 442.86h.01M170.72 489.5h.01M181 439.25h.01M178.31 366.07h.01M123.35 277.87h.01M113.43 402.18h.01M113.52 278.48h.01M182.65 341.48h.01M104.62 254.35h.01M171.78 489.32h.01M185.51 464.5h.01M95.7 269.06h.01M88.98 464.2h.01M119.16 511.5h.01M116.82 513.55h.01M103.89 360.83h.01M117.23 281.22h.01M93.88 521.8h.01M166.76 493.11h.01M124.39 402.51h.01M191.85 463.91h.01M179.79 252.19h.01M110.68 322.76h.01M167.45 298.71h.01M182.42 283.49h.01M96.93 421.97h.01M123.94 297.3h.01M175.02 460.19h.01M120.87 491.55h.01M104.74 339.97h.01M186.78 419.96h.01M89.74 265.56h.01M105.15 280.53h.01M169.88 492.23h.01M122.14 295.69h.01M113.12 278.28h.01M71.91 463.14h.01M167.12 255.68h.01M181.81 294.89h.01M168.26 282.57h.01M120.73 256.37h.01M168.64 325.53h.01M121.86 379.88h.01M172.36 341.57h.01M171.68 512.84h.01M168.71 383.36h.01M169.27 326.53h.01M179.34 494.68h.01M181 405.69h.01M174.28 419.3h.01M103.44 380.28h.01M181.53 378.91h.01M122.11 486.78h.01M121.11 444.85h.01M198.09 323.73h.01M100.3 445.23h.01M108.64 346.1h.01M167.38 323.97h.01M169.52 518.55h.01M110.96 344.27h.01M118.85 253.5h.01M120.45 403.94h.01M166.19 514.91h.01M124.39 460.67h.01M112.51 422.75h.01M171.61 321.14h.01M112.62 254.63h.01M189.52 440.73h.01M121.76 492.59h.01M179.34 278.76h.01M187.34 441.77h.01M81.5 252.28h.01M82.92 442.59h.01M174.17 295.72h.01M109.08 297.81h.01M172.85 278.37h.01M226.79 282.51h.01M166.7 343.4h.01M119.27 324.23h.01M167.38 378.87h.01M87.71 341.29h.01M120.25 338.82h.01M174.65 265.44h.01M106.07 464.66h.01M122.49 510.54h.01M190.67 398.06h.01M108.62 463.48h.01M120.78 487.11h.01M170.13 346.28h.01M115.2 325.02h.01M108.07 308.21h.01M113.22 295.48h.01M107.8 417.98h.01M113.69 515.84h.01M175.37 404.92h.01M110.71 310.7h.01M119.78 282.14h.01M102.26 491.41h.01M113.3 491.71h.01M109.54 278.42h.01M112.56 519.75h.01M170.44 460.74h.01M115.83 512.41h.01M214.86 462.25h.01M105.56 489.54h.01M181.47 365.93h.01M117.81 341.37h.01M81.74 462.62h.01M166.05 511.7h.01M167.17 487.18h.01M188.05 521.43h.01M75.21 464.8h.01M99.66 326.65h.01M117.3 293.78h.01M44.1 468.75h.01M180.14 326.86h.01M121.75 420.99h.01M113 362.6h.01M92.82 293.65h.01M174.63 417.51h.01M97.99 339.13h.01M70.84 467.12h.01M108.18 519.81h.01M117.5 278.97h.01M179.1 466.23h.01M100.96 278.59h.01M115.03 470.23h.01M174.27 265.08h.01M220.49 405.3h.01M109.15 439.15h.01M110.97 460.99h.01M180.81 465.84h.01M171.1 293.97h.01M173.67 307.71h.01M178.85 518.34h.01M50.05 465.34h.01M178.42 517.82h.01M111.9 515.46h.01M169.31 324.1h.01M169.33 346.54h.01M207.44 472.9h.01M169.28 281.97h.01M174.27 278.9h.01M123.23 460.18h.01M111 417.46h.01M182.59 267.95h.01M47.78 461.58h.01M195.02 468.57h.01M187.07 360.71h.01M124.36 345.41h.01M201.83 444.23h.01M124.81 282.27h.01M170.72 277.55h.01M121.53 308.41h.01M114.71 322.69h.01M50.89 469.36h.01M118.91 268.06h.01M118.19 326.1h.01M181.81 383.27h.01M191.2 321.56h.01M118.73 404.5h.01M196.33 284.73h.01M48.88 470.18h.01M106.78 460.84h.01M175.6 320.48h.01M176.08 444.92h.01M111.35 295.23h.01M167.28 299.11h.01M167.14 267.76h.01M120.68 398.91h.01M124.43 464.72h.01M117.79 345.5h.01M123.27 518.43h.01M102.22 463.35h.01M178.08 326.35h.01M107.48 518.21h.01M119.61 441.78h.01M48.26 466.18h.01M79.73 326.29h.01M108.54 383.68h.01M32.65 462.9h.01M88.2 468.15h.01M179.33 440.63h.01M182.81 324.13h.01M173.46 401.68h.01M168.53 421.05h.01M84.85 489.7h.01M179.61 326.87h.01M60.02 277.91h.01M119.03 363.78h.01M85.29 309.64h.01M173.4 365.86h.01M120.22 398.04h.01M169.07 266.04h.01M114.26 406.66h.01M124.6 424.41h.01M189.79 513.12h.01M106.22 513.18h.01M109.83 522.07h.01M196.28 338.33h.01M117.03 285.06h.01M168 417.37h.01M107.49 380.69h.01M178.99 463.96h.01M166.25 362.48h.01M179.78 309.86h.01M183.05 324.17h.01M170.82 472.48h.01M56.61 469.59h.01M102.35 266.08h.01M174.26 365.71h.01M187.86 267.72h.01M186.96 282.28h.01M209.38 486.76h.01M109.23 283.65h.01M167.32 255.8h.01M107.98 308.77h.01M168.49 469.22h.01M171.8 360.42h.01M80.19 294.83h.01M177.61 324h.01M82.18 461.97h.01M174.55 464.28h.01M123.53 311.44h.01M182.79 298.52h.01M170.07 284.07h.01M194.52 298.6h.01M115.97 513.09h.01M189.18 361.82h.01M178.11 280.24h.01M111.9 252.28h.01M52.35 466.56h.01M172.43 472.58h.01M124.94 366h.01M106.42 360.84h.01M119.04 298.13h.01M120.53 277.16h.01M172.83 346.26h.01M182.6 267.92h.01M178.63 379.38h.01M167.35 487.79h.01M170.53 381.48h.01M121.61 340.92h.01M184.49 420.67h.01M49.3 461.6h.01M174.27 362.73h.01M173.94 419.74h.01M221.33 470.89h.01M172.95 512.23h.01M105.32 365.69h.01M211.74 419.81h.01M168.48 346.94h.01M182.58 345.9h.01M181.59 278.37h.01M109.44 360.79h.01M94.12 292.91h.01M123.01 511.22h.01M194.66 346.87h.01M104.22 364.3h.01M122.24 337.96h.01M120.09 460.35h.01M90.93 345.81h.01M121.16 444.6h.01M119.51 491.78h.01M122.89 424.41h.01M106.94 522.16h.01M175.76 462.69h.01M166.27 516.53h.01M199.73 399.19h.01M170.01 494.74h.01M183.39 404.36h.01M179.62 308.07h.01M179.67 466.14h.01M118.16 347.29h.01M116.97 252.74h.01M117.66 276.2h.01M210.84 268.02h.01M174.76 254.7h.01M203.58 400.17h.01M101.75 365.78h.01M123.47 324.82h.01M78.01 462.26h.01M174.56 490.21h.01M167.78 423.73h.01M96.13 254.05h.01M182.2 510.63h.01M172.11 253.5h.01M90.07 470.26h.01M198.72 401.99h.01M107.23 397.95h.01M174.15 464.35h.01M118.31 514.1h.01M109.5 264.84h.01M118.64 284.82h.01M113.93 343.96h.01M172.6 463.48h.01M171.38 400.48h.01M101.64 296.57h.01M114.68 468.27h.01M167.08 488.17h.01M187.2 511.99h.01M168.22 490.12h.01M172.24 405.72h.01M120.54 252.44h.01M178.25 381.75h.01M169.25 470.48h.01M176.35 266.52h.01M111.51 324.58h.01M117.46 379.32h.01M122.68 402.04h.01M124.16 252.98h.01M107.92 345.52h.01M116.84 282.15h.01M176.94 462.72h.01M123.27 253.52h.01M122.2 311.21h.01M208.64 443.92h.01M188.52 468.51h.01M205.78 325.65h.01M120 515h.01M236.77 440.16h.01M124.67 444.43h.01M172.12 470.78h.01M169.32 307.89h.01M208.77 361.12h.01M58.72 467.34h.01M109.23 379.45h.01M116.1 338.14h.01M122.11 493.65h.01M91.26 470.57h.01M121.8 487.59h.01M117.23 402.21h.01M113.63 493.81h.01M108.91 363.09h.01M169.73 401.09h.01M178.04 267h.01M169.48 323.21h.01M174.4 401.53h.01M168.33 255.36h.01M253.58 381.38h.01M123.14 307.97h.01M112.86 467.22h.01M175.88 311.16h.01M173.28 514.65h.01M169.81 404.11h.01M122.49 404.34h.01M188.93 265.34h.01M121.59 308.6h.01M109.63 253.53h.01M100.8 470.16h.01M109.6 337.73h.01M181.38 254.72h.01M121.79 442.32h.01M175.57 276.4h.01M103.25 404.94h.01M116.54 438.62h.01M175.64 341.76h.01M169.05 379.12h.01M115.59 295.05h.01M119.75 462.62h.01M172.76 345.58h.01M84.88 469.62h.01M124.58 308.3h.01M124.5 362.36h.01M100.11 364.76h.01M123.43 400.26h.01M209.09 266.38h.01M51.77 468.31h.01M99.69 493.1h.01M119.19 399.83h.01M183.27 488.16h.01M198.39 424.5h.01M172.04 309.64h.01M49.95 461.74h.01M48.6 464h.01M175.92 517.98h.01M116.01 341.15h.01M59.45 462.06h.01M192.17 382.6h.01M188.4 345.31h.01M166.87 404.37h.01M94.45 275.4h.01M176.72 362.23h.01M123.41 403.59h.01M184.57 309.25h.01M93.81 365.14h.01M112.41 444.27h.01M172.21 466.3h.01M194.75 254.25h.01M179.87 343.18h.01M91.22 403.78h.01M123.72 471.78h.01M98.39 515.21h.01M171.16 347.22h.01M170.78 347.15h.01M181.13 277.07h.01M124.43 266.68h.01M169.68 423.96h.01M168 405.9h.01M168.09 513.32h.01M122.77 325.37h.01M170.22 517.59h.01M168.74 404.37h.01M100.61 512.25h.01M181.93 444.69h.01M70.09 462.69h.01M54.2 468.51h.01M102.03 469.25h.01M119.15 362.28h.01M170.71 269.25h.01M82.86 401.37h.01M105.42 442.53h.01M172.65 399.22h.01M124.67 308.17h.01M112.83 400.79h.01M120.38 296h.01M104.22 297.52h.01M101.79 406.42h.01M75.67 462.12h.01M195.77 441.66h.01M103.59 399.91h.01M122.66 511.28h.01M184.26 362.2h.01M174.73 487.18h.01M177.88 423.74h.01M198.64 467.59h.01M96.35 296.24h.01M198.51 461.06h.01M116.37 255.39h.01M170.28 268.19h.01M185.29 402.85h.01M169.89 417.62h.01M173.24 365.76h.01M102.3 398.75h.01M120.6 363.56h.01M178.86 342.02h.01M175.92 513.53h.01M169.85 379.06h.01M176.95 515.06h.01M183.4 516.99h.01M198.89 494.24h.01M192 280.57h.01M119.38 418.11h.01M204.45 490.81h.01M50.58 466.07h.01M122.36 471.57h.01M120.19 294.52h.01M199.36 471.67h.01M119.08 341.15h.01M111.69 277.54h.01M169.06 254.22h.01M124.46 495.28h.01M169.54 383.05h.01M111.07 421.23h.01M116.49 326.55h.01M166.87 296.42h.01M114.12 405.98h.01M109.49 490.42h.01M83.61 322.55h.01M190.59 364.25h.01M178.19 310.8h.01M124.99 379.27h.01M215.38 327.27h.01M112 324.07h.01M119.89 326.61h.01M176.22 252.36h.01M119.84 379.77h.01M180.28 323.25h.01M168.87 379.04h.01M121.92 253.19h.01M115.69 296.29h.01M175.68 268.33h.01M121.54 341.72h.01M181.4 283.35h.01M66.23 469.85h.01M116.25 284.26h.01M118.17 323.61h.01M191.13 309.71h.01M58.79 468.21h.01M166.68 489.28h.01M184.55 492.67h.01M108.17 284.61h.01M173.37 309.53h.01M119.61 307.98h.01M222.23 446.8h.01M186.96 327.14h.01M170.27 284.61h.01M178.97 486.68h.01M123.13 381.4h.01M210.43 466.31h.01M52.54 466.04h.01M191.17 285.07h.01M110.43 520.79h.01M102.21 439.57h.01M116.05 363.78h.01M211.7 466.42h.01M117.58 490.26h.01M114.17 440.35h.01M93.32 465.39h.01M176.32 471.77h.01M174.15 467.4h.01M171.53 253.02h.01M170.41 461.68h.01M166.36 342.58h.01M109.66 514.63h.01M115.95 515.2h.01M47.25 467.78h.01M90.41 447.21h.01M116.52 465.98h.01M112.44 267.27h.01M167.61 341.07h.01M124.09 446.97h.01M179.89 383.31h.01M87.82 460.72h.01M118.21 339.02h.01M168.91 325.66h.01M99.93 383.1h.01M167.16 471.06h.01M214.99 517.93h.01M115.29 398.77h.01M173.47 361.64h.01M181.87 515.8h.01M107.21 252.7h.01M175 439.44h.01M186.92 399.79h.01M124.65 405.35h.01M115.77 253.89h.01M167.69 402.11h.01M168.57 254.69h.01M167.35 267.2h.01M122.31 296.63h.01M117.45 487.35h.01M171.93 256.11h.01M167.99 444.5h.01M97.25 468.73h.01M170.69 360.4h.01M114.51 298.84h.01M166.57 366.04h.01M121.98 256.61h.01M116.56 264.78h.01M104.41 399.18h.01M180.85 323.33h.01M191.72 521.09h.01M121.1 400.38h.01M189.85 423.68h.01M170.77 360.85h.01M259.38 345.27h.01M179.28 339.69h.01M199.38 493.92h.01M97.34 469.06h.01M123.53 267.4h.01M53.57 465.73h.01M94.48 463.7h.01M118.23 398.7h.01M105.89 403.78h.01M167.17 342.14h.01M232.9 365.8h.01M184.18 307.86h.01M171.94 324.53h.01M166.31 322.08h.01M122.12 440.92h.01M188.03 472.48h.01M167.62 256.66h.01M113.38 470.82h.01M190.22 420.85h.01M36.7 462.11h.01M114.69 252.38h.01M108.09 472.5h.01M188.06 405.17h.01M178.87 282.09h.01M114.51 379.07h.01M109.86 439.64h.01M120.65 338.17h.01M207.91 338.34h.01M90.2 469.82h.01M61.05 462.34h.01M167.32 283.52h.01M110.67 442.91h.01M206.79 278.33h.01M100.88 298.65h.01M176.46 283.24h.01M200.42 419.85h.01M175.39 463.96h.01M176.55 276.63h.01M169.57 360.54h.01M179.57 296.67h.01M118.9 253.46h.01M167.5 405.16h.01M232.36 513.15h.01M183.95 467.1h.01M102.16 251.78h.01M82.83 468.3h.01M168.5 279.47h.01M88.93 345.08h.01M166.02 298.56h.01M170.72 419.67h.01M182.47 379.07h.01M171.41 367.01h.01M63.01 469.65h.01M122.8 520.25h.01M173.72 266.82h.01M178 422.6h.01M169.95 520.51h.01M187.54 296.93h.01M171.42 513.54h.01M124.84 383.43h.01M119.83 360.56h.01M98.22 419.44h.01M167.03 268.3h.01M64.78 460.55h.01M186.59 345.64h.01M191.21 407.32h.01M183.29 402.21h.01M177.11 405.8h.01M173.45 407.58h.01M120.94 465.42h.01M110.54 486.67h.01M174.75 382.64h.01M61.77 465.89h.01M115.62 364.91h.01M176.97 310.84h.01M118.11 494.19h.01M118.92 360.75h.01M166.35 491.45h.01M171.89 326.81h.01M167.79 470.57h.01M124.27 446.65h.01M115.92 440.88h.01M176.29 321.34h.01M168.21 468.3h.01M178.86 309.96h.01M61.84 422.76h.01M54.09 462.12h.01M111.89 378.72h.01M172.98 421.5h.01M170.7 511.82h.01M173.97 404.91h.01M182.24 281.58h.01M120.64 424.04h.01M99.54 469.77h.01M47.42 468.41h.01M199.73 423.34h.01M118.73 517h.01M166.96 340.87h.01M178.32 309.25h.01M54.5 463.88h.01M201.29 383.53h.01M177.88 522.16h.01M115.44 294.97h.01M123.03 267.2h.01M206.5 418.74h.01M82.04 461.25h.01M114.95 424.22h.01M181.6 517.82h.01M237.73 265.97h.01M106.82 311.47h.01M118.13 282.86h.01M176.7 401.52h.01M117.94 517.99h.01M122.5 516.82h.01M172.66 322.4h.01M167.34 445.1h.01M180.99 489.39h.01M105.03 327.17h.01M115.68 442.07h.01M36.19 465.23h.01M113.94 490.95h.01M112.95 441.58h.01M230.39 324.2h.01M119.15 344.69h.01M113.51 338.11h.01M106.64 293.18h.01M180.04 491.04h.01M188.05 492.71h.01M122.92 382.48h.01M113.36 379.65h.01M124.81 443.41h.01M186.91 511.55h.01M168.21 338.44h.01M193.99 439.15h.01M197.39 406.91h.01M124.94 266.81h.01M170.88 322.11h.01M177.32 442.92h.01M100.02 403.03h.01M114.12 515.72h.01M171.52 347.57h.01M167.56 445.92h.01M97.59 279.38h.01M113.19 418.41h.01M123.82 461.58h.01M111.17 340.42h.01M194.37 422.97h.01M186.01 360.85h.01M110.46 265.44h.01M168.19 381.11h.01M120.48 277.74h.01M101.35 514.8h.01M190.79 293.82h.01M114.78 471.23h.01M102.13 403.41h.01M118.39 382.24h.01M174.85 440.41h.01M120.96 281.31h.01M168.09 514.54h.01M171.55 463.67h.01M167.56 343.52h.01M196.44 516.52h.01M214.59 323.66h.01M123.43 327.57h.01M172.76 277.74h.01M110.92 255.27h.01M174.16 469.27h.01M108.36 488.08h.01M55.63 469.28h.01M106.96 515.78h.01M185.09 366.43h.01M177.67 361.13h.01M115.68 256.36h.01M198.24 310.36h.01M168.67 308.03h.01M182.13 309.21h.01M176.83 345.55h.01M104.83 267.98h.01M172.49 323.88h.01M166.06 400.81h.01M118.56 461.35h.01M124.99 486.9h.01M196.78 252.83h.01M121.01 284.74h.01M94.83 493.43h.01M111.56 323.53h.01M108.33 519.95h.01M172.27 341.5h.01M170.01 514.06h.01M175.32 513.75h.01M71.56 460.72h.01M167.76 423.43h.01M171.41 277.52h.01M168.29 417.55h.01M168.51 347.44h.01M231 514.69h.01M225.03 325.79h.01M170.23 465.7h.01M124.9 293.2h.01M177.74 469.15h.01M121.93 420.14h.01M176.18 519.97h.01M202.1 283.79h.01M172.67 468.71h.01M107.77 464.45h.01M120.25 407.01h.01M106.26 324.06h.01M176.48 521.79h.01M88.77 470.76h.01M101.48 511.51h.01M166.9 405.7h.01M172.97 462.72h.01M172.81 347.02h.01M171.03 341.38h.01M180.66 295.7h.01M167.23 322.43h.01M172.57 321.58h.01M116.12 311.45h.01M191.82 347.58h.01M105.97 282.81h.01M191.8 382.52h.01M168.12 469.59h.01M124.96 339.33h.01M123.78 310.6h.01M176.64 383.67h.01M88.49 462.63h.01M115.49 522.18h.01M183.29 298.68h.01M177.06 466.29h.01M185.14 438.92h.01M122.04 265.03h.01M212.24 493.94h.01M120.66 294.65h.01M208.1 254.28h.01M184.42 468.43h.01M39.54 468.45h.01M108.19 297.06h.01M111.42 440.87h.01M182.2 519.88h.01M96.48 462.92h.01M67.14 256.68h.01M181.34 406.78h.01M107.21 326.57h.01M189.09 310.13h.01M106.6 490.66h.01M112.81 345.38h.01M119.83 490.05h.01M184.93 268.94h.01M84.84 521.65h.01M116.3 364.43h.01M186.14 296.71h.01M221.67 381.96h.01M103.75 344.69h.01M120.8 468.62h.01M50.27 469.48h.01M118.91 466.9h.01M169.38 308.91h.01M116.03 402.39h.01M122.44 279.22h.01M180.13 468.73h.01M112.44 512.66h.01M166.28 493.6h.01M123.28 307.8h.01M169.6 362.06h.01M123.09 327.15h.01M100.08 256.76h.01M166.4 378.55h.01M168.55 365.21h.01M86.65 522.22h.01M169.53 365.37h.01M99.29 406.71h.01M188.36 366.94h.01M171.66 403.66h.01M108.4 521.67h.01M238.59 490.67h.01M106 278.92h.01M181.74 444.34h.01M184.24 252.26h.01M104.71 422.55h.01M178.05 278.25h.01M182.43 361.18h.01M120.85 253.29h.01M181.58 469.23h.01M115.88 283.81h.01M166.23 342.25h.01M121.33 522.12h.01M171.39 421.39h.01M169.71 283.84h.01M105.71 362.09h.01M85.03 447h.01M182.11 489.71h.01M194.11 268.41h.01M106.96 514.8h.01M122.19 420.68h.01M122.67 361.95h.01M120.12 322.62h.01M111.35 309.47h.01M101.78 440.13h.01M109.95 310.12h.01M103.56 446.98h.01M111.3 488.23h.01M115.9 442.47h.01M178.95 253.15h.01M117.9 422.43h.01M179.66 256.56h.01M114.52 341.17h.01M119.69 323.47h.01M111.63 308.52h.01M115.32 519.02h.01M102.61 276.83h.01M166.74 460.2h.01M123.21 254.9h.01M93.23 309.52h.01M111.46 517.38h.01M124.9 296.88h.01M119.4 310.02h.01M63.7 460.49h.01M89.2 489.27h.01M185.29 464.87h.01M100.21 282.74h.01M171.77 495.2h.01M166.45 471.39h.01M166.81 311.43h.01M178.29 517.19h.01M166.59 276.68h.01M94.37 403.33h.01M124.57 342.65h.01M123.41 366.27h.01M187.9 446.01h.01M174.82 520.2h.01M168.28 464.44h.01M171.93 283.5h.01M167.28 401.3h.01M102.6 298.54h.01M205.59 255.94h.01M192.19 469.91h.01M169.59 277.55h.01M169.76 283.51h.01M119.11 265.38h.01M81.04 461.71h.01M167.95 326.84h.01M119.07 268.98h.01M173.9 276.33h.01M120.75 401.41h.01M166.57 407.03h.01M121.97 466.01h.01M89.63 468.99h.01M117.34 397.74h.01M104.19 417.78h.01M177.46 399.02h.01M96.57 446.7h.01M122.65 280.38h.01M166.86 471.84h.01M98.95 490.33h.01M115.16 489.2h.01M86.25 326.15h.01M122.86 446.98h.01M166.91 296.35h.01M90.13 513.42h.01M53.02 469.06h.01M109.42 417.27h.01M106.58 345.1h.01M166.33 321.68h.01M166.88 268.25h.01M112.24 383.05h.01M173.85 418.82h.01M198.1 380.96h.01M121.27 276.29h.01M41.4 462.16h.01M121.83 298.27h.01M124.34 378.86h.01M123.39 464.33h.01M166.82 420.38h.01M121.37 493.09h.01M187.46 253.34h.01M124.21 517.36h.01M166.68 441.37h.01M91.18 493.99h.01M175.2 281.69h.01M171.34 515.46h.01M168.57 268.39h.01M166.79 467.23h.01M118.56 490.09h.01M99.57 282.74h.01M185.31 308.77h.01M74.56 278.84h.01M121.55 443.62h.01M105.77 417.2h.01M177.47 265.23h.01M121.08 399.85h.01M114.09 296.48h.01M188.79 445.8h.01M123.33 464.66h.01M94.92 462.92h.01M176.45 363.83h.01M113.23 378.77h.01M179.32 280.33h.01M197.08 364.86h.01M115.46 341.76h.01M168.59 307.84h.01M118.78 297.59h.01M194.5 444.99h.01M167.5 278.04h.01M172.97 402.85h.01M174.33 252.51h.01M98.28 464.82h.01M102.77 310.3h.01M106.17 492.47h.01M167.71 443.05h.01M123.68 275.72h.01M113.39 405.4h.01M182.25 405.41h.01M63.36 463.15h.01M123.28 463.92h.01M175.44 419.23h.01M172.89 266.47h.01M53.82 462.25h.01M122.73 254.11h.01M41.42 461.39h.01M102.34 513.62h.01M123.91 366.54h.01M120.87 439.61h.01M120.16 515.76h.01M110.73 461.16h.01M76.97 463.22h.01M88.76 418.59h.01M95.76 460.9h.01M186.35 420.35h.01M200.23 405.76h.01M105.54 338.94h.01M168.09 342.37h.01M115.89 441.87h.01M176.98 420.25h.01M167.65 322.2h.01M188.18 320.6h.01M170.7 346.26h.01M184.27 251.84h.01M166.73 365.71h.01M116.06 327.42h.01M171.23 513.42h.01M173.97 464.91h.01M109.72 442.78h.01M48.28 468.8h.01M53.86 463.35h.01M124.89 512.85h.01M202.99 423.03h.01M166.56 419.09h.01M166.56 320.92h.01M124.25 325.62h.01M175.34 513.71h.01M123.55 379.97h.01M197.3 321.63h.01M167.13 267.5h.01M176.57 487.98h.01M76.23 460.78h.01M196.31 338.27h.01M209.48 407.55h.01M115.98 443.38h.01M114.79 252.02h.01M111.78 493.91h.01M182.12 464.58h.01M169.12 423.27h.01M171.39 421.99h.01M122.29 401.83h.01M119.16 444.33h.01M173.37 514.41h.01M118.81 278.53h.01M173.75 510.88h.01M171.43 401.64h.01M96.87 399.24h.01M124.34 284.42h.01M168.89 519.35h.01M123.79 281.38h.01M221.64 522.11h.01M166.03 320.54h.01M199.31 465.06h.01M117.11 439.01h.01M168.27 324.54h.01M166.34 489.44h.01M119.19 442.57h.01M121.52 292.92h.01M124.71 467.97h.01M219.52 323.63h.01M113.81 382.13h.01M48.93 467.75h.01M168.34 511.23h.01M175.72 346.17h.01M166.97 252.17h.01M44.25 466.48h.01M204.38 462.5h.01M172.22 382.4h.01M100.43 491.1h.01M116.07 440.96h.01M178.09 323.46h.01M185.92 446.95h.01M124.67 472.59h.01M166.51 492.19h.01M166.94 513.44h.01M97.77 420.77h.01M178.5 518.88h.01M170.02 293.63h.01M122.9 280.35h.01M186.9 424.15h.01M99.68 275.74h.01M174.9 269.4h.01M105.2 461.03h.01M108.22 407.26h.01M118.57 307.79h.01M117.7 511.56h.01M79.34 297.37h.01M171.18 447.39h.01M218.76 515.72h.01M175.41 466.79h.01M216.06 255.97h.01M169.05 292.97h.01M180.35 447.56h.01M100.31 400.15h.01M183.16 518.71h.01M205.51 439.14h.01M174.07 293.01h.01M195.41 340.31h.01M123.04 310.99h.01M166.57 340.52h.01M166.42 362.21h.01M176.67 344.33h.01M109.81 512.22h.01M83.91 462.81h.01M123.1 252.81h.01M109.21 364.19h.01M166.56 461.34h.01M171.96 472.75h.01M105.74 513.18h.01M200.36 347.43h.01M105.61 296.89h.01M173.39 295.51h.01M58.63 469.15h.01M116 325.9h.01M124.65 265.92h.01M36.3 468.56h.01M72.52 460.36h.01M109.77 266.12h.01M175.86 361.74h.01M108.01 293.99h.01M175.82 462.68h.01M111.48 276.79h.01M115.65 282.57h.01M113.52 440.92h.01M190.75 494.11h.01M167.94 516.98h.01M106.87 417.68h.01M42.96 462.82h.01M117.32 343.69h.01M183 440.87h.01M119.71 493.26h.01M115.31 378.72h.01M172.66 493.41h.01M173.83 472.74h.01M121.78 283.97h.01M166.02 283.88h.01M50.74 468.71h.01M214.07 339.49h.01M180.87 440.45h.01M169.73 495.08h.01M173.04 254.12h.01M177.44 361.18h.01M193.19 282.6h.01M171.9 400.47h.01M170.98 251.72h.01M100.39 418.36h.01M118.35 325.45h.01M205.41 266.16h.01M106.5 321.37h.01M116.96 492.05h.01M197.65 342.61h.01M173.21 275.23h.01M106.83 338.21h.01M62.08 464.52h.01M121.48 465.38h.01M112.7 277.1h.01M88.37 464.89h.01M110.36 378.8h.01M188.78 360.52h.01M124.25 462.56h.01M108.09 464.76h.01M167.56 322.98h.01M79.67 462.09h.01M117.36 462.42h.01M51.1 461.6h.01M174.65 490.14h.01M117.6 406.09h.01M184.32 323.51h.01M171.23 277.3h.01M115.39 325.66h.01M190.86 379.7h.01M84.1 460.97h.01M185.41 520.92h.01M119.84 268.43h.01M93.67 344.39h.01M65.62 460.86h.01M119.59 469.2h.01M186.31 464.29h.01M167.72 419.51h.01M193.42 517.37h.01M170.26 283.84h.01M103.33 310.77h.01M179.14 252.92h.01M169.34 267.81h.01M167.44 364.76h.01M122.55 464.87h.01M183.58 282.18h.01M115.3 341.82h.01M123.48 403.44h.01M123.52 380.63h.01M119.26 466.43h.01M173.94 379.03h.01M124.26 320.51h.01M112.53 321.46h.01M92.41 467.79h.01M95.02 460.95h.01M190.7 321.23h.01M169.33 255.84h.01M167.3 422.43h.01M117.48 492.3h.01M56.94 465.84h.01M72.65 469.56h.01M202.16 521.08h.01M99.05 510.5h.01M181.95 511.75h.01M169.32 256.37h.01M97.69 294.91h.01M173.53 441.1h.01M124.95 417.47h.01M168.52 514.95h.01M172.36 443.86h.01M120.53 338.23h.01M115.97 310.26h.01M117.33 440.86h.01M170.03 279.5h.01M186.15 344.96h.01M56.19 469.69h.01M183.26 487.21h.01M118.72 401.22h.01M94.17 468.86h.01M175.15 322.53h.01M71.21 463.17h.01M175.25 322.23h.01M183.89 405.79h.01M193.41 402.79h.01M96.66 276.29h.01M225.74 403.7h.01M182.28 255.73h.01M118.55 399.4h.01M120.35 421.02h.01M166.12 521.43h.01M171.69 255.93h.01M99.23 344.11h.01M124.02 362.97h.01M172.82 438.77h.01M180.45 341.17h.01M166.53 468.66h.01M239.67 326.13h.01M167.56 515.15h.01M206.1 462.94h.01M170.68 268.34h.01M176.53 402.69h.01M120.97 516.96h.01M168.75 299.17h.01M115.03 422.96h.01M170.99 381.33h.01M171.1 297.83h.01M115.34 462.79h.01M115.66 361.57h.01M122.92 464.86h.01M119.82 297.84h.01M83.42 460.46h.01M169.9 516.08h.01M106.48 462.84h.01M166.96 520.93h.01M121.92 282.56h.01M197.04 311.33h.01M212.11 440.62h.01M117.11 361.13h.01M167.4 308.16h.01M121.12 418.79h.01M52.68 465.15h.01M119.44 417.55h.01M218.9 402.83h.01M110.04 327.24h.01M169.85 252.82h.01M45.07 465.92h.01M119.11 495.32h.01M174.86 487.13h.01M118.34 404.2h.01M115.34 512.81h.01M166.7 343.84h.01M113.25 468.32h.01M166.83 513.87h.01M31.81 467.91h.01M166.26 423.67h.01M124.01 252.87h.01M177.8 254.55h.01M170.61 295.08h.01M191.76 510.95h.01M176.49 521.45h.01M102.6 380.31h.01M187.27 326.98h.01M114.01 380.96h.01M123.77 337.76h.01M51.2 465.57h.01M121.93 492.54h.01M98.86 280.04h.01M186.23 255.07h.01M172.23 493.26h.01M185.61 268.5h.01M176.99 297.32h.01M124.57 268.94h.01M166.21 380.74h.01M102.9 277.49h.01M117.73 461.94h.01M176.43 339.83h.01M167.44 294.03h.01M110.98 382.24h.01M57.4 464.71h.01M118.11 488.19h.01M94.42 366.64h.01M123.93 281.47h.01M166.53 446.8h.01M177.97 321.72h.01M170.25 518.01h.01M86.12 494.63h.01M180.42 367.38h.01M118.11 512.41h.01M106.4 442.68h.01M172.53 299.02h.01M178.79 339.19h.01M120.16 378.65h.01M116.8 282.91h.01M123.62 518.08h.01M115.14 520.92h.01M196.52 381.25h.01M177.45 293.84h.01M121.82 360.33h.01M173.61 267.01h.01M108.08 265.28h.01M169.23 324.1h.01M104.04 398.89h.01M119.34 469.15h.01M120.47 516.43h.01M112.37 491.45h.01M200.98 516.3h.01M53 463.01h.01M107.98 309.28h.01M169.73 444.87h.01M79.19 418.41h.01M206.24 401.97h.01M168.86 492.3h.01M59.9 461.55h.01M167.93 460.59h.01M170.06 492h.01M103.28 294.34h.01M123.32 295.37h.01M118.94 265.68h.01M124.19 254.13h.01M182.2 446.39h.01M117.84 322.79h.01M174.79 321.01h.01M172.19 269.25h.01M171.2 366.63h.01M104.72 472.44h.01M182.19 514.18h.01M122.88 491.34h.01M120.12 363.74h.01M184.56 489.79h.01M121.47 265.8h.01M207.37 400.28h.01M172.19 513.14h.01M182.07 365.64h.01M38.43 462h.01M167.15 365.22h.01M51.89 469.89h.01M121.01 470.95h.01M175.23 488.39h.01M113.51 517.13h.01M118.06 267.28h.01M121.52 326.85h.01M213.64 494.16h.01M119.81 402.93h.01M248.64 517.14h.01M110.67 252.98h.01M173.56 488.2h.01M49.45 469.2h.01M97.22 438.75h.01M179.59 361.06h.01M168.28 361.35h.01M177.99 406.8h.01M170.94 252.47h.01M185.76 364.59h.01M167.65 282.33h.01M166.67 296.48h.01M123.81 403.24h.01M107.13 360.83h.01M186.45 464.27h.01M220.62 361.16h.01M51.64 469.93h.01M124.47 362.81h.01M200.25 487.5h.01M190.79 254.12h.01M58.22 468.25h.01M177.9 422.33h.01M111.76 282.46h.01M189.13 268.31h.01M111.6 401.07h.01M182.6 518.19h.01M94.61 268.66h.01M81.48 399.83h.01M167.82 441.99h.01M177.66 381.8h.01M122.46 320.97h.01M123.09 325.35h.01M172.76 513.98h.01M124.81 310.69h.01M174.15 382.85h.01M175.97 342.08h.01M91.26 344.77h.01M109.53 344.32h.01M167.97 381.18h.01M177.93 339.61h.01M171.41 417.3h.01M170.84 441.68h.01M168.84 443.68h.01M124.89 404.76h.01M169.43 405.4h.01M178.79 419.52h.01M89.76 297.39h.01M117.93 310.23h.01M122.35 343.57h.01M120.57 293.41h.01M110.25 487.82h.01M184.04 406.23h.01M212.14 402.7h.01M173.14 321.38h.01M120.98 324.88h.01M60.97 468.91h.01M182.97 494.37h.01M174.48 399.43h.01M94.23 516.22h.01M69.66 466.43h.01M115.95 463.61h.01M118.93 511.75h.01M119.09 400.54h.01M209.09 460.64h.01M112.83 489.42h.01M120.17 440.8h.01M99.83 492.13h.01M174.2 346.8h.01M122.82 343.24h.01M63.19 467.94h.01M119.83 347.24h.01M119.06 366.62h.01M173.23 399.23h.01M176.72 325.92h.01M42.41 462.27h.01M118.21 459.72h.01M110.9 281.7h.01M124.41 443.67h.01M89.15 341.79h.01M124.89 518.8h.01M53.1 468.56h.01M83.3 253.5h.01M172.64 265.53h.01M104.26 278.9h.01M113.02 293.68h.01M168.92 293.22h.01M97.21 345.23h.01M174.67 275.45h.01M119.85 365.38h.01M112.38 421.33h.01M118.97 403.35h.01M123 418.14h.01M174.15 446.99h.01M176.35 345.87h.01M175.59 442.5h.01M117.74 383.58h.01M101.04 492.78h.01M176.33 514.27h.01M122.1 446.56h.01M213.82 378.77h.01M175.91 275.64h.01M120.43 405.64h.01M77.8 469.03h.01M170.82 407.35h.01M104.81 522.12h.01M191.58 447.58h.01M180.02 281.06h.01M120.27 266.46h.01M121.21 344.28h.01M120.57 322.28h.01M48.79 469.74h.01M119.92 325.5h.01M122.9 297.75h.01M166.99 378.55h.01M113.37 278.92h.01M106.65 380.13h.01M170.68 365.25h.01M119.54 322.58h.01M189.32 495.15h.01M117.96 309.85h.01M171.71 493.32h.01M55.22 464.39h.01M98.42 438.92h.01M113.71 418.6h.01M232.99 380.7h.01M190.99 488.66h.01M168.72 280.19h.01M168.86 417.23h.01M174.37 278.2h.01M167.49 463.14h.01M180.23 490.39h.01M122.53 403.56h.01M67.34 469.06h.01M198.38 521.72h.01M104.53 519.69h.01M113.48 341.45h.01M88.02 515.95h.01M115.14 324h.01M230.28 362.84h.01M110.32 320.91h.01M170.77 326.58h.01M204.85 296.8h.01M106.54 293.19h.01M184.09 398.49h.01M166.58 267.33h.01M111.42 512.05h.01M82.97 418.3h.01M177.76 417.6h.01M98.28 487.39h.01M72.45 468.66h.01M95.26 510.55h.01M107.47 441.55h.01M192.89 465.21h.01M180.14 275.65h.01M219.11 468.33h.01M118.92 344.29h.01M182.32 471.76h.01M166.72 406.29h.01M166.96 445.72h.01M122.65 297h.01M64.92 460.89h.01M110.19 360.45h.01M219.9 311.42h.01M179.63 445.32h.01M97.08 461.69h.01M112.29 297.04h.01M169.03 518.87h.01M121.02 514.09h.01M119.27 439.39h.01M175.91 264.75h.01M173.67 298.2h.01M110.88 400.55h.01M114.7 282.77h.01M178.22 464.85h.01M172.17 382.77h.01M122.32 442.31h.01M171.48 308.56h.01M107.15 276.38h.01M122.48 380.01h.01M116.42 521.25h.01M224.05 322.92h.01M166.01 283.61h.01M124.71 461.78h.01M107.54 253.42h.01M173.1 472.08h.01M181.09 469.28h.01M124.51 406.95h.01M68.06 463.14h.01M106.21 255.75h.01M34.66 462.13h.01M97.09 492.71h.01M112.88 367.22h.01M48.17 462.4h.01M123.69 518.47h.01M192.34 342.15h.01" stroke="#303030" stroke-width="1.7" stroke-linecap="round" fill="none"/>
<path d="M169.88 415.04h.01M237.53 288.94h.01M178.76 259.8h.01M115.99 416.06h.01M181.16 356.78h.01M168.1 456.07h.01M170.06 261.46h.01M123.59 318.97h.01M178.32 412.17h.01M173.79 261.35h.01M178.02 333.43h.01M106.99 271.68h.01M179.4 303.47h.01M120.07 302.54h.01M170.98 408.12h.01M124.95 429.73h.01M177.31 436.21h.01M121.28 435.62h.01M123.97 427.57h.01M123.31 506.23h.01M269.39 368.22h.01M101.71 303.44h.01M194.82 273.8h.01M90.27 352.42h.01M202.52 370.42h.01M112.81 413.48h.01M229.95 476.38h.01M94.51 393.56h.01M192.19 476.2h.01M124.81 330.47h.01M170.53 454.7h.01M123.18 301.92h.01M124.98 271.06h.01M121.02 372.23h.01M175.09 291.91h.01M118.65 436.94h.01M115.8 307.02h.01M117.54 259.59h.01M120.97 505.16h.01M118.8 264.24h.01M123.9 358.1h.01M188.01 430.86h.01M116.35 349.48h.01M123.46 263.56h.01M121.21 264.26h.01M117.87 334.43h.01M97.68 474.86h.01M122.6 410.83h.01M167.56 504.96h.01M175.57 506.48h.01M117.69 260.14h.01M177.71 476.63h.01M115.85 499.62h.01M167.67 270.06h.01M112.63 457.29h.01M121.3 395.76h.01M166.45 456.74h.01M171.07 482.67h.01M174.97 499h.01M79.03 496.4h.01M170.21 480.89h.01M175.42 507.81h.01M176.74 435.1h.01M175.39 304.98h.01M186.51 427.85h.01M168.75 411.45h.01M100.82 452.86h.01M124.79 373.04h.01M117.3 454.49h.01M172.38 334.37h.01M109.12 312.58h.01M104.04 456.47h.01M174.98 329.78h.01M183.41 371.43h.01M186.5 502.15h.01M173.47 258h.01M114.45 270.32h.01M119.06 395.27h.01M123.8 412.79h.01M86.22 263.51h.01M118.92 349.08h.01M176.44 509.83h.01M177.74 350.7h.01M166.29 334.75h.01M174.08 474.09h.01M173.09 374.48h.01M122.69 334.17h.01M199 290.35h.01M124.75 351.62h.01M124.03 286.5h.01M168.83 457.86h.01M100.06 351.66h.01M166.95 371.61h.01M111.91 305.8h.01M113.21 505.59h.01M115.44 450.59h.01M194.7 374.76h.01M114.13 263.82h.01M169.4 331.37h.01M180.94 333.45h.01M184.18 331.48h.01M175.73 368.26h.01M173.64 485.17h.01M175.55 351.77h.01M169.93 436.1h.01M121.53 415.33h.01M104.92 438h.01M120.09 262.79h.01M180.63 428.15h.01M181.91 473.57h.01M178.36 314.99h.01M123.58 329.73h.01M167.88 331.16h.01M112.95 413.83h.01M168.64 258.14h.01M174.68 396.91h.01M174.58 503.28h.01M193.62 510.04h.01M168.59 348.26h.01M120.63 505.76h.01M182.81 355.14h.01M124.17 384.78h.01M118.07 317.85h.01M174.66 395.33h.01M105.07 335.24h.01M171.78 396.73h.01M167.37 350.5h.01M171.06 451.69h.01M103.8 316.1h.01M110.77 457.16h.01M188.47 359.69h.01M108.78 375.59h.01M120.57 356.7h.01M168.84 425.32h.01M124.59 348.56h.01M168.01 257.53h.01M118.61 292.25h.01M172.91 502.62h.01M178.04 270.12h.01M171.77 505.98h.01M192.57 508.38h.01M167.18 387.69h.01M112.82 353.16h.01M176.05 503.2h.01M115.11 272h.01M186.78 452.91h.01M113.37 313.68h.01M118.01 425.84h.01M122 408.32h.01M122.23 270.79h.01M167.95 452.61h.01M110.68 504.97h.01M167.36 369.99h.01M121.97 388.71h.01M112.03 374.71h.01M111.21 330.02h.01M122.45 306.88h.01M103.62 352.61h.01M170.91 390.28h.01M122.27 476.01h.01M118.64 409.81h.01M199.6 500.85h.01M118.7 392.15h.01M95.27 431.43h.01M91.57 350.19h.01M176.88 259.26h.01M179.47 503.43h.01M121.16 436.29h.01M120.04 285.53h.01M174.34 412.84h.01M183.94 454.54h.01M123.35 485.43h.01M166.81 450.81h.01M175.95 355.06h.01M107.6 385.95h.01M193.47 484.53h.01M121.42 452.18h.01M118.42 386.77h.01M176.77 473.49h.01M170.8 303.56h.01M97.03 501.7h.01M190.6 302.67h.01M113.1 352.44h.01M123.39 448.23h.01M93.75 377.76h.01M110.57 291.53h.01M172.07 386.82h.01M124.19 376.89h.01M167.68 430.66h.01M168.57 415.95h.01M124.29 458.67h.01M166.04 483.99h.01M120.51 415.39h.01M124.34 429.3h.01M199.36 312.79h.01M171.69 433.15h.01M170.73 478.32h.01M113.02 452.91h.01M190 503.2h.01M179.16 272.81h.01M117.62 350.74h.01M167.81 306.27h.01M118.55 359.26h.01M120.96 290.74h.01M173.9 287.46h.01M112.25 435.51h.01M111.34 392.37h.01M124.27 389.63h.01M190.52 474.83h.01M170.84 330.66h.01M105.49 376.28h.01M173.33 412.11h.01M170.61 369.54h.01M200.86 474.81h.01M114.88 414.55h.01M172.2 496.74h.01M111.68 509.1h.01M117.96 373.57h.01M115.49 485.02h.01M110.47 438.14h.01M176.13 330.04h.01M117.64 369.92h.01M121.74 475.58h.01M210.11 319.68h.01M202.88 434.1h.01M115.84 414.53h.01M119.21 502.02h.01M166.23 302.35h.01M173.16 501.11h.01M123.03 261.48h.01M114.29 456.72h.01M191.3 349.92h.01M122.58 416.47h.01M119.53 506.82h.01M185.12 261.07h.01M109.14 504.43h.01M196.3 455.98h.01M167.8 485.71h.01M166.29 415.68h.01M122.84 388.48h.01M177.12 357.76h.01M171.3 434.02h.01M110.29 263.13h.01M166.67 318.33h.01M109.7 456.61h.01M109.83 314.58h.01M172.49 262.15h.01M168.26 497.58h.01M98.83 454.12h.01M168.44 373.8h.01M103.33 479.16h.01M110.07 391.79h.01M124.3 357.68h.01M98.69 317.48h.01M168.48 368.69h.01M173.54 429.67h.01M167.86 350.74h.01M117.73 409.93h.01M116.35 427.61h.01M173.59 334.61h.01M170.19 336.06h.01M195.74 432.43h.01M167.26 506.94h.01M169.18 477.95h.01M115.68 429.45h.01M89.8 288.31h.01M222.12 429.36h.01M182.93 286.47h.01M120.64 319.89h.01M166.19 426.75h.01M184.91 497.62h.01M117.35 497.98h.01M124.77 290.46h.01M114.97 358.05h.01M215.36 348.29h.01M183.54 374.05h.01M173.51 474.75h.01M111.24 334.05h.01M119.37 502.59h.01M186.44 329.97h.01M166.4 411.68h.01M184.32 453.48h.01M182.37 375.13h.01M166.15 428.44h.01M172.23 426.77h.01M117.8 368.81h.01M103.47 290.28h.01M170.33 454.5h.01M169.2 496.31h.01M166.66 287.02h.01M167.92 352.71h.01M117.23 506.9h.01M115.52 451.37h.01M168.72 330.98h.01M166.04 306.19h.01M171.84 452.43h.01M196.92 411.34h.01M167.61 329.05h.01M173.44 386.08h.01M168.94 316.58h.01M169.55 286.16h.01M174.74 351.32h.01M112.98 486.17h.01M120.05 434.28h.01M176.94 389.77h.01M120.79 500.53h.01M167.44 426.21h.01M120.67 370.78h.01M121.41 271.18h.01M109.44 377.64h.01M72.15 314.58h.01M112.09 409.55h.01M193.2 302.83h.01M122.67 449.96h.01M169.4 290.8h.01M122.49 369.3h.01M112.71 312.49h.01M180.54 394.62h.01M119.49 356.48h.01M189.5 508.96h.01M118.1 458.4h.01M173.34 315.99h.01M166.79 260.94h.01M112.22 433.62h.01M110.83 270.23h.01M167.93 392.19h.01M120.52 377.59h.01M166.09 408.26h.01M179.26 292.01h.01M177.57 354.61h.01M176.86 455.06h.01M167.07 415.89h.01M108.38 414.05h.01M174.96 288.56h.01M110.85 411.67h.01M122.49 384.38h.01M178.63 357.68h.01M189.68 257.79h.01M124.53 433.32h.01M186.9 261.71h.01M117.42 448.47h.01M108.43 498.61h.01M116.09 313.72h.01M104.15 357.32h.01M167.9 388.88h.01M175.55 477.91h.01M116.76 329.03h.01M123.87 316.55h.01M180.65 312.08h.01M121.96 393.88h.01M191.7 336.52h.01M117.44 508.42h.01M213.01 368.45h.01M173.81 333.14h.01M174.08 330.62h.01M110.06 476.55h.01M124.13 357.73h.01M119.3 286.34h.01M122.05 390.46h.01M117.61 306.83h.01M182.99 290.5h.01M118.28 303.24h.01M169.39 318.96h.01M116.47 415.19h.01M106.82 305.5h.01M124.59 507.47h.01M122.92 272.5h.01M220.25 431.24h.01M115.67 358.53h.01M121.24 359.59h.01M122.01 334.57h.01M181.96 262.64h.01M167.68 432.64h.01M166.32 330.35h.01M120.94 356.37h.01M186.87 301.36h.01M176.24 500.59h.01M113.5 416.18h.01M205.5 260.82h.01M170.18 271.12h.01M173.85 454.28h.01M122.84 260.83h.01M175.51 427.3h.01M173.69 416.69h.01M107.98 506.22h.01M99.16 436.55h.01M192.68 427.53h.01M197.94 330.79h.01M114.06 387.01h.01M113.84 391.96h.01M112.24 432.46h.01M170.36 509.97h.01M173.9 353.19h.01M120.34 377.72h.01M95.39 473.82h.01M174.86 305.4h.01M167.23 390.87h.01M196.82 509.96h.01M196 257.33h.01M123.34 478.42h.01M168.29 432.61h.01M166.14 386.84h.01M178.26 270.74h.01M118.19 484.03h.01M214.72 500.86h.01M124.94 333.61h.01M174.4 318.81h.01M169.47 437.41h.01M184.85 313.7h.01M166.28 331.41h.01M167.86 429.93h.01M171.4 436.8h.01M168.97 509.98h.01M180.31 353.06h.01M122.28 431.79h.01M172.34 352.03h.01M174.59 483.63h.01M168.55 428.63h.01M167.61 458.96h.01M99.63 449.47h.01M171.1 413.04h.01M121.13 287.42h.01M187.26 353.1h.01M112.44 393.13h.01M198.99 452.23h.01M203.27 485.23h.01M122.56 374.77h.01M167.67 299.9h.01M92.23 480.85h.01M180.72 318.26h.01M120.49 430.07h.01M172.7 454.43h.01M119.05 286.93h.01M168.74 271.67h.01M187.92 457.04h.01M172.49 496.02h.01M105.35 416.48h.01M103.44 412.5h.01M122.19 496.52h.01M172.94 376.73h.01M122.22 433.85h.01M120.81 454.77h.01M178.52 502h.01M124.48 312.92h.01M190.62 285.51h.01M176.66 368.93h.01M94.08 259.26h.01M122.26 478.44h.01M97.3 328.22h.01M119.59 368.04h.01M246.57 351.01h.01M167.02 396.28h.01M177.26 450.92h.01M100.82 369.82h.01M176.97 375.07h.01M118.78 317.09h.01M124.5 319.74h.01M122.69 415.04h.01M198.31 336.36h.01M180.12 307.12h.01M122.34 437.37h.01M171.7 427.29h.01M170.12 286.54h.01M171.39 259.66h.01M123.94 482.9h.01M166.27 476.13h.01M92.02 352.74h.01M167.04 498.67h.01M124.52 318.3h.01M181.51 304.03h.01M178.81 286.77h.01M168.21 433.55h.01M121.66 501.07h.01M121.3 257.96h.01M177.1 453.57h.01M103.68 387.5h.01M234.09 312.79h.01M123.77 473.93h.01M171.38 474.73h.01M191.46 289.65h.01M109.69 414.65h.01M115.72 328.16h.01M171.06 303h.01M115.43 498.46h.01M113.67 394.38h.01M215.8 485.5h.01M122.97 497.06h.01M123.51 269.95h.01M211.15 285.9h.01M110.31 448.89h.01M178.03 319.7h.01M30.84 506.46h.01M117.56 260.58h.01M169.28 392.95h.01M174.52 300.35h.01M170.67 498.82h.01M97.22 452.87h.01M167.15 354.1h.01M122.2 270.77h.01M121.82 314.54h.01M179.55 507.81h.01M84.75 331.27h.01M124.96 428.66h.01M112.51 303.45h.01M174.08 290.36h.01M169.14 505.49h.01M169.52 375.54h.01M184.53 348.64h.01M109.01 374.75h.01M166.78 355.93h.01M100.84 392.47h.01M176.96 509.16h.01M178.48 384.26h.01M117.18 476.87h.01M178.3 384.81h.01M207.5 353.93h.01M179.48 318.39h.01M172.04 413.67h.01M167.71 317.57h.01M176.58 349.78h.01M166.51 258.21h.01M103.58 262.3h.01M169.83 374.98h.01M172.83 449.16h.01M123.06 350.05h.01M110.18 358.46h.01M167.82 394.71h.01M118.81 476.61h.01M185.51 368.67h.01M213.5 481.14h.01M110.44 452.86h.01M111.69 413.67h.01M118.26 394.3h.01M186.9 358.45h.01M106.05 318.87h.01M181.7 286.1h.01M170.32 388.05h.01M166.53 428.71h.01M183.35 262.62h.01M193.35 272.8h.01M196.23 479.04h.01M180.81 414.95h.01M124.85 448.33h.01M183.7 351.99h.01M117.65 431.61h.01M118.18 429.38h.01M108.25 451.37h.01M172.23 478.42h.01M196.24 431.27h.01M105.27 328.84h.01M204.77 450.48h.01M120.67 409.22h.01M168.26 477.95h.01M173.45 270.93h.01M189.74 454.92h.01M122.19 370.65h.01M189.29 353.77h.01M177.67 427.22h.01M185.88 274.31h.01M112.82 270.94h.01M170.97 331.24h.01M183.32 395.88h.01M116.14 368.96h.01M176.47 312.84h.01M196.7 369.04h.01M202.21 456.65h.01M122.27 456.68h.01M123.85 371.54h.01M170.95 456.59h.01M166.7 258.46h.01M180.93 384.74h.01M192.38 367.94h.01M97.79 426.55h.01M198.03 264.11h.01M106.05 303.56h.01M171.11 286.33h.01M181.63 413.29h.01M200.88 448.42h.01M174.5 481.33h.01M120.95 374.63h.01M117.04 333.06h.01M120.86 450.01h.01M178.17 274.1h.01M177.05 351.4h.01M111.61 351.31h.01M166.95 352.52h.01M116.78 497.81h.01M200.26 437.61h.01M119.27 455.1h.01M187.81 374.5h.01M166.82 371.17h.01M106.22 336.87h.01M119.28 430.55h.01M109.57 482.22h.01M172.73 501.64h.01M177.79 258.41h.01M122.5 428.42h.01M179.64 416.57h.01M200.12 390.36h.01M194.06 414.15h.01M177.2 312.19h.01M193.08 435.99h.01M122.38 315.99h.01M174.82 412.97h.01M121.3 478.3h.01M110.7 507.99h.01M179.41 499.92h.01M103.23 350.21h.01M170.21 314.6h.01M90.58 260.52h.01M108.03 501.51h.01M184.31 286.23h.01M122.55 273.76h.01M118.83 394.45h.01M205.41 412.14h.01M178.74 349.58h.01M179.64 359.22h.01M124.71 456.92h.01M108.25 304.98h.01M108.31 384.49h.01M108.22 332.89h.01M186.86 483.68h.01M195.63 412.5h.01M168.32 270.87h.01M209.18 350.9h.01M168.09 358.4h.01M183.19 373.25h.01M116.76 426.15h.01M81.69 260.79h.01M171.98 332.12h.01M116.15 453.76h.01M122.42 409.41h.01M122.38 319.92h.01M168.29 263.92h.01M171.53 498.46h.01M166.44 300.61h.01M167.25 312.04h.01M102.34 396.94h.01M185.02 390.17h.01M175.74 350.52h.01M111.36 394.58h.01M115.86 263.05h.01M120.2 396.17h.01M166.55 429.64h.01M200.41 331.21h.01M173.18 412.76h.01M166.22 474.6h.01M114.78 484.55h.01M115.45 352.77h.01M108.75 274.52h.01M175.94 501.36h.01M174.88 449.86h.01M169.07 415.05h.01M121.49 317.44h.01M121.86 386.15h.01M187.33 291.5h.01M185.55 288.43h.01M118.08 504.91h.01M122.54 304.37h.01M119.52 482.06h.01M183.42 449.97h.01M124.21 387.08h.01M117.7 479.06h.01M187.84 272.61h.01M171.23 371.31h.01M104.03 409.86h.01M110.23 506.13h.01M207.5 289.82h.01M188.89 409.35h.01M123.7 287.22h.01M112.77 393h.01M167.75 287.87h.01M116.37 274.38h.01M106.24 376.8h.01M116.39 300.69h.01M174.68 271.71h.01M172.22 458.34h.01M169.8 334.95h.01M176.8 508.85h.01M168.43 374.91h.01M115.04 375.47h.01M168.88 455.35h.01M124.29 438.12h.01M256.52 436.49h.01M169.15 288.59h.01M114.44 483.96h.01M121.23 330.56h.01M166.11 476.27h.01M184.39 396.8h.01M181.89 259.47h.01M118.19 453.74h.01M124.52 481.97h.01M166.87 270.46h.01M178.98 481.77h.01M114.23 370.01h.01M114.39 387.96h.01M118.62 436.57h.01M119.16 431.39h.01M187.09 508.96h.01M169.78 373.45h.01M179.22 413.65h.01M172.07 328.42h.01M114.36 351.08h.01M168.99 359.19h.01M168.62 448.81h.01M107.28 415.27h.01M191.08 414.26h.01M174.89 370.8h.01M181.55 434.43h.01M176.28 431.17h.01M123.31 353.87h.01M171.27 453.47h.01M181.26 374.98h.01M192.65 285.64h.01M209.17 503.27h.01M121.68 301.97h.01M110.86 425.14h.01M109.78 353.88h.01M115.65 457.18h.01M96.5 507.97h.01M175.22 274.41h.01M177.72 289.02h.01M109.71 373.65h.01M173.71 475.79h.01M117.82 356.77h.01M119.28 319.14h.01M108.64 287.67h.01M179.14 458.14h.01M182.11 499.02h.01M166.05 386.16h.01M183.74 313.89h.01M191.26 426.4h.01M173.82 304.97h.01M190.65 260.98h.01M175.21 478.89h.01M166.71 458.25h.01M111.26 373.62h.01M116.62 431.72h.01M122.39 504.27h.01M177.38 458.15h.01M175.34 450.74h.01M124.33 458.21h.01M173.37 260.7h.01M202.68 348.3h.01M116.11 483.8h.01M124.84 475.33h.01M184.27 483.25h.01M172.39 289.72h.01M119.44 451.17h.01M123.88 300.74h.01M176.74 353.09h.01M173.75 496.68h.01M121.26 395.91h.01M174.17 336.1h.01M186.56 357.28h.01M177.36 503.39h.01M124.81 505.59h.01M168.06 316.79h.01M173.07 391.39h.01M109.63 502.42h.01M178.93 483.16h.01M172.47 316.41h.01M267.7 394.57h.01M195.25 261.33h.01M114.78 285.63h.01M115.41 328.25h.01M172.12 456.84h.01M173.87 427.42h.01M178.36 260.54h.01M170.01 451.59h.01M200.64 496.41h.01M174.84 312.7h.01M110.01 437.84h.01M114.53 485.51h.01M175.08 300.71h.01M167.55 374.98h.01M166.7 349.05h.01M167.71 349.43h.01M123.34 318.67h.01M124.06 425.81h.01M172.27 498.75h.01M121.49 432.2h.01M116.14 261.5h.01M116.37 354.02h.01M204.34 393.57h.01M177.85 478.91h.01M178.96 503.15h.01M121.86 389.86h.01M166.6 483.95h.01M170.17 413.84h.01M222.43 410.07h.01M166.25 506.54h.01M169.03 314.12h.01M121.56 499.49h.01M124.1 415.76h.01M103.88 329.21h.01M109.15 304.39h.01M179.48 458.61h.01M169.82 272.64h.01M112.79 263.78h.01M168.15 301.09h.01M113.72 412.99h.01M124.18 331.24h.01M167.25 329.93h.01M114.72 263.83h.01M124.48 395.84h.01M179.52 331.48h.01M179.3 271.3h.01M121.2 374.24h.01M173.25 318.17h.01M100.49 500.76h.01M120.64 390.88h.01M215.27 497.22h.01M191.89 300.29h.01M120.19 335.49h.01M173.17 388.47h.01M185.54 385.75h.01M114.72 452.12h.01M172.16 314.38h.01M112.38 353.25h.01M177 319.92h.01M170.2 425.44h.01M115.39 453.56h.01M168.37 393.03h.01M169.55 334.01h.01M171.78 271.1h.01M118.31 287.49h.01M176.33 451.18h.01M120.26 454.82h.01M177.9 395.86h.01M177.63 507.37h.01M122.86 506.24h.01M120.94 450.9h.01M167.87 386.69h.01M212.54 454.62h.01M118.61 505.56h.01M124.76 258.74h.01M121.31 359.16h.01M122.67 352.18h.01M169.92 271.16h.01M102.29 314.75h.01M112.44 305.24h.01M177.61 415.82h.01M172.41 432.87h.01M171.84 435.59h.01M120.08 271.52h.01M187.2 377.7h.01M214.31 451.84h.01M187.64 358.36h.01M188.47 304.48h.01M186.57 392.26h.01M108.87 479.82h.01M169.8 370.03h.01M121.79 477.84h.01M170.27 411.38h.01M123.82 352.11h.01M116.49 390.72h.01M118.49 257.99h.01M170.74 427.15h.01M121.51 301.94h.01M188.38 394.62h.01M105.77 504.08h.01M166.19 498.55h.01M176.7 435.7h.01M180.24 257.86h.01M174.45 258.99h.01M115.05 291.18h.01M122.65 430.13h.01M107.93 427.95h.01M103.76 384.99h.01M179.49 302.19h.01M120.21 351.69h.01M173.71 501.25h.01M167.96 371.65h.01M248.63 291.14h.01M172.31 287.36h.01M123 385.91h.01M120.56 448.97h.01M197.51 306.09h.01M102.53 301.26h.01M102.75 315.73h.01M113.21 303.69h.01M168.84 496.47h.01M174.51 397.17h.01M117.11 319.45h.01M97.27 261.98h.01M179.69 395.16h.01M119.88 315.03h.01M166.23 315.87h.01M171.27 302.63h.01M123.28 287.58h.01M177.09 260.4h.01M166.93 499.15h.01M168.9 316.87h.01M102.59 425.66h.01M84.21 484.13h.01M171.59 475.02h.01M180.92 302.37h.01M106.65 452.15h.01M204.08 332.46h.01M197.76 454.35h.01M169.48 455.01h.01M119.06 484.09h.01M106.99 387.79h.01M179.89 483.57h.01M173.95 370.71h.01M123.97 301.25h.01M101.08 413.69h.01M193.1 316.44h.01M104.55 331.69h.01M99.28 260.29h.01M169.11 480.61h.01M171.09 355.43h.01M182.21 476.72h.01M179.73 316.97h.01M173.81 303.01h.01M172.82 411.83h.01M169.58 452.23h.01M102.79 504.78h.01M175.11 485.9h.01M111 414.41h.01M94.23 353.99h.01M179.55 374.48h.01M118.48 415.29h.01M168.16 481.49h.01M169.97 454.89h.01M116.42 394.81h.01M178.09 258.43h.01M172.2 332.64h.01M118.5 503.52h.01M172.46 354.49h.01M124.15 317.16h.01M172.08 273.87h.01M118.84 336.52h.01M168.78 312.56h.01M119.76 409.79h.01M122.32 348.57h.01M171.12 331.66h.01M95.81 331.77h.01M116.64 505.23h.01M168.79 394.76h.01M107.03 349.12h.01M101.24 395.22h.01M180.59 370.16h.01M124.61 388.14h.01M107.88 474.9h.01M112.86 429.86h.01M118.34 376.48h.01M173.56 334.87h.01M123.33 425.11h.01M115.76 350.57h.01M115.16 429.82h.01M124.3 373.61h.01M175.5 499.8h.01M116.08 257.51h.01M167.85 456.6h.01M124.64 396.37h.01M123.69 349.95h.01M123.28 304.7h.01M176.77 333.02h.01M168.2 482.41h.01M167.37 291.18h.01M171.04 313.57h.01M168.68 500.07h.01M176.12 388.88h.01M168.47 331.05h.01M105.1 481.68h.01M190.36 504.3h.01M168.17 289.04h.01M169.24 368.16h.01M88.23 374.6h.01M115.77 330.71h.01M185.16 451.87h.01M124.52 415.37h.01M178.95 385.9h.01M122.81 316.8h.01M99.17 351.5h.01M166.65 455.32h.01M105.13 301.55h.01M117.09 431.12h.01M173.83 317h.01M115.54 318.52h.01M121.82 507.05h.01M172.22 482h.01M169.96 306.52h.01M176.05 415.75h.01M114.89 359.8h.01M104.26 258.9h.01M116.26 385.65h.01M123.93 370.2h.01M117.25 334.08h.01M183.29 437.01h.01M167.23 328.84h.01M169.21 377.47h.01M166.63 303.15h.01M178.89 452.2h.01M172.97 396.4h.01M172.45 396.65h.01M170.59 331.66h.01M101.24 319.97h.01M168.93 315.88h.01M166.42 285.6h.01M180.85 431.7h.01M166.4 503.2h.01M178.65 304.28h.01M120.04 409.26h.01M191.01 263.13h.01M124.61 509.78h.01M171.47 475.21h.01M120.61 505.21h.01M111.42 502.31h.01M124.23 335.44h.01M167.09 376.38h.01M179.34 357.16h.01M189.8 435.53h.01M171.1 258.18h.01M124.6 458.15h.01M218.98 329.61h.01M166.22 408.21h.01M169.28 427.47h.01M112.55 429.71h.01M117.24 385.36h.01M122.79 259.1h.01M124.33 426.02h.01M166.87 290.63h.01M170 353.11h.01M167.06 504.35h.01M124.81 449.78h.01M170.64 384.74h.01M97.46 408.21h.01M173.92 451.52h.01M114.53 498.93h.01M123.03 334.61h.01M121.21 332.64h.01M235.84 451.47h.01M123 258.05h.01M169.79 479.5h.01M121.35 413.4h.01M167.19 377.8h.01M75.86 474.32h.01M174.72 270.78h.01M180.76 330.62h.01M168.06 497.87h.01M168.53 288.29h.01M208.18 473.54h.01M170.01 288.36h.01M93.8 260.32h.01M182.07 453.76h.01M122.41 396.6h.01M187.7 434.09h.01M120.98 389.46h.01M180.82 349.31h.01M169.04 436.65h.01M177.18 332.07h.01M106.23 329.84h.01M180.41 291.49h.01M119.72 504.74h.01M201.39 414.86h.01M169.26 414.27h.01M181.73 301.86h.01M188.98 478.3h.01M98.47 436.77h.01M171.34 497.8h.01M176.87 432.39h.01M172.06 305.68h.01M113.91 330.93h.01M168.88 413.25h.01M170.4 393.15h.01M169.94 373.81h.01M220.04 370.05h.01M175.04 337h.01M166.8 373.77h.01M180.05 349.17h.01M170.09 291.89h.01M166.81 411.58h.01M171.3 332.21h.01M119.13 260.88h.01M114.6 352.7h.01M169.14 498.97h.01M116.95 505.18h.01M101.83 289.08h.01M166.41 357.42h.01M170.22 430.36h.01M179.91 458.2h.01M124.28 410.92h.01M113.86 290.11h.01M188.59 314.87h.01M170.88 448.75h.01M122.24 456.2h.01M172.39 413.59h.01M108.57 306.35h.01M100.86 481.05h.01M178.9 408.51h.01M124.39 272.36h.01M167.93 393.43h.01M172.69 352.12h.01M112.21 288.53h.01M113.85 352.44h.01M167.96 499.48h.01M122.76 414.13h.01M91.81 319.42h.01M117.04 430.96h.01M116.68 356.09h.01M167.23 270.02h.01M113.68 395.49h.01M121.58 483.97h.01M179.29 452.96h.01M169.81 261.06h.01M118.06 502.48h.01M119.44 300.76h.01M169.3 456.4h.01M191.6 455.23h.01M174.56 483.91h.01M174.3 436.44h.01M119.91 387.33h.01M122.56 414.51h.01M167.85 348.8h.01M169.11 350.84h.01M90.66 372.83h.01M177.41 409.09h.01M189.85 475.06h.01M173.59 317.35h.01M108.71 318.81h.01M185.1 335.12h.01M173.7 336.38h.01M181.53 411.13h.01M173.46 368.65h.01M175.04 305.44h.01M110.43 409.67h.01M106.47 351.29h.01M118.77 329.53h.01M124.59 352.48h.01M117.8 390.1h.01M175.46 328.31h.01M109.15 476.78h.01M170.08 432.67h.01M116.35 263.29h.01M172.06 355.99h.01M97.03 333.05h.01M166.79 498.03h.01M98.25 373.55h.01M178.25 478.68h.01M168.77 262.5h.01M186.12 373.54h.01M190.48 318.16h.01M186.79 372.04h.01M113.35 475.48h.01M108.82 312.5h.01M169.99 485.07h.01M176.48 314.24h.01M105.84 270.71h.01M114.33 370.15h.01M184.87 495.86h.01M167.02 496.28h.01M175.68 415.32h.01M179.39 368.52h.01M119.96 391.69h.01M180.53 481.72h.01M187.99 330.3h.01M91.04 437.64h.01M166.86 291.23h.01M116.11 448.56h.01M184.43 450.83h.01M112.82 409.18h.01M122.16 454.29h.01M187.87 314.24h.01M166.36 503.87h.01M119.73 371.56h.01M182.59 428.42h.01M124.9 507.35h.01M115.55 497.59h.01M104.11 312.44h.01M166.29 385.2h.01M166.23 395.8h.01M123.97 352.11h.01M114.03 394.76h.01M170.05 415.59h.01M116.87 317.94h.01M180.28 414.51h.01M188.71 353.42h.01M169.97 315.21h.01M111.22 336.68h.01M124.41 479.83h.01M166.21 354.39h.01M166.71 410.55h.01M169.92 350.07h.01M108.89 473.59h.01M115.79 482.14h.01M116.49 425.03h.01M117.98 305.34h.01M172.79 483.94h.01M105.69 411.83h.01M123.81 477.88h.01M168.88 397.12h.01M170.87 393.17h.01M113.75 475.13h.01M185.21 448.69h.01M108.39 437.83h.01M174.09 374.81h.01M104.16 373.19h.01M186.79 507.95h.01M120.34 351.66h.01M118.78 394.33h.01M181.05 258.14h.01M99.14 317.48h.01M121.3 329.66h.01M106.46 431.83h.01M102.87 452.33h.01M179.83 257.59h.01M173.68 369.21h.01M124.51 377.69h.01M169.57 458.92h.01M171.59 481.55h.01M184.89 315.5h.01M169.99 301.62h.01M96.28 455.03h.01M123.38 448.1h.01M167.35 413h.01M190.21 394.48h.01M180.02 384.58h.01M120.14 485.6h.01M119.9 496.28h.01M97.44 506.85h.01M114.12 413.63h.01M172.63 260.73h.01M112.87 354.89h.01M104.35 372.31h.01M184.43 272.79h.01M121.74 369.38h.01M123.96 450.59h.01M118.11 432.6h.01M168.29 368.67h.01M107.95 376.79h.01M100.15 354.32h.01M179.04 333.9h.01M171.57 330.85h.01M108.07 357.91h.01M118.33 348.78h.01M175.56 258.73h.01M167.9 333.9h.01M117.24 274.48h.01M167.56 411.23h.01M113.19 374.34h.01M177.84 482.57h.01M121.95 302.62h.01M120.28 483.16h.01M173.79 484.79h.01M108.05 349.76h.01M180.56 350.81h.01M119.9 258.98h.01M116.7 350.21h.01M117.9 318.08h.01M99 498.69h.01M171.34 356.38h.01M183.77 409.23h.01M102.64 496.96h.01M117.41 393.9h.01M113.47 434.41h.01M188.65 480.69h.01M166.11 504.85h.01M194.95 304.89h.01M169.76 369.98h.01M115.33 386.08h.01M185.98 372.06h.01M177.64 306.24h.01M166.65 263.73h.01M169.72 414.23h.01M95.53 312.47h.01M193.36 257.22h.01M173.03 356.86h.01M180.96 387h.01M170.38 473.52h.01M109.66 408.3h.01M120.3 495.89h.01M95.55 373.77h.01M179.61 305.1h.01M182.37 449.27h.01M120.81 373.76h.01M186.12 290.56h.01M178.11 306.59h.01M112.18 300.47h.01M106.97 410.42h.01M120.2 458.97h.01M115.39 348.05h.01M197.95 414.65h.01M168.34 385.15h.01M171.73 290.49h.01M121.78 414.07h.01M182.75 314.65h.01M167.54 258.17h.01M110.91 396.93h.01M124.54 351.45h.01M170.07 477.54h.01M168.28 458.13h.01M179.61 503.95h.01M171.71 479.03h.01M108.79 506.29h.01M183.88 395.96h.01M93.62 415.96h.01M170.62 484.73h.01M166.24 392h.01M171.71 437.55h.01M195.42 304.13h.01M170.83 483.46h.01M97.92 303.82h.01M103.9 502.97h.01M182.34 330.86h.01M109.52 477.14h.01M113.58 358.32h.01M116.85 496.62h.01M188.04 453.41h.01M123.46 336.89h.01M179.17 437.11h.01M122.93 425.7h.01M182.03 482.25h.01M179.47 458.04h.01M170.28 300.86h.01M177.4 391.16h.01M113.68 371.09h.01M197.19 388.33h.01M166.55 483.73h.01M107.29 290.52h.01M172.42 415.46h.01M169.32 260.16h.01M178.5 390.36h.01M173.37 355.34h.01M102.2 331.66h.01M105.78 290.63h.01M182.65 408.19h.01M176.26 301.88h.01M104.1 480.46h.01M100.8 498.44h.01M166.4 431.87h.01M124.79 392.84h.01M119.37 336.2h.01M124.29 260.93h.01M180.74 260.53h.01M169.2 302.79h.01M170.67 305.61h.01M173.43 259.2h.01M116.61 287.38h.01M110.12 312.43h.01M120.19 333.86h.01M96.76 389.94h.01M120.27 371.54h.01M124.5 484.9h.01M202.97 409.92h.01M122.76 336.11h.01M169.87 285.95h.01M124.09 503.72h.01M173.66 386.36h.01M123.44 452.24h.01M166.11 454.85h.01M179.63 478.1h.01M172.12 354.56h.01M120.59 480.78h.01M173 388.78h.01M119.93 387.68h.01M119.49 384.86h.01M182.45 301.64h.01M169.03 348.37h.01M185.1 392.49h.01M187.47 414.25h.01M98.74 356.84h.01M179.28 317h.01M100.56 290.34h.01M180.89 315.85h.01M169.48 504.78h.01M178.05 375.93h.01M166.58 508.63h.01M124.53 386.85h.01M180.38 504.18h.01M169.79 258.32h.01M173.07 386.57h.01M171.06 370.3h.01M174.91 411.25h.01M112.54 498.1h.01M167.36 263.74h.01M121.14 480h.01M169.27 388.68h.01M121.57 305.35h.01M203.61 391.45h.01M170.79 448.44h.01M97.29 389.27h.01M174.95 412.97h.01M175.22 257.48h.01M124.55 289.56h.01M99.75 479.76h.01M167.84 302.19h.01M122.47 457.25h.01M174.91 376.9h.01M176.63 270.42h.01M113.27 501.52h.01M171 507.7h.01M186.37 271h.01M119.43 408.12h.01M166.07 292.19h.01M167.4 497.51h.01M91.85 412.89h.01M122.87 497.64h.01M118.38 273.99h.01M99.5 425.66h.01M167.54 290.36h.01M168.52 335.22h.01M174.01 437.7h.01M117.7 408.82h.01M172.83 386.13h.01M123.63 501.78h.01M166.8 478h.01M117.99 351.98h.01M173.18 305.29h.01M121.37 414.45h.01M120.73 483h.01M121.01 336.43h.01M120.35 258.94h.01M178.38 457.25h.01M193.92 370.16h.01M123.34 394.76h.01M180.17 390.65h.01M175.53 410.86h.01M124.97 411.53h.01M94.33 409.51h.01M181.49 499.87h.01M177.07 501.99h.01M175.14 504.26h.01M172.71 397.15h.01M105.24 319.36h.01M115.82 507.47h.01M116.84 477.75h.01M171 509.03h.01M115.28 499.3h.01M122.68 359.18h.01M183.09 303.29h.01M171.87 355.76h.01M111.26 393.64h.01M113.2 304h.01M82.36 264.24h.01M97.89 429.71h.01M167.37 431.77h.01M115.57 437.2h.01M120.72 508.46h.01M124.83 274.15h.01M166.03 374.4h.01M175.46 273.75h.01M205.65 503.4h.01M169.67 352.92h.01M110.54 328.79h.01M182.89 356.79h.01M105.23 348.37h.01M195.9 386.36h.01M173.27 354.52h.01M122.87 330.5h.01M89.58 437.72h.01M119.38 485.29h.01M169.54 458.22h.01M124.93 331.99h.01M168.75 509.23h.01M175.12 481.72h.01M173.54 395.28h.01M109.82 354.13h.01M111.04 290.96h.01M166.41 273.45h.01M104.34 355.08h.01M114.78 507.38h.01M199.25 302.11h.01M168.32 302.19h.01M166.79 502.37h.01M105.44 359.67h.01M177.62 270.16h.01M172.24 485.31h.01M121.4 367.85h.01M183.69 353.46h.01M119.7 427.29h.01M120.65 483.7h.01M111.31 369.49h.01M182.38 352.35h.01M122.77 506h.01M122.95 410.2h.01M170.85 355.01h.01M167.13 257.38h.01M172.29 289.15h.01M177.03 504.97h.01M187.3 497.87h.01M111.75 371.99h.01M167.93 352.9h.01M124.65 271.82h.01M122.91 479.16h.01M121.31 474.08h.01M167.45 370.66h.01M175.15 303.22h.01M112.57 503.54h.01M112.52 497.25h.01M116.13 329.57h.01M117.89 388.76h.01M82.35 429.22h.01M99.06 292.36h.01M209.18 373.01h.01M124.09 315.89h.01M108.53 384.56h.01M109.98 393.32h.01M117.43 336.05h.01M123.38 390.05h.01M121.38 257.39h.01M77.11 509.08h.01M122.96 435.06h.01M118.33 415.66h.01M168.42 426.92h.01M107.4 318.45h.01M168 396.5h.01M199.62 430.11h.01M171.49 415.87h.01M194.23 473.78h.01M167.27 335.97h.01M173.19 429.43h.01M111.48 319.26h.01M120.62 431.37h.01M73.25 303.81h.01M88.75 456.22h.01M113.75 481.55h.01M106.69 357.86h.01M110.8 331.3h.01M112.9 272.6h.01M122.35 303.51h.01M180.69 485.78h.01M186.7 414.11h.01M118.05 456.19h.01M185.09 485.33h.01M166.46 432.35h.01M167.03 349.68h.01M124.14 426.93h.01M95.72 287.87h.01M182.96 506.36h.01M112.79 479.54h.01M93.56 475.37h.01M169.28 357.42h.01" stroke="#1212e4" stroke-width="1.7" stroke-linecap="round" fill="none"/>
<path d="M115.78 339.23h.01M196.85 325.72h.01M179.81 463.37h.01M76.42 519.43h.01M201.53 268.35h.01M98.73 464.05h.01M169.71 308.07h.01M177.23 293.89h.01M123.26 464.44h.01M171.74 488.87h.01M166.33 363.47h.01M120.2 516.46h.01M169.6 487.3h.01M50.15 468.18h.01M113.96 406.74h.01M172.88 340.33h.01M123.33 488.5h.01M116.24 344.98h.01M45.03 462.95h.01M117.22 471.41h.01M106.72 466.6h.01M189.07 326.87h.01M175.41 277.34h.01M190.92 278.45h.01M117.24 255.35h.01M119.13 511.33h.01M66.7 464.97h.01M115.82 404.49h.01M111.36 424.43h.01M103.37 512.47h.01M89.29 468.24h.01M124.74 360.6h.01M187.64 468.83h.01M69.37 464.75h.01M181.18 492.63h.01M167.9 322.99h.01M172.42 518.35h.01M182.41 322.39h.01M179.21 264.93h.01M114.88 461.29h.01M168.22 254.66h.01M118.36 471.97h.01M107.24 267.35h.01M187.36 293.6h.01M110.97 518.17h.01M115.37 406.79h.01M72.75 468.85h.01M178.45 513.26h.01M182.4 256.38h.01M116.12 471.83h.01M107.13 383.07h.01M174.36 521.08h.01M112.95 463.85h.01M115.88 401.39h.01M113.17 441.39h.01M100.5 310.79h.01M124.22 324.04h.01M168.12 322.95h.01M186.09 268.31h.01M177.43 461.66h.01M228.63 267.08h.01M171.05 284.29h.01M123.32 443.27h.01M178.27 468.52h.01M101.64 325.92h.01M168.08 446.87h.01M124.52 515.98h.01M113.75 470.46h.01M122.81 363.64h.01M167.14 423.94h.01M195.76 279.75h.01M185.77 468.97h.01M175.22 418.38h.01M173.15 488.16h.01M61.81 460.83h.01M203.48 472.82h.01M105.59 403.95h.01M206.54 442.98h.01M182.31 424.09h.01M172.01 466.92h.01M186.39 490.21h.01M103.26 366.11h.01M119.75 469.08h.01M167.27 307.91h.01M119.8 283.92h.01M203.61 379.56h.01M176.31 466.37h.01M123.44 267.04h.01M168.01 400.14h.01M113.44 297.97h.01M117.88 324.42h.01M112.39 284.75h.01M72.52 460.92h.01M185.31 343.84h.01M170.92 296.77h.01M170.11 438.66h.01M116.28 418.4h.01M166.22 398.38h.01M196.81 283.15h.01M91.42 439.12h.01M113.44 517.73h.01M206.96 254.27h.01M100.19 469.03h.01M167.5 513.1h.01M170.74 447.56h.01M108.57 399.06h.01M175.8 267.65h.01M104.49 445.49h.01M233.31 339.45h.01M123.22 418.01h.01M191.74 489.93h.01M116.09 382.98h.01M123.57 383.63h.01M119.16 277.88h.01M172.25 419.63h.01M117.21 268.98h.01M110.02 297.13h.01M116.59 470.68h.01M111.71 421.63h.01M118.25 487.44h.01M199.43 382.16h.01M119.4 403.18h.01M181.31 442.94h.01M178.87 321.73h.01M119.07 490.47h.01M122.54 382.46h.01M167.87 378.56h.01M114.9 293.43h.01M97.03 421.2h.01M95.61 487.02h.01M114.07 518.4h.01M222.96 275.68h.01M121.63 519.16h.01M120.51 442.93h.01M166.89 339.35h.01M169.11 512.32h.01M188.32 403.68h.01M192.12 268.39h.01M178.44 280.25h.01M184.01 492.66h.01M123.17 254.6h.01M166.18 464.61h.01M112.39 326.64h.01M192.12 517.57h.01M166.2 275.44h.01M176.51 382.97h.01M119.13 278.35h.01M124.62 326.57h.01M166.6 463.98h.01M167.32 469.7h.01M59.38 469.74h.01M199.21 308.09h.01M113.99 469.3h.01M124.45 281.2h.01M65.76 468.15h.01M175.3 495.35h.01M190 447.54h.01M68.3 468.48h.01M171.04 405.5h.01M111.12 440.68h.01M57.15 465.27h.01M215.8 513.62h.01M214.02 443.1h.01M192.87 266.67h.01M119.93 440.85h.01M171.25 438.83h.01M115.69 418.44h.01M169.38 400.43h.01M166.03 465.38h.01M114.44 446.86h.01M170.58 515.08h.01M177.76 379.82h.01M124.56 441.9h.01M178.74 487.46h.01M184.22 463.17h.01M183.04 491.08h.01M120.81 327.45h.01M169 515.81h.01M216 440.97h.01M181.9 282.11h.01M175.77 462.42h.01M119.98 438.99h.01M195.48 310.28h.01M116.96 344.74h.01M175.37 403.09h.01M218.05 277.23h.01M167.66 310.52h.01M218.08 472.39h.01M170.6 439.62h.01M174.58 419.9h.01M122.09 322.31h.01M167.87 465.41h.01M117.38 469.05h.01M170.86 360.5h.01M181.62 378.65h.01M92.01 380.62h.01M177.02 256.24h.01M111.96 422.93h.01M56.97 464.07h.01M169.8 256.34h.01M123.49 294.64h.01M34.89 467.05h.01M167.02 275.61h.01M185.26 323.33h.01M186.67 381.68h.01M181.7 423.3h.01M47.04 469.78h.01M119.68 441.17h.01M101.19 467.32h.01M186.64 405.49h.01M167.52 322.64h.01M124.11 253.41h.01M175.07 417.3h.01M118.99 419.78h.01M167.73 515.82h.01M176.15 463.55h.01M95.84 345.55h.01M177.65 278.73h.01M43.08 468.92h.01M120.05 269.22h.01M109.14 460.85h.01M167.59 465.21h.01M203.75 280.56h.01M85.28 363.71h.01M109.29 380.21h.01M80.72 462.77h.01M166.59 514.76h.01M173.92 253.74h.01M168.13 417.24h.01M57.45 462.59h.01M188.32 297.65h.01M124.55 380.87h.01M166.38 295.52h.01M102 361.82h.01M174.62 405.77h.01M178.99 489.22h.01M187.65 468.6h.01M178.09 406.38h.01M170.89 338.55h.01M180.58 521.48h.01M167.14 382.26h.01M94.8 439.8h.01M104.79 463.61h.01M180.73 251.9h.01M217.44 489.83h.01M122.67 402.52h.01M106.02 309.53h.01M124.96 438.96h.01M65.25 464.82h.01M114.93 253.47h.01M116.1 513.63h.01M169.89 459.87h.01M177.79 406.33h.01M107.15 283.68h.01M114.27 406.45h.01M116.91 280.88h.01M169.65 519.52h.01M168.53 347.12h.01M119.86 491.44h.01M86.81 466.8h.01M107.02 446.55h.01M170.56 495.29h.01M189.8 469.42h.01M54.43 469.57h.01M175.67 423.74h.01M103.31 468.41h.01M190.38 511.95h.01M166.6 267.96h.01M117.31 380.07h.01M179.74 512.85h.01M172.68 469.1h.01M169.34 487.8h.01M166.51 400.91h.01M114.28 407.07h.01M113.76 521.27h.01M186.82 465.96h.01M177.14 418.35h.01M114.3 397.71h.01M169.95 279.32h.01M109.01 495.33h.01M87.16 464.43h.01M101 255.58h.01M58.71 463.15h.01M170.8 403.74h.01M50.49 461.01h.01M107.3 346.15h.01M110.23 360.64h.01M123.5 325.92h.01M167.36 297.17h.01M111 398.16h.01M92.18 361.96h.01M122.84 308.17h.01M176.18 310.9h.01M168.26 269.46h.01M191.77 445.89h.01M183.38 364.22h.01M111.47 472.87h.01M186.31 441.03h.01M92.46 337.82h.01M105.34 269.26h.01M173.97 447.03h.01M166.99 490.84h.01M168.22 513.7h.01M188.69 276h.01M168.82 365.21h.01M184.46 266.87h.01M177.43 379.29h.01M121.13 442.1h.01M123.98 418.65h.01M120.72 311.3h.01M182.04 464.21h.01M178.52 321.9h.01M120.14 465.66h.01M168.41 515.38h.01M173.94 265.66h.01M171.53 363.12h.01M174.29 256.67h.01M169.46 465.78h.01M120.91 383.17h.01M122.3 367.07h.01M174.86 438.82h.01M96.95 518.65h.01M181.12 490.89h.01M184.51 467.4h.01M167.3 489.31h.01M196.86 471.77h.01M118.59 326.19h.01M118.41 340.66h.01M181.84 407.5h.01M172.05 511.21h.01M113.27 405.42h.01M117.03 264.9h.01M122.23 341.76h.01M188.38 266.04h.01M98.1 517.98h.01M123.39 490.79h.01M174.81 382.48h.01M97.39 493.18h.01M118.44 255.29h.01M201.79 521.48h.01M47.94 468.09h.01M54.17 468.81h.01M180.67 364.86h.01M123.69 459.7h.01M109.8 297.75h.01M189.31 402.18h.01M191.87 327.03h.01M99.81 279.37h.01M166.75 442.22h.01M169.75 344.42h.01M176.08 363.53h.01M120.04 446.16h.01M174.65 265.24h.01M63.14 463.79h.01M105.56 441.89h.01M84.42 470.04h.01M184.34 360.99h.01M103.92 401.22h.01M207.68 489.83h.01M169.71 442.89h.01M174.14 461.55h.01M175.57 467.02h.01M92.48 283.4h.01M189 398.68h.01M109.91 276.95h.01M91.87 278.73h.01M111.56 251.67h.01M64.61 464.75h.01M106.48 404.83h.01M105.24 256.49h.01M222.42 472.41h.01M211.72 489.02h.01M185.34 255.49h.01M170.23 309.34h.01M166.29 254.59h.01M115.2 465.68h.01M168.7 420.07h.01M124.26 491.61h.01M196.93 367.02h.01M122.54 439.52h.01M112.43 362.23h.01M109.53 421.04h.01M192.93 447.37h.01M193.6 462.87h.01M178.97 405.54h.01M109.1 293.21h.01M203.7 341.95h.01M190.45 267.81h.01M184.65 491.39h.01M177.79 278h.01M191.68 293.06h.01M121.14 461.7h.01M114.79 490.34h.01M117.13 251.65h.01M166.43 513.75h.01M166.49 326.38h.01M171.9 269.23h.01M121.5 461.9h.01M181.35 468.86h.01M110.26 469.47h.01M172.14 280.55h.01M171.89 464.4h.01M174 445.88h.01M197.74 443.82h.01M116.21 440.21h.01M78.74 464.29h.01M169.59 510.5h.01M124.1 424.01h.01M119.51 465.77h.01M120.62 366.41h.01M106.93 381.82h.01M109.72 495.23h.01M98.93 467.02h.01M121.4 283.97h.01M82.27 276.73h.01M173.1 401.56h.01M168.86 464.86h.01M205.93 360.82h.01M103.03 516.73h.01M51.53 465.56h.01M115.07 469.48h.01M113.74 419.96h.01M195.94 268.54h.01M113.5 487.99h.01M170.39 421.03h.01M224.61 346.43h.01M125.49 515.82h.01M124.64 276.63h.01M98.03 323.22h.01M172.86 340.64h.01M113.85 341.36h.01M167.15 469.75h.01M119.9 462.15h.01M65 461.61h.01M106.55 493.29h.01M107.51 366.68h.01M185.38 422.15h.01M110.74 268.22h.01M68.85 461.55h.01M82.56 269.32h.01M115.46 344.11h.01M77.49 510.96h.01M192.16 383.63h.01M117.23 340.34h.01M124.28 320.79h.01M191.46 424.45h.01M122.15 297.08h.01M93.47 252.54h.01M112.61 471.63h.01M197.73 519.68h.01M172.23 513.11h.01M119.18 424.45h.01M172.67 464.3h.01M169.33 493.19h.01M119.09 459.48h.01M194.7 366.43h.01M122.02 418.88h.01M176.98 399.84h.01M169.25 361.39h.01M172.14 280.61h.01M172.35 406.76h.01M97.3 322.18h.01M114.16 310.82h.01M122.29 492.65h.01M171.14 362.61h.01M102.14 267.22h.01M180.2 381.16h.01M124.25 298.34h.01M123.2 345.55h.01M189.82 512.39h.01M176.64 342.36h.01M88.12 296.69h.01M180.97 380.6h.01M85.7 465.35h.01M116.61 366.89h.01M44.4 466.64h.01M96.8 468.04h.01M97.05 521.11h.01M180.63 254.11h.01M57.81 470.36h.01M65.2 466.07h.01M175.1 295.17h.01M184.39 443.37h.01M62.67 461.49h.01M63.15 469.92h.01M120.71 490.35h.01M170.68 466.94h.01M113.59 441.11h.01M79.61 401.78h.01M220.84 445.32h.01M123.95 382.59h.01M112.58 281.57h.01M89.86 461.05h.01M117.03 309.93h.01M181.04 442.53h.01M178.61 445.5h.01M167.18 266.36h.01M66.66 466.48h.01M117.75 295.27h.01M117.37 252.01h.01M169.66 420.91h.01M119.91 252.11h.01M169.48 339.33h.01M99.8 462.49h.01M117.4 382.11h.01M170.14 298.8h.01M112.73 343.53h.01M93.35 466.44h.01M172.91 323.42h.01M195.47 511.76h.01M81.02 467.1h.01M168.85 297.87h.01M177.36 493.46h.01M175.22 488.82h.01M114.52 293.61h.01M169.56 266.24h.01M182.41 447.34h.01M121.84 521.02h.01M170.18 253.29h.01M92.71 461.05h.01M57.24 470.23h.01M215.32 293.73h.01M173.74 494.71h.01M120.81 323.21h.01M185.76 281.47h.01M97.08 461.61h.01M184.19 398.25h.01M120.12 380.28h.01M118.35 510.71h.01M120.26 521.85h.01M170.87 268.01h.01M65.4 466.31h.01M174.75 463.08h.01M179.49 344.5h.01M175.74 298.01h.01M170.29 344.9h.01M173.65 417.14h.01M115.6 282.53h.01M196.94 310.08h.01M83.26 382.2h.01M167.21 521.19h.01M109.06 310.04h.01M170.31 405.69h.01M122.87 383.18h.01M190.51 491.81h.01M176.84 361.02h.01M123.12 346.29h.01M122.46 282.33h.01M203.64 419.35h.01M122.74 281.79h.01M99.21 293.56h.01M123.35 444.91h.01M191.43 403.56h.01M116.96 468.86h.01M92.43 339.62h.01M166.84 510.52h.01M124.95 512.06h.01M207.94 295.68h.01M175.98 418.07h.01M124.75 307.72h.01M166.11 254.98h.01M56.79 460.98h.01M99.23 470.24h.01M176.09 298.12h.01M112.15 360.39h.01M122.08 294.1h.01M171.73 447.55h.01M96.32 465.08h.01M108.75 516.14h.01M112.96 398.61h.01M171.63 467.06h.01M115.08 282.94h.01M117.03 362.94h.01M171.03 462.18h.01M124.49 418.15h.01M187.55 366.2h.01M166.85 252.45h.01M169.09 342.27h.01M167.98 337.96h.01M114.87 344.74h.01M123.81 461.4h.01M110.89 447.09h.01M122.34 472.25h.01M208.95 398.65h.01M51.01 462.91h.01M110.06 325.42h.01M174.67 446.27h.01M177.03 345.57h.01M86.84 253.98h.01M122.13 281.84h.01M117.19 492.57h.01M168.78 399.65h.01M114.74 417.26h.01M169.6 441.33h.01M173.69 400.82h.01M113.12 443.7h.01M101.93 323.35h.01M202.56 442.19h.01M196.77 363.59h.01M172.52 422.73h.01M172.19 310.55h.01M99.07 512.96h.01M123.93 422.76h.01M116.04 309.29h.01M195.13 515.58h.01M201.07 514.64h.01M175.26 518.96h.01M173.85 321.73h.01M115.65 268.06h.01M192.09 402.76h.01M121.88 515.1h.01M124.94 297.39h.01M58.48 464.52h.01M122.73 268.56h.01M124.64 277.7h.01M117.5 297.66h.01M93.68 489.67h.01M90.52 363h.01M179.53 381.14h.01M216.34 467.76h.01M169.96 327.37h.01M103.1 339.78h.01M169.12 366.67h.01M167.38 463.06h.01M112.11 337.8h.01M123.99 343.11h.01M168.99 489.74h.01M124.86 325.28h.01M108.87 281.11h.01M122.19 253.92h.01M175.17 438.65h.01M115.1 463.85h.01M184.27 378.97h.01M173.7 460.32h.01M98.37 465.39h.01M112.98 345.47h.01M124.31 422.11h.01M176.64 418.09h.01M187.78 325.3h.01M171.86 343.78h.01M56.79 465.07h.01M54.61 468.18h.01M61.59 468.13h.01M173.99 294.74h.01M168.48 494.51h.01M175.17 344.16h.01M62.14 466.44h.01M178.4 462.1h.01M182.25 342.91h.01M123.15 445.53h.01M168.42 447.57h.01M195.41 445.37h.01M178 361.71h.01M193.39 342.67h.01M168.34 401.27h.01M166.3 285.08h.01M168.78 407.02h.01M121.44 382.89h.01M118.54 424.47h.01M106.97 439.42h.01M182.53 444.36h.01M181.59 326.08h.01M180.1 486.78h.01M167.29 283.47h.01M117.86 515.85h.01M123.19 460.21h.01M73.01 461.18h.01M184.38 324.43h.01M187.8 521.91h.01M120.92 494.26h.01M168.28 521.92h.01M171.37 447.69h.01M173.32 381.39h.01M54.32 469.81h.01M122.36 253.31h.01M173.7 441.77h.01M105.4 310.41h.01M177.6 490.59h.01M122.47 277h.01M119.8 465.16h.01M172.07 378.76h.01M174.47 514.9h.01M109.83 264.76h.01M113.38 278.45h.01M81.33 326.83h.01M166.81 517.94h.01M124.5 380.95h.01M174.32 277.28h.01M118.9 284.17h.01M104.3 346.12h.01M180.19 521.98h.01M111.98 380.62h.01M47.15 460.22h.01M109.34 461.08h.01M124.51 343.38h.01M99.83 406.91h.01M52.2 419.65h.01M215.8 363.3h.01M170.3 512.01h.01M180.76 311.14h.01M85.94 346.13h.01M124.06 345.41h.01M64.88 464.81h.01M94 462.53h.01M96.15 278.48h.01M96.51 268.54h.01M185.38 323.76h.01M76.41 472.48h.01M120.02 251.74h.01M198.68 341.09h.01M121.62 398.28h.01M174.18 340.44h.01M124.09 471.98h.01M120.29 324.12h.01M114.82 464.1h.01M172.02 364.51h.01M187.93 417.58h.01M225.03 512.26h.01M100.41 363.59h.01M99.62 265.57h.01M124.44 343.57h.01M104.55 337.95h.01M113.7 255.69h.01M173.17 510.53h.01M213.04 308.41h.01M119.74 294.58h.01M167.52 398.98h.01M110.28 406.82h.01M102.35 381.8h.01M112.85 265.69h.01M116.34 444.8h.01M173.33 344.87h.01M178.58 299.04h.01M169.72 267.73h.01M124.26 343h.01M202.82 400.62h.01M185.87 492.92h.01M99.7 445.24h.01M86.85 467.52h.01M169.79 424.35h.01M121.45 360.6h.01M115.65 422.92h.01M167.18 346.94h.01M184.48 422.62h.01M197.65 423.33h.01M179.72 494.36h.01M121.2 364.47h.01M183.4 295.42h.01M166.83 325.19h.01M49.68 462.93h.01M119.75 378.41h.01M181.44 398.42h.01M179.46 343.47h.01M118.5 468.49h.01M183.1 265.58h.01M87.78 360.83h.01M177.45 446.96h.01M168.66 400.12h.01M167.69 422.92h.01M187.55 401.21h.01M181.53 344.1h.01M168.83 268.1h.01M118.28 400.68h.01M91.11 466.99h.01M58.39 460.59h.01M123.32 339.57h.01M208.46 462.29h.01M106.91 279.61h.01M100.42 406.04h.01M114.94 513.56h.01M123.75 323.02h.01M167.94 489.6h.01M244.22 295.52h.01M97.92 366.1h.01M109.07 461.63h.01M186.67 275.89h.01M187.07 282.09h.01M184.5 466.25h.01M114 324.09h.01M105.47 346.82h.01M189.72 402.66h.01M168.02 488.05h.01M168.87 345.83h.01M121.54 292.93h.01M118.84 345.23h.01M187.03 421.19h.01M88.6 460.63h.01M90.15 422.54h.01M182.98 252.79h.01M167.22 342.97h.01M185.29 278.82h.01M109.53 470.73h.01M193.33 296.15h.01M122.33 447.09h.01M193.43 518.27h.01M123.66 281.19h.01M120.55 400.35h.01M118.73 325.35h.01M119.3 362.51h.01M172.88 440.94h.01M180.01 295.53h.01M173.67 264.73h.01M177.05 461.06h.01M99.17 266.5h.01M99.39 469.15h.01M178.47 442.9h.01M105.87 407h.01M106.94 267.98h.01M176.24 443.95h.01M198.57 439.3h.01M101.6 293.29h.01M113.59 255.12h.01M177.44 364.55h.01M182.74 346h.01M173.38 281.27h.01M191.18 461.55h.01M117.83 417.42h.01M116.97 494.6h.01M170.49 344.91h.01M108.74 344.74h.01M194.78 515.91h.01M114.84 512.12h.01M113 294.19h.01M119.51 518.62h.01M112.17 516.09h.01M171.54 491.78h.01M50.5 469.47h.01M169.93 465.84h.01M110.26 400.71h.01M201.58 366.43h.01M85.72 323.29h.01M120.41 268.86h.01M97.96 321.61h.01M171.86 284.53h.01M194.62 516.28h.01M118.76 513.92h.01M102.97 281.61h.01M181.92 424.25h.01M45.62 460.86h.01M114.8 403.4h.01M111.93 445.25h.01M219.02 364.17h.01M187.24 279.05h.01M71.88 338.19h.01M123.61 398.14h.01M118.51 472.08h.01M81.99 469.39h.01M171.17 283.95h.01M170.05 381.83h.01M119.43 516.34h.01M170.55 510.97h.01M119.46 417.57h.01M104.53 381.7h.01M118.6 326.75h.01M171.97 464.64h.01M124.72 282.02h.01M98.39 468.5h.01M108.57 310.14h.01M171.88 293.78h.01M74.56 469.42h.01M183.66 285h.01M179.42 364.03h.01M112.26 253.55h.01M200.62 440.47h.01M190.42 463.67h.01M122.31 423.46h.01M193.77 347.25h.01M101.56 382.24h.01M172.93 472.89h.01M110.65 488.81h.01M170.92 518.12h.01M124.96 421.45h.01M178.91 487.93h.01M170.29 269.16h.01M117.88 444.55h.01M171.14 467.32h.01M70.01 461.63h.01M123.27 281.54h.01M124.75 323.28h.01M113.93 381.36h.01M170.91 470.36h.01M110.75 346.76h.01M65.73 467.69h.01M206.18 512.4h.01M112.6 407.42h.01M166.3 402.4h.01M170.84 295.77h.01M197.46 492.24h.01M168.48 403.59h.01M171.12 256.1h.01M56.74 466.04h.01M170.33 324.47h.01M100.23 460.67h.01M64.32 297.54h.01M123.88 441.49h.01M56.38 465.34h.01M172.8 267.95h.01M90.96 299.1h.01M124.14 516.68h.01M115.44 492.46h.01M120.01 422.46h.01M121.64 342.57h.01M189.4 520.49h.01M123.57 321.59h.01M170.07 516.69h.01M179.41 327h.01M63.93 466.17h.01M173.95 256.13h.01M48.71 465.78h.01M65.4 467.12h.01M182.14 294.63h.01M121.13 441.28h.01M168.49 366.11h.01M179.31 422.54h.01M105.88 487.85h.01M168.92 472.23h.01M124.28 404.77h.01M94.15 464.2h.01M114.76 323.14h.01M121.85 444.87h.01M179.23 493.57h.01M87.49 469.66h.01M176.06 278.43h.01M121.5 423.43h.01M109.92 399.71h.01M123.04 488.2h.01M186.5 512.22h.01M169.85 378.8h.01M172.95 516.35h.01M115.13 280.96h.01M168.85 364.17h.01M120.59 311.03h.01M104.7 279.03h.01M63.05 460.52h.01M181.13 252.07h.01M120.32 280.01h.01M116.02 298.22h.01M99.05 461.25h.01M123.82 492.58h.01M166.73 443.03h.01M41.7 466.6h.01M179.46 400.83h.01M77.65 461.18h.01M110.59 277.61h.01M124.46 280.76h.01M123.4 446.44h.01M124.96 310.69h.01M124.1 439.86h.01M107.21 487.13h.01M121.56 341.5h.01M183.34 256.07h.01M119.95 341.09h.01M107.93 467.81h.01M98.07 293.53h.01M102.42 342.63h.01M184.2 510.57h.01M119.98 283.48h.01M184.48 298.39h.01M115.35 488.32h.01M173.57 459.52h.01M186.99 252.56h.01M169.32 424.01h.01M100.1 514.79h.01M124.18 383.14h.01M184.19 326.86h.01M112.54 310.74h.01M87.95 295.94h.01M122.63 518.53h.01M118.84 383.56h.01M167.99 406.78h.01M178.09 468.75h.01M175.56 275.81h.01M170.78 417.53h.01M123.3 517.2h.01M116.9 281.46h.01M94.14 404.66h.01M168.66 293.26h.01M124.39 398.55h.01M168.08 439.73h.01M124.05 487.88h.01M174.34 493.64h.01M97.57 378.56h.01M91.86 466.54h.01M180.66 268.93h.01M99.05 466.95h.01M123.25 398.08h.01M200.63 266.7h.01M166.97 379.31h.01M110.63 494.83h.01M180.39 447.14h.01M172.11 342.71h.01M113.1 340.19h.01M173.94 489.82h.01M175.76 492.26h.01M111.09 294.6h.01M207.12 265.9h.01M94.18 513.24h.01M167.11 406.78h.01M96.28 345.23h.01M178.71 378.61h.01M203.15 255.95h.01M112.65 311.27h.01M106.91 294.64h.01M169.91 462.41h.01M105.39 346.57h.01M177.42 309.13h.01M101.82 308.35h.01M166.31 254.36h.01M190.48 381.22h.01M123.34 440h.01M74.97 422.7h.01M167.57 489.26h.01M178.98 278.88h.01M108.7 445.85h.01M119.04 401.86h.01M188.06 464.3h.01M115.43 516.58h.01M191.63 276.76h.01M114.84 470.93h.01M115.46 361.29h.01M105.35 489.23h.01M103.78 266.52h.01M46.7 465.6h.01M110.29 308.13h.01M106.61 326.47h.01M98.17 461.36h.01M114.32 382.73h.01M167.7 378.28h.01M49.89 467.08h.01M169.03 465.9h.01M170.14 465.8h.01M171.85 296.03h.01M113.53 516.14h.01M175.47 400.64h.01M167.08 443.79h.01M230.23 518.21h.01M166.29 514.89h.01M177.1 444.31h.01M103.75 444.5h.01M106.53 417.66h.01M216.99 379.67h.01M124.94 365.48h.01M170.9 419.87h.01M166.87 494.86h.01M124.37 278.91h.01M178.94 252.52h.01M177.85 339.08h.01M103.98 520.69h.01M177.32 276.05h.01M51.29 464.71h.01M172.15 253.63h.01M171.25 404.44h.01M174.53 340.88h.01M124.23 521.09h.01M173.52 463.8h.01M207.02 378.31h.01M115.83 494.56h.01M49.35 465.06h.01M93.8 405.31h.01M178.43 364.68h.01M121.42 343.32h.01M111.92 516.42h.01M102.77 296h.01M109.56 487.56h.01M172.47 264.84h.01M122.85 470.16h.01M122.05 338.36h.01M178.87 297.21h.01M167.19 362.82h.01M112.27 464.38h.01M167.19 298.23h.01M120.35 341.18h.01M184.16 292.93h.01M94.01 423.39h.01M117.33 296.63h.01M108.16 267.17h.01M194.13 447.68h.01M77.24 417.39h.01M51.63 464.19h.01M111.87 381.23h.01M169.02 342.33h.01M71.42 275.23h.01M183.09 280.97h.01M218.27 293.54h.01M79.02 466.64h.01M59.03 467.33h.01M115.57 341.61h.01M116.5 321.71h.01M117.92 517.23h.01M171.15 424.44h.01M90.04 489.34h.01M167.69 378.77h.01M94.29 486.98h.01M183.83 422.81h.01M104.98 295.11h.01M104.89 293.62h.01M118.7 295.56h.01M106.42 422.11h.01M57.03 467.88h.01M42.31 466.83h.01M119.66 283.18h.01M167.35 361.03h.01M201.15 294.77h.01M112.64 279.26h.01M181.93 360.43h.01M101.96 339.65h.01M73.72 466.77h.01M179.07 466.78h.01M191.04 517.14h.01M177.62 417.27h.01M175.94 510.79h.01M190.87 465.37h.01M209.91 338.71h.01M186.44 400.35h.01M174.83 310.67h.01M189.34 460.88h.01M47.31 361.25h.01M189.98 343.46h.01M115.3 254.36h.01M183.35 363.9h.01M117.86 276.76h.01M180.3 345.1h.01M96.21 494.65h.01M123.79 344.05h.01M124.33 486.78h.01M175.82 254.39h.01M114.16 440.98h.01M180.38 404.68h.01M93.27 383.06h.01M60.69 465.13h.01M181.14 512.91h.01M173.59 470.61h.01M103.89 281.66h.01M122.76 382.24h.01M109.11 419.35h.01M119.03 340.6h.01M177.68 298.09h.01M114.07 513.34h.01M173.17 279.51h.01M166.45 256.51h.01M181.17 276.13h.01M171.55 469.76h.01M114.94 469.52h.01M62.97 460.96h.01M178.37 419.57h.01M168.77 490.37h.01M121.64 361.02h.01M176.27 493.21h.01M119 255.52h.01M57.06 467.53h.01M178.09 471.68h.01M85.41 406.45h.01M228.4 308.58h.01M103.16 296.67h.01M171.81 490.32h.01M122.22 362.11h.01M110.54 363.49h.01M173.78 488.73h.01M180.4 420.27h.01M194.72 491.19h.01M123.47 424.31h.01M235.91 378.97h.01M111.81 464.01h.01M190.08 401.68h.01M179.25 513.4h.01M108.06 342.28h.01M174.64 398.76h.01M120.33 340.9h.01M80.78 467.91h.01M168.66 251.94h.01M166.08 422.67h.01M105.03 510.83h.01M111.25 462.87h.01M122.01 341.33h.01M194.29 280.03h.01M180.59 278.52h.01M44.78 460.9h.01M112.25 284.23h.01M170.5 255.34h.01M112.24 295.91h.01M84.2 294.15h.01M124.89 339.45h.01M124.97 472.93h.01M77.87 466.92h.01M169.81 461.03h.01M169.19 466.2h.01M188.39 521.17h.01M113.86 254.75h.01M98.98 321.33h.01M183.52 339.13h.01M170.1 296.45h.01M195.95 403.9h.01M111.23 362.69h.01M181.37 469.09h.01M104.24 488.73h.01M124.17 489.78h.01M177.98 298.15h.01M108.7 325.18h.01M180.7 467.26h.01M189.47 266.06h.01M215.65 378.91h.01M52.71 468.44h.01M227.5 443.71h.01M117.39 406.47h.01M118.61 381.79h.01M116.92 324.63h.01M191.63 424.42h.01M82.02 464.78h.01M185.58 404.26h.01M174.4 339.05h.01M168.8 294.49h.01M181.94 268.78h.01M183.67 422.15h.01M122.48 466.14h.01M69.15 463.19h.01M113.36 266.42h.01M101.61 422h.01M39.31 469.29h.01M166.63 489.79h.01M185.98 283.59h.01M172.63 281.83h.01M124.42 367.08h.01M176.31 268.13h.01M121.54 326.28h.01M183.49 417.78h.01M166.34 293.69h.01M41.55 465.15h.01M211.64 399.08h.01M124.04 460.16h.01M186.01 491.95h.01M113.23 363.67h.01M229.3 341.49h.01M78.67 466.59h.01M112.44 421.05h.01M117.79 399.38h.01M114.88 417.79h.01M124.84 422.12h.01M116.32 310.47h.01M166.39 522.29h.01M53.5 463.39h.01M113.44 341.11h.01M117.6 338.1h.01M111.19 465.09h.01M169.69 379.82h.01M196.29 462.12h.01M166.01 342.29h.01M177.49 338.29h.01M108.89 322.36h.01M98.51 338.94h.01M169.53 441.34h.01M170.78 513.24h.01M94.93 340.73h.01M118.59 275.63h.01M166.42 265.14h.01M184.11 445.69h.01M196.12 298.18h.01M168.57 470.4h.01M119 467.03h.01M176.01 403.39h.01M118.23 491.64h.01M204.41 399.12h.01M170.5 360.89h.01M168.35 366.2h.01M178.69 399.46h.01M192.7 323.51h.01M177.21 494.38h.01M173.86 365.86h.01M172.75 363.85h.01M122.13 344.49h.01M184.57 514.71h.01M188.12 494.02h.01M168.63 422.48h.01M121.86 467.19h.01M99.16 253.89h.01M86.58 278.82h.01M189.34 280.72h.01M173.08 276.67h.01M120.63 275.6h.01M168.57 324.9h.01M171.48 347.11h.01M60.06 470.03h.01M170.46 403.61h.01M57.8 463.66h.01M182.41 277.89h.01M123.1 267.88h.01M124.47 511.9h.01M171.96 518.81h.01M100.21 443.65h.01M117.67 343.85h.01M169.31 296.12h.01M246.34 399.19h.01M83.93 401.4h.01M95.93 308.53h.01M167.66 514.05h.01M95.22 367h.01M199.73 520.12h.01M108.71 252.44h.01M113.92 399.84h.01M124.47 491.68h.01M123.71 399.65h.01M118.89 441.3h.01M111.65 339.02h.01M179.62 281.86h.01M168.28 488.87h.01M179.51 513.23h.01M166.24 445.69h.01M177.46 361.41h.01M179.22 424.57h.01M177.83 281.94h.01M168.35 296.62h.01M177.25 511.26h.01M116.44 325.29h.01M168.49 406.04h.01M111.05 324.31h.01M89.12 462.75h.01M174.95 344.65h.01M171.74 405.29h.01M99.34 364.61h.01M170.64 275.73h.01M174.9 462.87h.01M121.27 280.57h.01M124.8 441.38h.01M167.92 491.73h.01M120.58 420.75h.01M174.81 519.55h.01M116.68 491.96h.01M181.41 295.23h.01M181.53 420.01h.01M109.42 340.52h.01M116.76 294.82h.01M175.68 366.04h.01M114.54 254.22h.01M172 460.07h.01M56.55 470.37h.01M106.43 399.3h.01M167.02 347.3h.01M227.19 321.92h.01M112.01 381.37h.01M119.62 325.94h.01M86.04 417.84h.01M167.59 320.78h.01M179.19 266.8h.01M170.45 326.35h.01M170.82 443.04h.01M194.01 464.46h.01M119.58 251.89h.01M85.66 511.22h.01M91.6 470.96h.01M98.31 439.73h.01M119.81 252.39h.01M172.72 297.64h.01M166.46 323.36h.01M119.42 407.45h.01M173.39 401.73h.01M99.16 466.78h.01M93.04 421.9h.01M115.47 268h.01M112.23 311.09h.01M169.69 324.69h.01M187.73 462.22h.01M181.45 326.77h.01M173.8 283.06h.01M185.78 466.44h.01M173.9 520.93h.01M122.33 361.24h.01M173.65 293.15h.01M167.92 460.53h.01M113.76 462.72h.01M183.3 444.15h.01M171.94 439.55h.01M166.42 379.18h.01M50.22 464.84h.01M194.48 488.55h.01M168.55 421.02h.01M44.23 468.3h.01M107.06 446.72h.01M167.98 513.57h.01M196.04 518.01h.01M114.99 322.13h.01M174.54 443.83h.01M116.59 293.47h.01M62.31 460.6h.01M175.96 517.78h.01M192.58 339.86h.01M166.54 265.98h.01M105.15 472.07h.01M167.31 278.63h.01M167.89 281.86h.01M175.68 347.6h.01M172.77 382.02h.01M203.82 512.19h.01M107.29 489.77h.01M178.37 360.8h.01M184.63 399.11h.01M193.09 322.43h.01M167.53 447.34h.01M108.97 515.17h.01M168.5 284.54h.01M172.71 378.74h.01M108.24 440.92h.01M100.52 382.32h.01M124.02 515.92h.01M194.77 382.13h.01M180.45 275.16h.01M176.59 378.32h.01M171.47 268.73h.01M120.89 492.07h.01M123.45 251.89h.01M117.53 446.08h.01M167.35 293.66h.01M175.53 253.3h.01M205.68 383.52h.01M119.53 403.19h.01M119.98 444.45h.01M185.06 341.29h.01M188.72 327.21h.01M201.91 406.32h.01M202.31 254.98h.01M184.56 280.34h.01M91.47 419.03h.01M184.86 340.45h.01M119.35 511.14h.01M102.02 521.72h.01M111.34 443.81h.01M196.26 269.1h.01M117.82 470.13h.01M122.71 324.51h.01M172.31 520.18h.01M105.7 362.8h.01M124.89 401.6h.01M178.69 444.15h.01M122.84 491.72h.01M123.55 284.66h.01M169.41 268.32h.01M171.01 284.14h.01M110.69 403.37h.01M225.62 420.19h.01M170.4 276.22h.01M113.62 446.8h.01M167.57 471.74h.01M191.68 342.89h.01M101.05 266.37h.01M186.75 380.17h.01M122.34 403.96h.01M122.59 468.61h.01M118.31 309.47h.01M170.09 487.97h.01M166.79 342.63h.01M110.11 422.17h.01M105.88 465.68h.01M55.59 465.21h.01M114.16 266.74h.01M107.3 297.21h.01M108.52 405.42h.01M104.06 467.69h.01M124.27 383.38h.01M119.95 255.53h.01M56.42 467.01h.01M124.55 443.51h.01M175.52 364.78h.01M171.59 461.6h.01M120 513.62h.01M184.42 520.7h.01M111.32 461.75h.01M192.46 255.02h.01M115.94 309.4h.01M168.27 492.8h.01M120.02 441.49h.01M166.66 378.46h.01M100.86 344.38h.01M59.81 464.72h.01M211.87 517.05h.01M82.03 254.25h.01M90.96 380.83h.01M121.16 442.26h.01M170.19 283.08h.01M115.17 383.03h.01M170.38 422.21h.01M54.34 466.94h.01M185.79 297.62h.01M116.62 516.54h.01M110.62 439.51h.01M110.47 469.14h.01M115.47 471.64h.01M173.19 281.84h.01M124.11 461.6h.01M193.07 309.12h.01M118.53 513.31h.01M103.92 278.19h.01M166.25 308.98h.01M171.34 361.02h.01M114.69 379.34h.01M114.13 440.54h.01M110.89 471.7h.01M99.34 467.31h.01M116.21 446.09h.01M107.02 401.96h.01M110.13 510.67h.01M124.33 345.15h.01M173.54 364.91h.01M169.01 284.13h.01M176.97 280.46h.01M77.24 402.6h.01M197.51 511.14h.01M188.78 494.59h.01M170.69 338.59h.01M98.16 361.91h.01M116.42 471.37h.01M170.45 309.49h.01M210.54 419.54h.01M169.16 285.1h.01M117.56 423.83h.01M110.19 404.71h.01M173.18 470.72h.01M188.73 445.97h.01M119.17 495.05h.01M169.81 407.36h.01M172.56 422.26h.01M200.21 277.51h.01M120.68 324.45h.01M120.55 445.22h.01M167.75 340.99h.01M206.57 294.87h.01M111.26 297.63h.01M189.01 439.44h.01M67.4 465.11h.01M102.61 343.1h.01M201.02 399.3h.01M204.97 254.87h.01M184.21 278.75h.01M171.55 492.38h.01M105.56 280.35h.01M44.69 469.1h.01M170.3 282.86h.01M110.11 294.11h.01M188.63 382.86h.01M217.69 323.8h.01M111.76 277.6h.01M108.45 487.59h.01M187 282.09h.01M123.7 341.96h.01M168.74 324.93h.01M191.38 283.31h.01M100.05 492.74h.01M123.39 494.28h.01M174.85 361.4h.01M172.29 282.15h.01M212.81 343.81h.01M124.48 267.95h.01M179.56 405.81h.01M88.21 439.93h.01M116.03 403.27h.01M101.99 516h.01M198.27 406.87h.01M94.3 461.87h.01M175.3 380.29h.01M67.03 320.61h.01M122.69 493.71h.01M167.06 253.48h.01M124.01 344.81h.01M101.21 400.29h.01M176.31 418.1h.01M122.34 424.07h.01M195.62 461.96h.01M103.38 254.53h.01M186.14 325.95h.01M102.96 255.44h.01M166.33 342.54h.01M168.2 297.53h.01M168.47 339.72h.01M167.75 518.1h.01M168.26 469.33h.01M176.74 520.21h.01M169.7 296.6h.01M102.53 512.23h.01M119.74 513.52h.01M122.27 364.46h.01M123.95 466.89h.01M166.87 404.35h.01M215.84 421.24h.01M178.55 266.87h.01M193.26 494.6h.01M111.49 360.83h.01M186.05 266.1h.01M115.44 342.94h.01M198.72 276.64h.01M68.85 467.66h.01M170.24 362.38h.01M195.52 491.24h.01M166.35 407.23h.01M115.19 403.41h.01M175.75 255.32h.01M120.24 521.89h.01M176.33 490.87h.01M123.83 442.79h.01M101.13 493.3h.01M123.91 466.73h.01M172.09 486.85h.01M97.51 447.6h.01M110.47 472.41h.01M113.6 322.93h.01M77.62 463.17h.01M194.39 464.56h.01M115.23 460.36h.01M169.43 279.28h.01M121.4 398.42h.01M121.55 380.52h.01M173.08 422.03h.01M96.52 517.79h.01M114.15 518.95h.01M120.16 462.37h.01M108.77 465.35h.01M85.46 467.29h.01M108.56 424.25h.01M93.54 460.49h.01M124.67 489h.01M204.5 323.2h.01M194.14 309.54h.01M187.21 341.01h.01M177.82 277.66h.01M173.52 447.53h.01M91.87 511.45h.01M90.67 463.11h.01M169.65 490.17h.01M123.68 519.55h.01M175.87 343.2h.01M183.87 467.4h.01M32.85 468.89h.01M75.99 465.95h.01M193.68 398.98h.01M124.36 472.71h.01M118.05 512.88h.01M235.76 401.85h.01M122.08 361.91h.01M167.25 283.99h.01M124.1 254.28h.01M72.04 466.62h.01M176.65 465.16h.01M199.35 294.66h.01M124.74 298.4h.01M115.4 445.65h.01M45.13 461.52h.01M173.21 399.8h.01M198.14 520.61h.01M63.98 470.12h.01M167.45 279.04h.01M179.82 360.65h.01M176.48 294.75h.01M121.35 468.79h.01M105.85 298.28h.01M167.69 399.34h.01M89.26 275.56h.01M167.73 491.45h.01M176.43 419.83h.01M121.77 265.96h.01M195.64 424.57h.01M166.83 284.31h.01M175.96 346.99h.01M167.01 494.26h.01M228.32 444.23h.01M166.71 521.14h.01M68.3 466.78h.01M110.7 284.58h.01M105.39 442.48h.01M120.99 275.22h.01M78.24 405.02h.01M189.42 417.98h.01M168.58 337.88h.01M123.46 298.65h.01M193.32 441.71h.01M171.22 344.54h.01M123.27 519.11h.01M121.97 400.89h.01M119.72 487.5h.01M107.89 424.14h.01M120.77 487.8h.01M115.73 268.75h.01M39.96 462.14h.01M121.6 279.66h.01M37.22 465.72h.01M39.65 466.46h.01M104.33 513.13h.01M175.56 398.86h.01M177.88 311.17h.01M166.58 401.86h.01M173.83 382.29h.01M172.47 344.25h.01M82.7 517.51h.01M104.19 381.77h.01M111.2 337.73h.01M178.36 365.44h.01M107.9 520.42h.01M197.64 282.14h.01M59.52 462.49h.01M193.71 253.74h.01M198.42 361.13h.01M121.39 461.47h.01M119.63 345.48h.01M91.22 324.25h.01M178.23 404.76h.01M121 400.39h.01M89.85 365.19h.01M90.55 401.39h.01M114.49 310.12h.01M173.49 295.05h.01" stroke="#303030" stroke-width="1.7" stroke-linecap="round" fill="none"/>
<path d="M179.32 427.91h.01M120.04 477.56h.01M113.79 315.62h.01M121.91 433.63h.01M106.64 455.63h.01M106.24 498.54h.01M114.51 432.03h.01M112.91 261.2h.01M168.2 372.43h.01M175.58 350.33h.01M190.72 451.89h.01M112.08 335.81h.01M112.15 477.81h.01M105.03 479.97h.01M171.16 449.56h.01M108.9 394.79h.01M178.23 354.95h.01M121.12 410.99h.01M183.7 315.3h.01M115.82 318.02h.01M182.44 506.32h.01M113.53 386.23h.01M111.02 413.82h.01M166.44 430.52h.01M123.72 432.23h.01M166.71 415.64h.01M175.17 315.6h.01M93.92 453.24h.01M180.2 505.96h.01M185.58 371.88h.01M123.3 332.61h.01M88.5 412.77h.01M177.95 425.49h.01M174.22 431.38h.01M121.3 501.83h.01M111.37 358.57h.01M234.96 331.17h.01M123.29 300.41h.01M102.36 501.54h.01M93.1 497.2h.01M115.61 288.43h.01M167.59 476.3h.01M169.93 498.95h.01M113.39 262.25h.01M171.81 259.92h.01M179.92 477.61h.01M194.06 260.62h.01M85 359.37h.01M123.46 509.13h.01M177.41 311.98h.01M170.99 433.71h.01M181.99 500.03h.01M115.02 395.42h.01M124.24 385.99h.01M169.39 393.58h.01M197.42 498.04h.01M204.82 300.53h.01M178.84 486.13h.01M124.85 409.27h.01M197.23 261.46h.01M169.11 475.37h.01M96.42 285.6h.01M169.49 411.92h.01M166.58 316.28h.01M171.14 369.11h.01M172.85 315.2h.01M172.72 496.59h.01M198.51 503.02h.01M123.44 505.48h.01M185.15 313.32h.01M122.05 330.68h.01M106.16 499.34h.01M180.97 475.46h.01M106.79 427.46h.01M204.53 272.17h.01M101.9 328.93h.01M123.63 476.72h.01M200.55 369.47h.01M119.5 499.69h.01M169.14 387.79h.01M168.96 437.7h.01M119.51 502.73h.01M104.65 316.35h.01M174.99 375.38h.01M171.82 433.96h.01M96.48 452.21h.01M166.05 408.2h.01M169.75 412.05h.01M189.96 478.05h.01M173.1 426.22h.01M167.54 274.67h.01M115.77 300.91h.01M118.94 272.54h.01M168.87 433.13h.01M191.8 477.05h.01M123.15 455.92h.01M166.27 272.3h.01M168.59 506.64h.01M207.12 486h.01M97.68 374.38h.01M107.46 330.11h.01M168.63 317.92h.01M121.3 389.33h.01M170.19 389.67h.01M118.56 437.59h.01M170.16 499.68h.01M117.19 312.79h.01M174.99 291.72h.01M121.59 306.34h.01M123.05 413h.01M110.78 305.47h.01M114.94 484.98h.01M213.7 389.63h.01M113.31 432.91h.01M183.54 315.1h.01M108.98 412.9h.01M183.62 307.2h.01M186.26 386.13h.01M117.98 391.43h.01M180.21 456.3h.01M168.26 394.7h.01M173.54 449.58h.01M121.66 291.38h.01M182.58 457.8h.01M192.73 302.87h.01M122.44 474.79h.01M169.17 499.21h.01M176.69 481.06h.01M111.63 312.75h.01M113.65 394.96h.01M112.43 319.78h.01M124.58 301.04h.01M166.63 477.75h.01M170.35 352.02h.01M171.2 496.93h.01M180.84 263.8h.01M107.83 396.28h.01M171.76 388.75h.01M118.35 474.69h.01M110.52 356.96h.01M181.26 482.56h.01M201.32 315.02h.01M119.29 272.43h.01M167.43 414.53h.01M110.76 374.16h.01M114.83 386.64h.01M168.19 482.82h.01M168.56 482.38h.01M174.96 427.73h.01M184.18 474.68h.01M195.3 450.63h.01M109.21 328.1h.01M108.21 501.35h.01M107.33 498.51h.01M119.34 508.12h.01M123.06 371.93h.01M121.2 316.9h.01M120.87 435.26h.01M180.2 314.81h.01M106.16 475.57h.01M110.22 426.71h.01M190.45 367.97h.01M181.44 482.19h.01M105.35 478.2h.01M181.27 390.21h.01M96.55 474.6h.01M166.63 332.2h.01M206.82 416.19h.01M168.52 358.61h.01M170.08 285.68h.01M105.14 303.32h.01M113.57 368.28h.01M169.66 302.95h.01M107.05 426.14h.01M120.58 336.62h.01M114.74 509.24h.01M166.63 449.99h.01M172.1 436.12h.01M176.95 287.19h.01M121.48 352.09h.01M118.87 434.3h.01M174.02 504.37h.01M170.65 393.01h.01M103.89 496.16h.01M171.79 352.53h.01M112.15 315.47h.01M114.08 300.37h.01M166.94 390.25h.01M121.37 371.93h.01M123.66 425.98h.01M173.83 458.83h.01M245.77 412.61h.01M123.47 386.06h.01M171.53 301.33h.01M184.71 436.35h.01M118.11 413.53h.01M112.73 336.34h.01M167.97 316.2h.01M115.37 388.66h.01M178.88 374.2h.01M95.98 426.53h.01M206.86 371.08h.01M110.45 394.43h.01M193.13 357.1h.01M171.89 414.78h.01M167.42 358.74h.01M110.6 426.56h.01M180.22 503.13h.01M118.15 450.52h.01M110.41 272.33h.01M110.54 409.01h.01M96.32 509.59h.01M167.6 258.57h.01M122.67 483.03h.01M122.34 367.93h.01M26.71 287.7h.01M188.43 508.82h.01M179.2 433.11h.01M182.21 428.06h.01M191.37 501.53h.01M104.46 503.4h.01M181.78 358.89h.01M176.42 392.78h.01M102.03 481.06h.01M173.75 435.65h.01M115.7 391.1h.01M117.03 374.85h.01M166.45 453.13h.01M103.66 474.04h.01M113.64 427.39h.01M185.44 306.22h.01M166.82 354.67h.01M100.48 431.19h.01M175.25 455.33h.01M230.5 331.59h.01M123.08 395.07h.01M169.1 386.6h.01M169.57 390.72h.01M115.11 393.5h.01M121.79 336.17h.01M183.32 393.13h.01M98.97 387.3h.01M182.58 304.27h.01M112.14 475.94h.01M180.33 370.21h.01M180.86 334.14h.01M124.83 416.4h.01M115.24 305.26h.01M124.01 274.19h.01M190.82 453.04h.01M188.32 350.5h.01M115.79 288.79h.01M121.13 314.18h.01M188.13 373.61h.01M191.93 330.46h.01M118.56 505.31h.01M112.81 359.39h.01M117.65 435.66h.01M114.11 359.17h.01M186.85 359.3h.01M114.5 429.69h.01M118.84 501.16h.01M111.33 288.18h.01M176.92 351.87h.01M107.09 387.48h.01M169.96 349.88h.01M105.5 331.41h.01M105.78 451.44h.01M166.09 318.06h.01M167.47 306.94h.01M121.08 370.08h.01M176.06 354.2h.01M181.99 475.66h.01M117.89 389.65h.01M219.02 331.76h.01M108.09 453.43h.01M106.28 438h.01M96.87 303.25h.01M117.45 291.87h.01M116.28 271.79h.01M124.01 301.32h.01M181.24 503.76h.01M97.25 273.09h.01M124.87 303.97h.01M117.61 506.97h.01M166.62 350.62h.01M103.89 497.03h.01M172.79 369.57h.01M178.08 431.22h.01M101.26 437.17h.01M108.79 354.92h.01M181.33 431.3h.01M117.55 390.89h.01M170.68 359.52h.01M117.36 261.25h.01M122.7 286.72h.01M124.4 335.65h.01M107.73 306.68h.01M108.42 292.31h.01M107.1 457.24h.01M167.87 377.26h.01M99.42 333.29h.01M119.16 337.23h.01M124.3 386.26h.01M120.01 306.38h.01M105.12 317.03h.01M193.32 431.96h.01M117.04 483.93h.01M167.76 312.94h.01M166.67 356.28h.01M187.84 436.17h.01M123.3 372.21h.01M116.49 473.61h.01M187.2 285.79h.01M174.34 386.76h.01M114.67 330.61h.01M166.48 262.98h.01M96.61 262.12h.01M115.43 319.93h.01M172.42 329.82h.01M101.09 475.19h.01M175.67 449.01h.01M170.28 395.93h.01M171.01 333.34h.01M124.4 450.19h.01M123.45 273.8h.01M247.37 475.47h.01M111.41 373.6h.01M188.96 498.72h.01M123.82 435.64h.01M190.74 303.61h.01M123.52 302.94h.01M123.58 453.59h.01M103.32 271.33h.01M119.66 425.88h.01M111.61 425.08h.01M189.77 503.5h.01M222.22 473.86h.01M201.35 393.8h.01M119.47 272.42h.01M189.21 384.61h.01M166.61 505.49h.01M180.41 485.1h.01M176.99 375.9h.01M124.49 356.16h.01M177.4 410.26h.01M166.43 426.13h.01M185.84 359.15h.01M168.49 452.51h.01M118.05 433.67h.01M122.12 317.03h.01M121.12 392.01h.01M117.56 499.58h.01M167.84 455.71h.01M113.69 316.37h.01M105.32 262.17h.01M99 485.42h.01M123.41 483.74h.01M112 388.75h.01M180.02 413.14h.01M124.99 305.67h.01M105.26 434.82h.01M109.49 301.43h.01M192.82 316.69h.01M112.64 507.65h.01M122.34 390.81h.01M169.82 475.04h.01M122.03 355.67h.01M166.21 484.14h.01M192.66 261.38h.01M114.22 413.7h.01M110.21 394.56h.01M168.22 334.64h.01M119.37 257.38h.01M166.94 456.58h.01M101.95 450.16h.01M173.11 434.14h.01M111.63 499.38h.01M109.55 316.94h.01M107.9 408.75h.01M111.52 316.58h.01M119.6 306.55h.01M168.26 500.83h.01M120.46 350.94h.01M171.86 390h.01M120.79 508.81h.01M172.65 358.15h.01M118.89 478.45h.01M102.97 477.81h.01M117.71 369.61h.01M179.28 291.63h.01M118.16 480.15h.01M205.29 274h.01M109.43 289.79h.01M124.96 291.85h.01M121.99 351.74h.01M169.03 453.11h.01M182.67 396.94h.01M93.23 348.22h.01M123.32 313.32h.01M171.34 396.58h.01M177.59 370.41h.01M103.14 431.76h.01M113.34 449.5h.01M116.03 434.25h.01M188.65 450.55h.01M115.44 434.01h.01M116.09 312h.01M122.15 263.62h.01M118.12 292.06h.01M166.96 371.04h.01M94.04 286.58h.01M109.04 456.35h.01M195.94 376.04h.01M172.82 376.56h.01M174.48 336.41h.01M190.6 273.5h.01M86.41 292.19h.01M118.75 260.03h.01M124.54 290.29h.01M175.15 373.38h.01M104.65 500.78h.01M172.1 389.94h.01M123.19 261.79h.01M177.57 457.5h.01M123.11 477.33h.01M189.72 475.17h.01M167.95 370.09h.01M167.34 503.23h.01M184.44 259.02h.01M106.17 372.69h.01M101.82 348.74h.01M115.97 451.61h.01M116.2 452.9h.01M120.66 431.89h.01M114.56 260.64h.01M170.14 305.52h.01M176.15 291.42h.01M176.65 311.93h.01M204.66 352.81h.01M182.95 455h.01M124.74 334.23h.01M96.24 374.47h.01M185.55 353.83h.01M115.41 449.43h.01M117.85 367.96h.01M121.1 263.83h.01M166.15 496.44h.01M116.25 497.25h.01M123.1 455.84h.01M112.03 261.4h.01M167.23 333.26h.01M166.38 335.49h.01M104.03 396.5h.01M119.03 261.02h.01M176.57 319.52h.01M121.18 412.07h.01M185.38 502.27h.01M184.14 306.38h.01M95.58 263.27h.01M120.53 353.63h.01M181.02 270.79h.01M167.36 437.49h.01M124.89 496.4h.01M119.33 509.84h.01M214.36 436.94h.01M112.53 313.34h.01M176.74 433.13h.01M121.07 357.52h.01M231.33 451.6h.01M166.91 348.65h.01M117.81 274.01h.01M185.49 329.42h.01M123.21 375.66h.01M166.76 374.77h.01M123.15 290.98h.01M106.05 386.37h.01M97.3 292.15h.01M107.11 270.97h.01M169.23 394.83h.01M168.47 414.87h.01M112.02 354.06h.01M171.6 428.45h.01M175.95 390.3h.01M118.18 358.23h.01M104.62 348.04h.01M114.07 272.82h.01M94.32 484.17h.01M177.73 333.32h.01M173.92 473.43h.01M169.48 315.23h.01M123.72 495.96h.01M174.55 477.12h.01M186.38 500.4h.01M107.55 456.09h.01M117.22 484.79h.01M171.94 449.88h.01M179.62 354.74h.01M177.68 329.8h.01M179.51 350.33h.01M171.21 385.65h.01M180.53 352.62h.01M113.24 385.23h.01M169.63 425.42h.01M124.89 501.19h.01M173.09 390.49h.01M171.12 305.98h.01M120.53 355.27h.01M93.86 393.69h.01M197.64 349.79h.01M178.66 451.45h.01M170.56 425.23h.01M166.67 430.43h.01M119.37 332.94h.01M121.76 497.25h.01M107.88 271.05h.01M80.02 393.56h.01M169.98 274.52h.01M221.89 504.13h.01M167.48 452.59h.01M183.85 507.54h.01M104.95 335.62h.01M168.7 290.29h.01M171.5 263.18h.01M119.87 368.61h.01M170.29 371.28h.01M167.77 313.53h.01M123.24 357.2h.01M178.46 302.72h.01M186.04 448.82h.01M167.87 486.14h.01M124.22 377.51h.01M123.82 331.62h.01M118.62 409.69h.01M169.06 329.84h.01M168.22 496.35h.01M117.92 305.64h.01M185.46 506.14h.01M177.31 289.42h.01M183.3 328.11h.01M195.12 479.29h.01M122.16 351.91h.01M109.79 372.33h.01M170.62 290.51h.01M122.85 263.11h.01M111.13 350.35h.01M124.89 449.46h.01M166.25 260.78h.01M122.93 290.78h.01M175.85 484.26h.01M121.92 409.6h.01M177.03 482.12h.01M118.57 370.88h.01M168.8 302.64h.01M124.32 375.82h.01M171.95 371.95h.01M176.82 371.62h.01M171.63 357.16h.01M121.64 287.63h.01M119.68 480.53h.01M168.32 414.03h.01M113.43 286.04h.01M168.24 390.26h.01M83.32 305.03h.01M114.65 336.27h.01M176.69 389.92h.01M167.51 451.62h.01M112.2 289.21h.01M95.04 354.44h.01M120.52 414.57h.01M198.75 435.49h.01M169.19 410.41h.01M88.87 508.88h.01M119.91 479.78h.01M107.5 480.26h.01M179.87 262.89h.01M116.59 484.1h.01M169.8 428.06h.01M201.42 429.17h.01M122.66 312.59h.01M178.75 425.09h.01M181.3 434.93h.01M167.5 410.14h.01M101.97 314h.01M114.4 330.92h.01M118.3 385.61h.01M175.09 432.24h.01M110.88 506.87h.01M117.47 408.95h.01M106.66 287.92h.01M172.6 474.2h.01M166.47 498.75h.01M178.36 300.36h.01M175.52 433.55h.01M167.4 479.95h.01M116.83 504.85h.01M104.19 285.95h.01M123.01 505.1h.01M175.51 287.32h.01M111.72 395.03h.01M169.42 306.84h.01M167.25 427.77h.01M167.04 288.83h.01M107.25 449.02h.01M181.43 415.17h.01M122.61 350.06h.01M115.25 484.13h.01M186.67 476.95h.01M124.52 373.7h.01M115.39 483.43h.01M117.33 357.71h.01M167.86 376.76h.01M170.1 499.94h.01M178.1 408.11h.01M175.86 497.91h.01M107.51 478.1h.01M114.97 312.33h.01M170.96 271.38h.01M170.15 370.01h.01M89.05 305.97h.01M173.23 270.73h.01M122.89 389.85h.01M171.28 411.23h.01M207.94 261.87h.01M118.63 412.82h.01M179.45 329.04h.01M175.66 301.42h.01M166.54 328.38h.01M108.92 375.62h.01M188.47 426.02h.01M104.6 270.55h.01M175.09 482.75h.01M168.77 371.2h.01M115.79 259.48h.01M174.25 507.49h.01M121.04 438.14h.01M120.65 375.15h.01M124.53 431.32h.01M198.88 316.85h.01M177.61 411.15h.01M208.76 497.33h.01M111.64 354.02h.01M117.79 292.35h.01M117.17 508.54h.01M169.46 474.71h.01M115.91 384.61h.01M98.83 261.05h.01M168.39 330.62h.01M168.97 482.97h.01M104.19 300.6h.01M110.43 291.09h.01M111.33 271.81h.01M116.03 306.48h.01M121.79 332.6h.01M111.78 506h.01M178.7 335.66h.01M171.85 372.13h.01M88.66 476.7h.01M181.52 315.54h.01M113.36 496.61h.01M107.52 262.06h.01M171.25 356.9h.01M121.1 455.3h.01M90.59 435.93h.01M212.27 427.43h.01M193.46 335.97h.01M177.62 429.95h.01M124.15 261.05h.01M115.97 452.28h.01M204.5 503.71h.01M181.69 482.95h.01M114.96 500.85h.01M106.84 484.58h.01M175.31 436.94h.01M170.83 258.76h.01M115.82 357.5h.01M124.9 475.11h.01M124.44 431.07h.01M202.54 291.32h.01M123.55 391.67h.01M122.36 428.65h.01M105.54 450.47h.01M102.15 414.3h.01M167.58 271h.01M176.87 273.66h.01M180.43 272.96h.01M207.41 497.54h.01M121.1 453.28h.01M168.3 303.7h.01M243.46 261h.01M113.71 456.04h.01M122.24 506.29h.01M172.26 357.83h.01M114.56 499.03h.01M186.73 433.85h.01M176.91 433.02h.01M168.71 355.37h.01M169.93 508.19h.01M118.37 271.59h.01M112.01 454.93h.01M172.22 306.01h.01M123.34 449.22h.01M169.5 426.49h.01M171.04 317.41h.01M175.53 501.46h.01M123.49 496.65h.01M166.16 286.87h.01M122.91 273.54h.01M104.75 506.57h.01M181.77 498.07h.01M121.11 273.8h.01M166.88 291.6h.01M190.91 259.88h.01M173.07 302.48h.01M172.98 357.94h.01M173.48 436.33h.01M117.92 449.29h.01M124.97 262.46h.01M86.1 483.44h.01M124.1 334.78h.01M107.16 480.25h.01M122.07 431.62h.01M179.6 387h.01M118.68 334.87h.01M105.17 502.07h.01M170.6 432.29h.01M119.79 334.75h.01M186.39 503.74h.01M216.39 414.56h.01M174.03 497.18h.01M181.13 356.76h.01M182.47 409.71h.01M104.79 477.22h.01M196.48 475.62h.01M175.5 331.4h.01M183.74 506.66h.01M166.62 272.2h.01M122.95 395.45h.01M166.84 477.56h.01M113.9 289.33h.01M106.3 505.86h.01M121.33 262.24h.01M179.65 286.53h.01M124.67 415.59h.01M171.47 370.93h.01M118.7 375.01h.01M176.3 356.48h.01M167.5 292.39h.01M192.53 455.06h.01M123.78 411.29h.01M169.34 507.57h.01M113.03 257.34h.01M120.65 331.63h.01M85.35 307.04h.01M218.89 396.34h.01M120.86 261.71h.01M119.26 317.62h.01M170.69 318.96h.01M176.88 358.47h.01M119.4 393.34h.01M167.3 257.74h.01M205.79 435.25h.01M168.11 413.6h.01M121.36 426.02h.01M175.78 291.69h.01M95.9 272.41h.01M114.3 290.79h.01M104.63 396.17h.01M109.03 478.43h.01M180.03 415.04h.01M120.01 305.3h.01M186.85 370.74h.01M109.4 506.4h.01M123.36 505.02h.01M121.68 337.13h.01M169.9 483.7h.01M183.68 504.61h.01M122.55 332.15h.01M119.25 385.71h.01M122.91 392.72h.01M188.05 306.41h.01M189.48 288.16h.01M173.37 415.56h.01M175.56 393.33h.01M119.77 386.8h.01M117.53 506.41h.01M168.72 481.47h.01M180.46 503.64h.01M234.07 258.65h.01M115.01 376.4h.01M191.38 300.18h.01M188.97 427.72h.01M166.93 428.96h.01M115.46 258.5h.01M119.33 433.74h.01M118.77 426h.01M104.07 480.56h.01M115.36 350.73h.01M169.91 411.66h.01M115.22 391.03h.01M173.47 286.25h.01M182.97 271.96h.01M69.47 432.03h.01M197.07 478.02h.01M91.22 397.16h.01M120.4 258.96h.01M172.13 332.8h.01M122.17 388.1h.01M122.2 386.3h.01M178.75 476.91h.01M123.25 448.36h.01M120.77 429.03h.01M106.8 393.82h.01M171.98 304.31h.01M114.61 317.94h.01M112.94 370.67h.01M183.84 290.6h.01M116.39 315.4h.01M167.96 387.23h.01M122.21 497.97h.01M175.33 386.44h.01M168.48 336.65h.01M110.63 497.2h.01M111.14 386.38h.01M113.28 264.27h.01M178.09 479.07h.01M119.49 353.64h.01M122.66 286.05h.01M121.88 425.92h.01M122.63 328.72h.01M123.39 507.04h.01M201.15 304.6h.01M119.08 415.23h.01M178.8 369.81h.01M111.54 300.29h.01M101.61 436.36h.01M110.01 386.66h.01M178.78 287.1h.01M105.32 355.77h.01M169.55 456.02h.01M199.66 260.26h.01M123.94 507.02h.01M101.82 263.75h.01M115.14 357.41h.01M108.94 416.1h.01M187.64 258.8h.01M122.83 359.28h.01M122.65 370.89h.01M230.05 437.6h.01M166.47 288.93h.01M176.07 474.85h.01M108.46 452.15h.01M170.96 263.63h.01M195.13 429.29h.01M124.67 384.75h.01M171.92 335.27h.01M209.65 300.26h.01M110.96 319.53h.01M118.51 486.05h.01M190.35 509.35h.01M181.48 434.89h.01M175.32 317.31h.01M121.35 372.96h.01M122.1 314.3h.01M111.74 300.35h.01M120.78 496.37h.01M172.91 336.67h.01M104.74 384.9h.01M173.52 335.62h.01M176.53 455.72h.01M169.15 387.52h.01M167.68 482.47h.01M192.38 478.08h.01M177.57 352.91h.01M111 353.19h.01M120.65 456.93h.01M184.6 412.61h.01M192.98 329.34h.01M95.28 506.04h.01M180.09 476.12h.01M184.99 392.88h.01M166.85 306.97h.01M172.63 482.89h.01M185.87 504.48h.01M170.04 300.59h.01M181.61 335.31h.01M167.45 477.77h.01M193.7 331.21h.01M111.24 336.66h.01M170.25 374.3h.01M168.02 348.73h.01M167.78 473.76h.01M94.7 317.5h.01M221.09 349.55h.01M115.56 269.93h.01M94.2 500.36h.01M178.34 258.52h.01M124.67 483.05h.01M114.63 502.51h.01M119.63 478.21h.01M172.06 353.69h.01M188.01 496.48h.01M123.78 285.92h.01M174.7 497.27h.01M124.86 260.92h.01M123.38 376.8h.01M99.76 509.78h.01M166.43 331.26h.01M100.74 415.63h.01M170.2 352.66h.01M184.64 388.07h.01M167.34 436.99h.01M122.02 506.09h.01M172.5 304.78h.01M183.48 331.74h.01M118.14 502.85h.01M174.31 352.84h.01M169.44 319.94h.01M174.62 409.3h.01M168.11 385.97h.01M118.14 502.83h.01M171.41 291.22h.01M82.31 354.75h.01M113.76 335.24h.01M181.41 450.24h.01M123.17 508.11h.01M182.71 272.63h.01M194.87 456.63h.01M102.38 287.73h.01M121.5 306.16h.01M121.74 428.53h.01M177.88 508.45h.01M180.7 430.36h.01M120.28 376.83h.01M181.99 329.84h.01M114.35 411.43h.01M178.94 373.36h.01M190.77 330.93h.01M121.69 412.07h.01M110.92 374.08h.01M180.31 499.26h.01M121.65 452.49h.01M179.66 387.06h.01M192.05 374.91h.01M201.79 500.19h.01M123.9 391.28h.01M110.13 317.64h.01M196.76 291.99h.01M115.46 476.43h.01M111.41 474.53h.01M108.9 336.32h.01M171.4 482.01h.01M122.35 259.72h.01M168.55 429.3h.01M114.74 484.06h.01M173.68 455.56h.01M107.75 430.59h.01M168.87 307.13h.01M116.06 370.15h.01M122.48 451.51h.01M123.05 263.86h.01M118.42 509.54h.01M109.57 506.51h.01M90.21 451.89h.01M193.34 503.38h.01M120.13 317.8h.01M100.55 386.64h.01M51.6 349.35h.01M99.43 349.73h.01M166.12 349.13h.01M120.29 313.17h.01M103.54 452.89h.01M168.12 436.49h.01M110.17 350.17h.01M174.22 350.96h.01M121.83 334.78h.01M109.57 351.78h.01M121.19 477.36h.01M198.19 498.41h.01M120.88 287.35h.01M203.59 505.35h.01M117.71 448.79h.01M120.41 457.83h.01M177.3 477.86h.01M172.22 291.76h.01M168.65 509.89h.01M100.75 317h.01M181.28 369h.01M120.05 478.42h.01M213.01 506.82h.01M116.13 370.99h.01M172.01 431.13h.01M174.66 431.51h.01M115.9 408.49h.01M123.79 358.21h.01M166.48 504.23h.01M103.15 306.58h.01M166.21 384.66h.01M119.17 356.28h.01M168.61 287.85h.01M193.22 372.14h.01M174.77 305.79h.01M180 272.01h.01M110.6 485.98h.01M166.12 369.73h.01M171.66 287.83h.01M172.05 259.43h.01M107.53 386.57h.01M178 391.86h.01M115.94 483.97h.01M112.08 426.41h.01M106.48 475.31h.01M122.72 313.81h.01M119.27 437.82h.01M121.29 334.73h.01M124.7 482.41h.01M171.01 384.93h.01M170.8 270.8h.01M176.29 451.18h.01M170.94 376.77h.01M114.76 285.73h.01M168.95 485.18h.01M173.31 350.91h.01M123.71 396.01h.01M118.61 329.58h.01M120.92 352.88h.01M109.18 395.85h.01M113.01 501.79h.01M119.1 302.42h.01M104.9 259.56h.01M177.23 273.75h.01M120.75 481.61h.01M124.01 314.44h.01M103.5 336.6h.01M121.28 475.47h.01M122.68 497.54h.01M121.69 271.47h.01M122 354.12h.01M174.74 473.71h.01M109.3 329.13h.01M116.22 257.76h.01M183.62 425.96h.01M114.86 273.98h.01M168.69 431.72h.01M113.85 483.47h.01M80.02 432.38h.01M180.61 502.51h.01M104 313.62h.01M176.69 274.21h.01M121.81 317.45h.01M166.85 302.48h.01M208.37 291.53h.01M170.84 431.28h.01M173.43 369.88h.01M178.62 499.38h.01M106.32 336.5h.01M111.62 482.26h.01M119.5 450.13h.01M167.15 334.27h.01M191.76 270.71h.01M124.98 318.02h.01M124.85 481.95h.01M117.13 386.43h.01M111.26 436.44h.01M122.29 369.87h.01M184.84 428.28h.01M196.9 300.77h.01M92.41 453.82h.01M113.05 273.97h.01M108.75 299.72h.01M194.23 333.73h.01M176.06 430.5h.01M123.08 313.64h.01M124.97 505.86h.01M169.57 458.06h.01M115.45 412.71h.01M166.68 485.88h.01M169.3 373.84h.01M116.68 331.91h.01M122.6 288.63h.01M107.54 300.75h.01M113.39 506.71h.01M170.26 498.68h.01M103.19 453.28h.01M85.2 386.84h.01M183.26 271.76h.01M96.41 435.34h.01M122.9 437.81h.01M174.49 334.43h.01M120.13 429.09h.01M120.55 425.29h.01M174.39 430.54h.01M122.13 394.12h.01M194.75 359.36h.01M94.56 332.47h.01M124.29 261.85h.01M168.42 289.98h.01M116.77 272.72h.01M168.87 458.85h.01M173.52 502.17h.01M166.42 434.97h.01M124.26 501.84h.01M170.58 314.97h.01M170.34 317.8h.01M120.71 329.57h.01M226.17 271h.01M176.77 260.71h.01M170.17 502.82h.01M121.18 496.33h.01M100.17 301.35h.01M183.93 331.25h.01M124.88 475.08h.01M113.97 482.01h.01M175.79 455.89h.01M124.49 306.94h.01M185.9 435.6h.01M177.23 286.87h.01M175.45 448.44h.01M167.99 318.71h.01M173.33 457.19h.01M166.33 385.46h.01M172.99 306.59h.01M102.17 287.54h.01M115.67 314.99h.01M168.68 357.03h.01M173.93 435.05h.01M118.67 319.22h.01M117 314.5h.01M184.88 429.02h.01M196.88 313.31h.01M166.62 376.41h.01M177.4 374h.01M175.22 372.5h.01M105.16 507.86h.01M183.52 506.36h.01M102.87 427.17h.01M171.1 354.21h.01M173.55 411.46h.01M219.1 450.84h.01M119.45 408.55h.01M168 353.24h.01M120.13 262.34h.01M123.47 385.79h.01M166.62 386.74h.01M121.49 290.99h.01M167.35 390.46h.01M177.42 389.78h.01M124.58 478.57h.01M175.58 287.04h.01M175.79 385.66h.01M171.33 273.95h.01M120.06 416.66h.01M100.49 273.52h.01M109.12 435.45h.01M188.59 257.26h.01M166.03 311.99h.01M117.02 452.19h.01M170.65 433.09h.01M122.37 353.94h.01M176.81 304.25h.01M101.27 484.83h.01M170.02 305.89h.01M170.11 509.79h.01M117.56 332.91h.01M122.69 432.06h.01M117.46 258.82h.01M170.03 394.46h.01M184.95 304.6h.01M198.14 303.97h.01M119.7 395.54h.01M123.25 509.59h.01M114.03 258.96h.01M173.02 483.09h.01M198.07 476.25h.01M116.89 300.06h.01M116.46 437.37h.01M173.53 503.48h.01M117.85 358.11h.01M96.65 318.06h.01M184.63 329.02h.01M113.07 287.96h.01M118.66 270.46h.01M117.3 303.35h.01M179.53 393.47h.01M171.06 506.19h.01M167.45 260.8h.01M185.34 258.09h.01M123.71 287.07h.01M168.5 376.71h.01M123.94 336h.01M115.38 499.43h.01M111.61 433.1h.01M176.25 501.84h.01M185.99 437.65h.01M109.6 392.5h.01M170.46 473.95h.01M112.6 387.54h.01M103.06 355.66h.01M111.02 353.13h.01M176.01 302.54h.01M180.83 426.15h.01M121.65 455.59h.01M169.74 288.79h.01M120.31 330.92h.01M118.86 495.89h.01M106.94 477.64h.01M168.43 328.78h.01M176.73 483.6h.01M173.86 258.98h.01M236.9 451.07h.01M119.36 481.86h.01M204.85 426.42h.01M117.62 477.14h.01M174.77 453.19h.01M108.83 371.6h.01M167.59 454.43h.01M175.71 330.38h.01M199.03 390.94h.01M166.84 387.38h.01M223.12 426.36h.01M174.49 264.18h.01M181.35 508.12h.01M176.31 328.86h.01M174.46 357.39h.01M170.15 413.09h.01M166.26 349.06h.01M174.87 506.05h.01M170.43 336.78h.01M122.02 495.87h.01M122.52 299.97h.01M99.89 333.22h.01M186.69 319.7h.01M168.13 437.88h.01M186.4 431.58h.01M105.38 386.75h.01M84.79 272h.01M108.4 476h.01M168.57 436.57h.01M184.88 425.93h.01M106.73 373.81h.01M108.64 497.33h.01M174.71 429.77h.01M177.84 427.13h.01M175.83 332.2h.01M124.02 358.39h.01M111.9 317.64h.01M176.91 413.87h.01M121.47 376.62h.01M167.61 300.12h.01M90.81 411.95h.01M168.29 314.42h.01M168.06 274.21h.01M177.88 372.3h.01M190.13 408.51h.01M173.86 457.79h.01M176.82 507.92h.01M170.28 349.59h.01M171.09 504.5h.01M223.61 300.07h.01M167.88 292.29h.01M178.16 312.84h.01M190.95 432.19h.01M208.03 411.89h.01M115.3 375.76h.01M178.71 333.55h.01M167.34 319.73h.01M115.82 319.31h.01M110.26 374.83h.01M169.08 352.57h.01M108.75 331.92h.01M195.78 358.96h.01M168.67 370.37h.01M167.18 426.91h.01M122.84 457.31h.01M172.26 412.66h.01M170.09 317.54h.01M112.72 503.12h.01M118 475.64h.01M123.82 496.94h.01M166.58 263.47h.01M170.65 355.69h.01M110.95 453.68h.01M101.06 330.08h.01M167.54 395.76h.01M174.27 289.97h.01M122.31 261.24h.01M120.89 475.25h.01M190.25 478.09h.01M166.94 409.76h.01M166.32 374.32h.01M167.5 408.58h.01M123.21 352.8h.01M184.22 374.53h.01M171.82 384.96h.01M123.32 389.59h.01M166.1 289.1h.01M117.81 429.51h.01M175.3 414.66h.01M118.48 388.14h.01M120.32 500.08h.01M102.33 350.28h.01M122.15 483.09h.01M166.44 302.03h.01M115.21 329.98h.01M169.78 301.62h.01M171.44 318.1h.01M123.27 355.72h.01M166.75 410.31h.01M117.19 357.64h.01M187.64 300.02h.01M166.65 330.84h.01M91.04 484.1h.01M172.58 318.61h.01M171.57 258.31h.01M116.83 508.75h.01M113.2 455.1h.01M185.34 484.05h.01M100.33 260.62h.01M169.51 476.08h.01M120.13 390.9h.01M117.13 453.26h.01M179.24 319.64h.01M105.89 392.86h.01M110.03 301.58h.01M178.81 330.04h.01M166.98 375.26h.01M117.44 458.08h.01M99.15 411.55h.01M168.38 450.95h.01M187.18 475.24h.01M182.27 432.31h.01M114.25 425.94h.01M180.53 370.58h.01M123.17 410.6h.01M112.78 509.25h.01M105.73 450.59h.01M118.45 290.02h.01M166.01 359.27h.01M174.33 351.85h.01M190.28 390.17h.01M124.46 353.47h.01M119.9 356.72h.01M119.88 261.55h.01M168.06 476.03h.01M192.92 355.58h.01M100.49 328.68h.01M123.27 476.52h.01M195.83 503.13h.01M101.26 509.3h.01M124.83 507.41h.01M166.72 425.52h.01M174.23 358.45h.01M177.19 387.3h.01M114.6 377.73h.01M193.25 305.99h.01M174.7 498.59h.01M189.27 331.34h.01M98.38 260.21h.01M124.95 312.12h.01M113.19 357.12h.01M171.65 482.26h.01M177.94 479.05h.01M173.1 303.56h.01M124.31 501.93h.01M122.56 348.55h.01M167.18 415.62h.01M189.28 317.4h.01M167.05 503.77h.01M173.41 434.11h.01M218.55 262.2h.01M124.82 481.71h.01M167.09 435.22h.01M197.35 371.16h.01M124.83 504.4h.01M174.09 395.17h.01M170.98 300.46h.01M116.85 372.52h.01M103.31 302.49h.01M171.71 304.06h.01M118.9 306.02h.01M111.18 452.53h.01M166.95 328.73h.01M122.61 332.07h.01M122.66 287.48h.01M188.31 386.83h.01M182.94 390.13h.01M110.6 264.1h.01M121.64 509.15h.01M170.76 384.3h.01M166.43 413.26h.01M121.61 315.11h.01M113.14 318.63h.01M102.41 258.39h.01M121.71 482.24h.01M121.97 286.61h.01M106.48 448.81h.01M119.85 273.73h.01M116.98 414.99h.01M168.71 384.18h.01M173.08 359.6h.01M171.41 317.55h.01M202 301.75h.01M123.78 433.55h.01M121.68 498.84h.01M124.47 373.56h.01M114.63 425.33h.01M112.6 263.81h.01M119.42 503.72h.01M166.68 301.91h.01M114.3 485.7h.01M176.38 387.6h.01M120.79 318.84h.01M121.27 387.19h.01M166.8 374.96h.01M176.72 394.65h.01M172.08 318.44h.01M189.28 452.96h.01M169.21 259.53h.01M191.11 425.06h.01M173.83 289.68h.01M123.44 385.04h.01M196.65 328.45h.01M168.2 476.8h.01M104.39 357.2h.01M174.94 369.58h.01M171.31 257.25h.01M186.54 453.91h.01M116.09 481.75h.01M168.3 314.56h.01M169.49 314.32h.01M118.75 312.16h.01M168.28 435.97h.01M167.33 486.02h.01M171.8 450.01h.01M168.72 482.61h.01M117.73 373.23h.01M122.1 505.02h.01M179.53 427.24h.01M170.02 377.38h.01M115.13 370.34h.01M174.41 289.89h.01M123.33 457.35h.01M122.31 416.32h.01M197.47 485.39h.01M168.16 411.05h.01M102.15 450.51h.01M118.26 262.26h.01M118.65 348.43h.01M172.32 305.49h.01M117.46 409.31h.01M175.43 386.77h.01M123.22 262.68h.01M104.84 448.28h.01M198.94 390.47h.01M167.5 478.83h.01M116.43 458.33h.01M170.16 333.84h.01M98.8 450.87h.01M92.13 371.53h.01M181.02 433.34h.01M118.57 368.98h.01M173.18 385.14h.01M176.74 450.43h.01M166.43 429.19h.01M121.96 452.36h.01M117.92 436.42h.01M186.41 416.25h.01M186.04 333.49h.01M88.18 329.19h.01M194.09 286.46h.01M167.97 457.22h.01M175.92 392.09h.01M95.35 456.96h.01M182.09 315.7h.01M167.97 387.71h.01M122.94 257.71h.01M166.95 458.96h.01M119.89 285.78h.01M177.59 300.09h.01M106.75 387.63h.01M173.91 315.17h.01M170.15 369.82h.01M188.19 375.35h.01M103.58 431.07h.01M115.35 291.31h.01M215.35 456.05h.01M96.24 355.45h.01M187.99 359.62h.01M120.04 304.37h.01M182.28 332.04h.01M169.49 431.9h.01M107.1 501.29h.01M168.67 501.42h.01M179.89 368.52h.01M118.44 314.47h.01M113.31 416.16h.01M169.27 358.77h.01M107.3 368.28h.01M172.34 384.73h.01M183.92 357.37h.01M170.65 456.82h.01M174.53 336.67h.01M111.78 501.36h.01M178.2 425.46h.01M184.48 260.29h.01M171.43 355.37h.01M103.25 482.9h.01M123.57 499.98h.01M170.15 358.6h.01M119.28 350.35h.01M117.87 397.27h.01M168.52 394.79h.01M100.79 455.49h.01M124.52 302.16h.01M119.73 357.37h.01M122.45 496h.01M166.5 393.88h.01M115.23 475.93h.01M119.42 373.28h.01M178.74 458.16h.01M123.02 384.77h.01M168.16 375.76h.01M170.41 368.11h.01M114.18 348.99h.01M114.02 291.76h.01M124.16 262.79h.01M169.04 291.15h.01M168.52 479.01h.01M189.62 304.57h.01M107.05 369.64h.01M109.48 330.4h.01M107.61 426.25h.01M119.27 385.91h.01M167.36 332.87h.01M168.68 271.81h.01M176.98 369.53h.01" stroke="#1212e4" stroke-width="1.7" stroke-linecap="round" fill="none"/>
<rect x="80.5" y="273" width="3.2" height="6" fill="#50d8c0" opacity="0.85"/>
<rect x="84.3" y="274" width="2.4" height="5" fill="#f080b0" opacity="0.85"/>
<rect x="110.5" y="273" width="3.2" height="6" fill="#40c8a8" opacity="0.85"/>
<rect x="116.6" y="273" width="1.4" height="6" fill="#e03858" opacity="0.85"/>
<rect x="88.2" y="255.5" width="3.6" height="5.5" fill="#90eef0" opacity="0.85"/>
<rect x="93.8" y="256" width="2.2" height="6" fill="#d858d8" opacity="0.85"/>
<line x1="125.5" y1="251.2" x2="125.5" y2="522.5" stroke="#d8d8d8" stroke-width="0.8"/>
<line x1="165.8" y1="251.2" x2="165.8" y2="522.5" stroke="#d8d8d8" stroke-width="0.8"/>
<line x1="148" y1="251.2" x2="148" y2="522.5" stroke="#ffffff" stroke-width="1.5"/>
<rect x="25.2" y="251.2" width="245.3" height="271.3" fill="none" stroke="#c4c4c4" stroke-width="0.7"/>
<line x1="23.2" y1="516.2" x2="25.2" y2="516.2" stroke="#333" stroke-width="0.6"/>
<text x="22.9" y="518.35" font-size="6.0" text-anchor="end" fill="#333" stroke="#333" stroke-width="0.15">1</text>
<line x1="23.2" y1="502.9" x2="25.2" y2="502.9" stroke="#333" stroke-width="0.6"/>
<text x="22.9" y="505.05" font-size="6.0" text-anchor="end" fill="#333" stroke="#333" stroke-width="0.15">2</text>
<line x1="23.2" y1="491" x2="25.2" y2="491" stroke="#333" stroke-width="0.6"/>
<text x="22.9" y="493.15" font-size="6.0" text-anchor="end" fill="#333" stroke="#333" stroke-width="0.15">3</text>
<line x1="23.2" y1="479.8" x2="25.2" y2="479.8" stroke="#333" stroke-width="0.6"/>
<text x="22.9" y="481.95" font-size="6.0" text-anchor="end" fill="#333" stroke="#333" stroke-width="0.15">4</text>
<line x1="23.2" y1="466.3" x2="25.2" y2="466.3" stroke="#333" stroke-width="0.6"/>
<text x="22.9" y="468.45" font-size="6.0" text-anchor="end" fill="#333" stroke="#333" stroke-width="0.15">5</text>
<line x1="23.2" y1="453.2" x2="25.2" y2="453.2" stroke="#333" stroke-width="0.6"/>
<text x="22.9" y="455.35" font-size="6.0" text-anchor="end" fill="#333" stroke="#333" stroke-width="0.15">6</text>
<line x1="23.2" y1="442.5" x2="25.2" y2="442.5" stroke="#333" stroke-width="0.6"/>
<text x="22.9" y="444.65" font-size="6.0" text-anchor="end" fill="#333" stroke="#333" stroke-width="0.15">7</text>
<line x1="23.2" y1="431.6" x2="25.2" y2="431.6" stroke="#333" stroke-width="0.6"/>
<text x="22.9" y="433.75" font-size="6.0" text-anchor="end" fill="#333" stroke="#333" stroke-width="0.15">8</text>
<line x1="23.2" y1="421.2" x2="25.2" y2="421.2" stroke="#333" stroke-width="0.6"/>
<text x="22.9" y="423.35" font-size="6.0" text-anchor="end" fill="#333" stroke="#333" stroke-width="0.15">9</text>
<line x1="23.2" y1="411.5" x2="25.2" y2="411.5" stroke="#333" stroke-width="0.6"/>
<text x="22.9" y="413.65" font-size="6.0" text-anchor="end" fill="#333" stroke="#333" stroke-width="0.15">10</text>
<line x1="23.2" y1="401.3" x2="25.2" y2="401.3" stroke="#333" stroke-width="0.6"/>
<text x="22.9" y="403.45" font-size="6.0" text-anchor="end" fill="#333" stroke="#333" stroke-width="0.15">11</text>
<line x1="23.2" y1="389.5" x2="25.2" y2="389.5" stroke="#333" stroke-width="0.6"/>
<text x="22.9" y="391.65" font-size="6.0" text-anchor="end" fill="#333" stroke="#333" stroke-width="0.15">12</text>
<line x1="23.2" y1="380.7" x2="25.2" y2="380.7" stroke="#333" stroke-width="0.6"/>
<text x="22.9" y="382.85" font-size="6.0" text-anchor="end" fill="#333" stroke="#333" stroke-width="0.15">13</text>
<line x1="23.2" y1="372.7" x2="25.2" y2="372.7" stroke="#333" stroke-width="0.6"/>
<text x="22.9" y="374.85" font-size="6.0" text-anchor="end" fill="#333" stroke="#333" stroke-width="0.15">14</text>
<line x1="23.2" y1="363.3" x2="25.2" y2="363.3" stroke="#333" stroke-width="0.6"/>
<text x="22.9" y="365.45" font-size="6.0" text-anchor="end" fill="#333" stroke="#333" stroke-width="0.15">15</text>
<line x1="23.2" y1="353" x2="25.2" y2="353" stroke="#333" stroke-width="0.6"/>
<text x="22.9" y="355.15" font-size="6.0" text-anchor="end" fill="#333" stroke="#333" stroke-width="0.15">16</text>
<line x1="23.2" y1="342.1" x2="25.2" y2="342.1" stroke="#333" stroke-width="0.6"/>
<text x="22.9" y="344.25" font-size="6.0" text-anchor="end" fill="#333" stroke="#333" stroke-width="0.15">17</text>
<line x1="23.2" y1="333.2" x2="25.2" y2="333.2" stroke="#333" stroke-width="0.6"/>
<text x="22.9" y="335.35" font-size="6.0" text-anchor="end" fill="#333" stroke="#333" stroke-width="0.15">18</text>
<line x1="23.2" y1="324" x2="25.2" y2="324" stroke="#333" stroke-width="0.6"/>
<text x="22.9" y="326.15" font-size="6.0" text-anchor="end" fill="#333" stroke="#333" stroke-width="0.15">19</text>
<line x1="23.2" y1="315.5" x2="25.2" y2="315.5" stroke="#333" stroke-width="0.6"/>
<text x="22.9" y="317.65" font-size="6.0" text-anchor="end" fill="#333" stroke="#333" stroke-width="0.15">20</text>
<line x1="23.2" y1="309.4" x2="25.2" y2="309.4" stroke="#333" stroke-width="0.6"/>
<text x="22.9" y="311.55" font-size="6.0" text-anchor="end" fill="#333" stroke="#333" stroke-width="0.15">21</text>
<line x1="23.2" y1="302.9" x2="25.2" y2="302.9" stroke="#333" stroke-width="0.6"/>
<text x="22.9" y="305.05" font-size="6.0" text-anchor="end" fill="#333" stroke="#333" stroke-width="0.15">22</text>
<line x1="23.2" y1="295.5" x2="25.2" y2="295.5" stroke="#333" stroke-width="0.6"/>
<text x="22.9" y="297.65" font-size="6.0" text-anchor="end" fill="#333" stroke="#333" stroke-width="0.15">23</text>
<line x1="23.2" y1="288.75" x2="25.2" y2="288.75" stroke="#333" stroke-width="0.6"/>
<text x="22.9" y="290.9" font-size="6.0" text-anchor="end" fill="#333" stroke="#333" stroke-width="0.15">24</text>
<line x1="23.2" y1="279.5" x2="25.2" y2="279.5" stroke="#333" stroke-width="0.6"/>
<text x="22.9" y="281.65" font-size="6.0" text-anchor="end" fill="#333" stroke="#333" stroke-width="0.15">25</text>
<line x1="23.2" y1="272" x2="25.2" y2="272" stroke="#333" stroke-width="0.6"/>
<text x="22.9" y="274.15" font-size="6.0" text-anchor="end" fill="#333" stroke="#333" stroke-width="0.15">26</text>
<line x1="23.2" y1="266.25" x2="25.2" y2="266.25" stroke="#333" stroke-width="0.6"/>
<text x="22.9" y="268.4" font-size="6.0" text-anchor="end" fill="#333" stroke="#333" stroke-width="0.15">27</text>
<line x1="23.2" y1="260" x2="25.2" y2="260" stroke="#333" stroke-width="0.6"/>
<text x="22.9" y="262.15" font-size="6.0" text-anchor="end" fill="#333" stroke="#333" stroke-width="0.15">28</text>
<line x1="23.2" y1="254" x2="25.2" y2="254" stroke="#333" stroke-width="0.6"/>
<text x="22.9" y="256.15" font-size="6.0" text-anchor="end" fill="#333" stroke="#333" stroke-width="0.15">29</text>
<line x1="53.5" y1="522.5" x2="53.5" y2="524.8" stroke="#333" stroke-width="0.6"/>
<text x="53.5" y="530.9" font-size="6.5" text-anchor="middle" fill="#333" stroke="#333" stroke-width="0.12">−0.2</text>
<line x1="100.75" y1="522.5" x2="100.75" y2="524.8" stroke="#333" stroke-width="0.6"/>
<text x="100.75" y="530.9" font-size="6.5" text-anchor="middle" fill="#333" stroke="#333" stroke-width="0.12">−0.1</text>
<line x1="148" y1="522.5" x2="148" y2="524.8" stroke="#333" stroke-width="0.6"/>
<text x="148" y="530.9" font-size="6.5" text-anchor="middle" fill="#333" stroke="#333" stroke-width="0.12">0.0</text>
<line x1="195.25" y1="522.5" x2="195.25" y2="524.8" stroke="#333" stroke-width="0.6"/>
<text x="195.25" y="530.9" font-size="6.5" text-anchor="middle" fill="#333" stroke="#333" stroke-width="0.12">0.1</text>
<line x1="242.5" y1="522.5" x2="242.5" y2="524.8" stroke="#333" stroke-width="0.6"/>
<text x="242.5" y="530.9" font-size="6.5" text-anchor="middle" fill="#333" stroke="#333" stroke-width="0.12">0.2</text>
<text x="148" y="538.4" font-size="6.86" text-anchor="middle" font-weight="bold" fill="#111" stroke="#111" stroke-width="0.2">Nucleotide Diversity</text>
<text x="14.2" y="387.3" font-size="6.7" text-anchor="middle" font-weight="bold" fill="#111" transform="rotate(-90 14.2 387.3)" stroke="#111" stroke-width="0.2">Chromosome</text>
<rect x="314.6" y="165.2" width="199.7" height="141.2" fill="#ebebeb"/>
<line x1="314.6" y1="294.3" x2="514.3" y2="294.3" stroke="#f7f7f7" stroke-width="0.45"/>
<line x1="314.6" y1="270.3" x2="514.3" y2="270.3" stroke="#f7f7f7" stroke-width="0.45"/>
<line x1="314.6" y1="246.3" x2="514.3" y2="246.3" stroke="#f7f7f7" stroke-width="0.45"/>
<line x1="314.6" y1="222.3" x2="514.3" y2="222.3" stroke="#f7f7f7" stroke-width="0.45"/>
<line x1="314.6" y1="198.3" x2="514.3" y2="198.3" stroke="#f7f7f7" stroke-width="0.45"/>
<line x1="314.6" y1="174.3" x2="514.3" y2="174.3" stroke="#f7f7f7" stroke-width="0.45"/>
<line x1="324.51" y1="165.2" x2="324.51" y2="306.4" stroke="#f7f7f7" stroke-width="0.45"/>
<line x1="341.94" y1="165.2" x2="341.94" y2="306.4" stroke="#f7f7f7" stroke-width="0.45"/>
<line x1="359.36" y1="165.2" x2="359.36" y2="306.4" stroke="#f7f7f7" stroke-width="0.45"/>
<line x1="376.79" y1="165.2" x2="376.79" y2="306.4" stroke="#f7f7f7" stroke-width="0.45"/>
<line x1="394.21" y1="165.2" x2="394.21" y2="306.4" stroke="#f7f7f7" stroke-width="0.45"/>
<line x1="411.64" y1="165.2" x2="411.64" y2="306.4" stroke="#f7f7f7" stroke-width="0.45"/>
<line x1="429.06" y1="165.2" x2="429.06" y2="306.4" stroke="#f7f7f7" stroke-width="0.45"/>
<line x1="446.49" y1="165.2" x2="446.49" y2="306.4" stroke="#f7f7f7" stroke-width="0.45"/>
<line x1="463.91" y1="165.2" x2="463.91" y2="306.4" stroke="#f7f7f7" stroke-width="0.45"/>
<line x1="481.34" y1="165.2" x2="481.34" y2="306.4" stroke="#f7f7f7" stroke-width="0.45"/>
<line x1="498.76" y1="165.2" x2="498.76" y2="306.4" stroke="#f7f7f7" stroke-width="0.45"/>
<line x1="314.6" y1="306.3" x2="514.3" y2="306.3" stroke="#fff" stroke-width="0.8"/>
<line x1="314.6" y1="282.3" x2="514.3" y2="282.3" stroke="#fff" stroke-width="0.8"/>
<line x1="314.6" y1="258.3" x2="514.3" y2="258.3" stroke="#fff" stroke-width="0.8"/>
<line x1="314.6" y1="234.3" x2="514.3" y2="234.3" stroke="#fff" stroke-width="0.8"/>
<line x1="314.6" y1="210.3" x2="514.3" y2="210.3" stroke="#fff" stroke-width="0.8"/>
<line x1="314.6" y1="186.3" x2="514.3" y2="186.3" stroke="#fff" stroke-width="0.8"/>
<line x1="315.8" y1="165.2" x2="315.8" y2="306.4" stroke="#fff" stroke-width="0.8"/>
<line x1="333.23" y1="165.2" x2="333.23" y2="306.4" stroke="#fff" stroke-width="0.8"/>
<line x1="350.65" y1="165.2" x2="350.65" y2="306.4" stroke="#fff" stroke-width="0.8"/>
<line x1="368.08" y1="165.2" x2="368.08" y2="306.4" stroke="#fff" stroke-width="0.8"/>
<line x1="385.5" y1="165.2" x2="385.5" y2="306.4" stroke="#fff" stroke-width="0.8"/>
<line x1="402.93" y1="165.2" x2="402.93" y2="306.4" stroke="#fff" stroke-width="0.8"/>
<line x1="420.35" y1="165.2" x2="420.35" y2="306.4" stroke="#fff" stroke-width="0.8"/>
<line x1="437.78" y1="165.2" x2="437.78" y2="306.4" stroke="#fff" stroke-width="0.8"/>
<line x1="455.2" y1="165.2" x2="455.2" y2="306.4" stroke="#fff" stroke-width="0.8"/>
<line x1="472.62" y1="165.2" x2="472.62" y2="306.4" stroke="#fff" stroke-width="0.8"/>
<line x1="490.05" y1="165.2" x2="490.05" y2="306.4" stroke="#fff" stroke-width="0.8"/>
<line x1="507.48" y1="165.2" x2="507.48" y2="306.4" stroke="#fff" stroke-width="0.8"/>
<rect x="363.8" y="165.2" width="8.2" height="51" fill="#f1f1f6"/>
<rect x="325.5" y="305.8" width="3.53" height=".5" fill="#7272e4"/>
<rect x="328.98" y="305.2" width="3.53" height="1.1" fill="#7272e4"/>
<rect x="332.46" y="302.5" width="3.53" height="3.8" fill="#7272e4"/>
<rect x="335.94" y="299" width="3.53" height="4.5" fill="#7272e4"/>
<rect x="335.94" y="303.5" width="3.53" height="2.8" fill="#3a3a9e"/>
<rect x="339.42" y="296.4" width="3.53" height="3.6" fill="#7272e4"/>
<rect x="339.42" y="300" width="3.53" height="4" fill="#3a3a9e"/>
<rect x="339.42" y="304" width="3.53" height="2.3" fill="#7c7c7c"/>
<rect x="342.9" y="292.3" width="3.53" height="4.7" fill="#7272e4"/>
<rect x="342.9" y="297" width="3.53" height="5" fill="#3a3a9e"/>
<rect x="342.9" y="302" width="3.53" height="4.3" fill="#7c7c7c"/>
<rect x="346.38" y="280" width="3.53" height="5.5" fill="#7272e4"/>
<rect x="346.38" y="285.5" width="3.53" height="8.2" fill="#3a3a9e"/>
<rect x="346.38" y="293.7" width="3.53" height="12.6" fill="#7c7c7c"/>
<rect x="349.86" y="261.6" width="3.53" height="13" fill="#7272e4"/>
<rect x="349.86" y="274.6" width="3.53" height="12.9" fill="#4848b0"/>
<rect x="349.86" y="287.5" width="3.53" height="18.8" fill="#7c7c7c"/>
<rect x="353.34" y="240.5" width="3.53" height="19.7" fill="#c4e8dc"/>
<rect x="353.34" y="260.2" width="3.53" height="11.6" fill="#7272e4"/>
<rect x="353.34" y="271.8" width="3.53" height="5.5" fill="#3a3a9e"/>
<rect x="353.34" y="277.3" width="3.53" height="29" fill="#7c7c7c"/>
<rect x="356.82" y="241.5" width="3.53" height="17.4" fill="#a8d098"/>
<rect x="356.82" y="258.9" width="3.53" height="11.6" fill="#5656d4"/>
<rect x="356.82" y="270.5" width="3.53" height="14.5" fill="#4a4a96"/>
<rect x="356.82" y="285" width="3.53" height="21.3" fill="#5a5a88"/>
<rect x="360.3" y="165.2" width="3.53" height="18.5" fill="#7272e4"/>
<rect x="360.3" y="183.7" width="3.53" height="13.1" fill="#9058dc"/>
<rect x="360.3" y="196.8" width="3.53" height="19.7" fill="#6a5ee0"/>
<rect x="360.3" y="216.5" width="3.53" height="6.5" fill="#4848c8"/>
<rect x="360.3" y="223" width="3.53" height="83.3" fill="#30309c"/>
<rect x="363.78" y="187.4" width="3.53" height="8.6" fill="#d2b094"/>
<rect x="363.78" y="196" width="3.53" height="21" fill="#9058dc"/>
<rect x="363.78" y="217" width="3.53" height="13.3" fill="#3a3a9e"/>
<rect x="363.78" y="230.3" width="3.53" height="76" fill="#7c7c7c"/>
<rect x="367.26" y="217.2" width="3.53" height="89.1" fill="#7c7c7c"/>
<rect x="370.74" y="215.7" width="3.53" height="90.6" fill="#7c7c7c"/>
<rect x="374.22" y="236.8" width="3.53" height="69.5" fill="#7c7c7c"/>
<rect x="377.7" y="246.3" width="3.53" height="60" fill="#7e7e72"/>
<rect x="381.18" y="256" width="3.53" height="2" fill="#9ab88a"/>
<rect x="381.18" y="258" width="3.53" height="48.3" fill="#767c72"/>
<rect x="384.66" y="262" width="3.53" height="2" fill="#9ab88a"/>
<rect x="384.66" y="264" width="3.53" height="42.3" fill="#767c72"/>
<rect x="388.14" y="270" width="3.53" height="3" fill="#9ab88a"/>
<rect x="388.14" y="273" width="3.53" height="33.3" fill="#767c72"/>
<rect x="391.62" y="277" width="3.53" height="3" fill="#9ab88a"/>
<rect x="391.62" y="280" width="3.53" height="26.3" fill="#767c72"/>
<rect x="395.1" y="282" width="3.53" height="3" fill="#9ab88a"/>
<rect x="395.1" y="285" width="3.53" height="21.3" fill="#767c72"/>
<rect x="398.58" y="286" width="3.53" height="2.5" fill="#acd8a4"/>
<rect x="398.58" y="288" width="3.53" height="18.3" fill="#7c7c7c"/>
<rect x="402.06" y="288.75" width="3.53" height="2.5" fill="#acd8a4"/>
<rect x="402.06" y="291" width="3.53" height="15.3" fill="#7c7c7c"/>
<rect x="405.54" y="291.25" width="3.53" height="2.5" fill="#acd8a4"/>
<rect x="405.54" y="293.75" width="3.53" height="12.55" fill="#7c7c7c"/>
<rect x="409.02" y="292.5" width="3.53" height="2.5" fill="#acd8a4"/>
<rect x="409.02" y="295" width="3.53" height="1" fill="#5a7a80"/>
<rect x="409.02" y="296" width="3.53" height="10.3" fill="#7c7c7c"/>
<rect x="412.5" y="293.75" width="3.53" height="2.5" fill="#acd8a4"/>
<rect x="412.5" y="296.25" width="3.53" height="1.75" fill="#5a7a80"/>
<rect x="412.5" y="298" width="3.53" height="8.3" fill="#7c7c7c"/>
<rect x="415.98" y="295" width="3.53" height="2.5" fill="#acd8a4"/>
<rect x="415.98" y="297.5" width="3.53" height="1.5" fill="#5a7a80"/>
<rect x="415.98" y="299" width="3.53" height="7.3" fill="#7c7c7c"/>
<rect x="419.46" y="297.5" width="3.53" height="1.5" fill="#acd8a4"/>
<rect x="419.46" y="299" width="3.53" height="1" fill="#6cb868"/>
<rect x="419.46" y="300" width="3.53" height="6.3" fill="#7c7c7c"/>
<rect x="422.94" y="297.5" width="3.53" height="1.5" fill="#acd8a4"/>
<rect x="422.94" y="299" width="3.53" height="2.25" fill="#6cb868"/>
<rect x="422.94" y="301.25" width="3.53" height="5.05" fill="#7c7c7c"/>
<rect x="426.42" y="298.75" width="3.53" height="1.5" fill="#acd8a4"/>
<rect x="426.42" y="300.25" width="3.53" height="1" fill="#6cb868"/>
<rect x="426.42" y="301.25" width="3.53" height="5.05" fill="#7c7c7c"/>
<rect x="429.9" y="296.05" width="3.53" height="2.7" fill="#c8eee0"/>
<rect x="429.9" y="298.75" width="3.53" height="1.5" fill="#acd8a4"/>
<rect x="429.9" y="300.25" width="3.53" height="2.25" fill="#6cb868"/>
<rect x="429.9" y="302.5" width="3.53" height="3.8" fill="#7c7c7c"/>
<rect x="433.38" y="296.05" width="3.53" height="2.7" fill="#c8eee0"/>
<rect x="433.38" y="298.75" width="3.53" height="1.5" fill="#acd8a4"/>
<rect x="433.38" y="300.25" width="3.53" height="2.25" fill="#6cb868"/>
<rect x="433.38" y="302.5" width="3.53" height="3.8" fill="#7c7c7c"/>
<rect x="436.86" y="296.05" width="3.53" height="2.7" fill="#c8eee0"/>
<rect x="436.86" y="298.75" width="3.53" height="1.5" fill="#acd8a4"/>
<rect x="436.86" y="300.25" width="3.53" height="2.25" fill="#6cb868"/>
<rect x="436.86" y="302.5" width="3.53" height="3.8" fill="#7c7c7c"/>
<rect x="440.34" y="296.05" width="3.53" height="2.7" fill="#c8eee0"/>
<rect x="440.34" y="298.75" width="3.53" height="1.5" fill="#acd8a4"/>
<rect x="440.34" y="300.25" width="3.53" height="2.25" fill="#6cb868"/>
<rect x="440.34" y="302.5" width="3.53" height="3.8" fill="#7c7c7c"/>
<rect x="443.82" y="296.05" width="3.53" height="2.7" fill="#c8eee0"/>
<rect x="443.82" y="298.75" width="3.53" height="1.5" fill="#acd8a4"/>
<rect x="443.82" y="300.25" width="3.53" height="3.5" fill="#6cb868"/>
<rect x="443.82" y="303.75" width="3.53" height="2.55" fill="#7c7c7c"/>
<rect x="447.3" y="296.05" width="3.53" height="2.7" fill="#c8eee0"/>
<rect x="447.3" y="298.75" width="3.53" height="1.5" fill="#acd8a4"/>
<rect x="447.3" y="300.25" width="3.53" height="3.5" fill="#6cb868"/>
<rect x="447.3" y="303.75" width="3.53" height="2.55" fill="#7c7c7c"/>
<rect x="450.78" y="296.05" width="3.53" height="2.7" fill="#c8eee0"/>
<rect x="450.78" y="298.75" width="3.53" height="1.5" fill="#acd8a4"/>
<rect x="450.78" y="300.25" width="3.53" height="3.5" fill="#6cb868"/>
<rect x="450.78" y="303.75" width="3.53" height="2.55" fill="#7c7c7c"/>
<rect x="454.26" y="296.05" width="3.53" height="2.7" fill="#c8eee0"/>
<rect x="454.26" y="298.75" width="3.53" height="1.5" fill="#acd8a4"/>
<rect x="454.26" y="300.25" width="3.53" height="3.5" fill="#6cb868"/>
<rect x="454.26" y="303.75" width="3.53" height="2.55" fill="#7c7c7c"/>
<rect x="457.74" y="292.5" width="3.53" height="6.5" fill="#a8d898"/>
<rect x="457.74" y="299" width="3.53" height="4.75" fill="#6cb868"/>
<rect x="457.74" y="303.75" width="3.53" height="2.55" fill="#7c7c7c"/>
<rect x="461.22" y="305" width="3.53" height="1.3" fill="#7c7c7c"/>
<rect x="464.7" y="305.6" width="3.53" height=".7" fill="#7c7c7c"/>
<rect x="468.18" y="305.6" width="3.53" height=".7" fill="#7c7c7c"/>
<rect x="471.66" y="305.6" width="3.53" height=".7" fill="#7c7c7c"/>
<rect x="475.14" y="305.6" width="3.53" height=".7" fill="#7c7c7c"/>
<rect x="478.62" y="305.6" width="3.53" height=".7" fill="#7c7c7c"/>
<rect x="482.1" y="305.6" width="3.53" height=".7" fill="#7c7c7c"/>
<rect x="485.58" y="305.6" width="3.53" height=".7" fill="#7c7c7c"/>
<rect x="489.06" y="305.6" width="3.53" height=".7" fill="#7c7c7c"/>
<rect x="492.54" y="305.6" width="3.53" height=".7" fill="#7c7c7c"/>
<rect x="496.02" y="305.6" width="3.53" height=".7" fill="#7c7c7c"/>
<rect x="499.5" y="305.6" width="3.53" height=".7" fill="#7c7c7c"/>
<rect x="502.98" y="305.6" width="3.53" height=".7" fill="#7c7c7c"/>
<rect x="506.46" y="305.6" width="3.53" height=".7" fill="#7c7c7c"/>
<rect x="509.94" y="305.6" width="3.53" height=".7" fill="#7c7c7c"/>
<line x1="372.3" y1="165.2" x2="372.3" y2="306.4" stroke="#5050d0" stroke-width="1.2"/>
<line x1="378.2" y1="165.2" x2="378.2" y2="306.4" stroke="#786848" stroke-width="1.5"/>
<line x1="390.9" y1="165.2" x2="390.9" y2="306.4" stroke="#94c484" stroke-width="1.0"/>
<line x1="393.5" y1="165.2" x2="393.5" y2="306.4" stroke="#808080" stroke-width="1.0"/>
<rect x="314.6" y="165.2" width="199.7" height="141.2" fill="none" stroke="#a8a8a8" stroke-width="0.7"/>
<line x1="313" y1="306.3" x2="314.6" y2="306.3" stroke="#333" stroke-width="0.5"/>
<text x="312.6" y="307.8" font-size="4.2" text-anchor="end" fill="#333" stroke="#333" stroke-width="0.12">0</text>
<line x1="313" y1="282.3" x2="314.6" y2="282.3" stroke="#333" stroke-width="0.5"/>
<text x="312.6" y="283.8" font-size="4.2" text-anchor="end" fill="#333" stroke="#333" stroke-width="0.12">500</text>
<line x1="313" y1="258.3" x2="314.6" y2="258.3" stroke="#333" stroke-width="0.5"/>
<text x="312.6" y="259.8" font-size="4.2" text-anchor="end" fill="#333" stroke="#333" stroke-width="0.12">1000</text>
<line x1="313" y1="234.3" x2="314.6" y2="234.3" stroke="#333" stroke-width="0.5"/>
<text x="312.6" y="235.8" font-size="4.2" text-anchor="end" fill="#333" stroke="#333" stroke-width="0.12">1500</text>
<line x1="313" y1="210.3" x2="314.6" y2="210.3" stroke="#333" stroke-width="0.5"/>
<text x="312.6" y="211.8" font-size="4.2" text-anchor="end" fill="#333" stroke="#333" stroke-width="0.12">2000</text>
<line x1="313" y1="186.3" x2="314.6" y2="186.3" stroke="#333" stroke-width="0.5"/>
<text x="312.6" y="187.8" font-size="4.2" text-anchor="end" fill="#333" stroke="#333" stroke-width="0.12">2500</text>
<line x1="315.8" y1="306.4" x2="315.8" y2="308" stroke="#333" stroke-width="0.5"/>
<text x="315.8" y="312.1" font-size="4.9" text-anchor="middle" fill="#333" stroke="#333" stroke-width="0.12">−2.25</text>
<line x1="333.23" y1="306.4" x2="333.23" y2="308" stroke="#333" stroke-width="0.5"/>
<text x="333.23" y="312.1" font-size="4.9" text-anchor="middle" fill="#333" stroke="#333" stroke-width="0.12">−1.75</text>
<line x1="350.65" y1="306.4" x2="350.65" y2="308" stroke="#333" stroke-width="0.5"/>
<text x="350.65" y="312.1" font-size="4.9" text-anchor="middle" fill="#333" stroke="#333" stroke-width="0.12">−1.25</text>
<line x1="368.08" y1="306.4" x2="368.08" y2="308" stroke="#333" stroke-width="0.5"/>
<text x="368.08" y="312.1" font-size="4.9" text-anchor="middle" fill="#333" stroke="#333" stroke-width="0.12">−0.75</text>
<line x1="385.5" y1="306.4" x2="385.5" y2="308" stroke="#333" stroke-width="0.5"/>
<text x="385.5" y="312.1" font-size="4.9" text-anchor="middle" fill="#333" stroke="#333" stroke-width="0.12">−0.25</text>
<line x1="402.93" y1="306.4" x2="402.93" y2="308" stroke="#333" stroke-width="0.5"/>
<text x="402.93" y="312.1" font-size="4.9" text-anchor="middle" fill="#333" stroke="#333" stroke-width="0.12">0.25</text>
<line x1="420.35" y1="306.4" x2="420.35" y2="308" stroke="#333" stroke-width="0.5"/>
<text x="420.35" y="312.1" font-size="4.9" text-anchor="middle" fill="#333" stroke="#333" stroke-width="0.12">0.75</text>
<line x1="437.78" y1="306.4" x2="437.78" y2="308" stroke="#333" stroke-width="0.5"/>
<text x="437.78" y="312.1" font-size="4.9" text-anchor="middle" fill="#333" stroke="#333" stroke-width="0.12">1.25</text>
<line x1="455.2" y1="306.4" x2="455.2" y2="308" stroke="#333" stroke-width="0.5"/>
<text x="455.2" y="312.1" font-size="4.9" text-anchor="middle" fill="#333" stroke="#333" stroke-width="0.12">1.75</text>
<line x1="472.62" y1="306.4" x2="472.62" y2="308" stroke="#333" stroke-width="0.5"/>
<text x="472.62" y="312.1" font-size="4.9" text-anchor="middle" fill="#333" stroke="#333" stroke-width="0.12">2.25</text>
<line x1="490.05" y1="306.4" x2="490.05" y2="308" stroke="#333" stroke-width="0.5"/>
<text x="490.05" y="312.1" font-size="4.9" text-anchor="middle" fill="#333" stroke="#333" stroke-width="0.12">2.75</text>
<line x1="507.48" y1="306.4" x2="507.48" y2="308" stroke="#333" stroke-width="0.5"/>
<text x="507.48" y="312.1" font-size="4.9" text-anchor="middle" fill="#333" stroke="#333" stroke-width="0.12">3.25</text>
<text x="414" y="318.2" font-size="6.4" text-anchor="middle" font-weight="bold" fill="#111" stroke="#111" stroke-width="0.2">Tajima's D</text>
<text x="301" y="235.7" font-size="6.4" text-anchor="middle" font-weight="bold" fill="#111" transform="rotate(-90 301 235.7)" stroke="#111" stroke-width="0.2">Count</text>
<text x="287.9" y="168.3" font-size="9.0" text-anchor="start" font-weight="bold" fill="#111" stroke="#111" stroke-width="0.25">c</text>
<text x="320.3" y="341.5" font-size="5.27" text-anchor="start" font-weight="bold" fill="#111" stroke="#111" stroke-width="0.15">Anadromous Barrier Locations</text>
<rect x="400.8" y="327.4" width="7.6" height="7.6" fill="#f4c0c8"/>
<rect x="401.6" y="328.2" width="6" height="6" fill="#d46a58"/>
<text x="412.3" y="332.6" font-size="3.9" text-anchor="start" fill="#111">Above the Dams</text>
<rect x="400.8" y="335.1" width="7.6" height="7.6" fill="#d8e8d8"/>
<rect x="401.6" y="335.9" width="6" height="6" fill="#1e5a1e"/>
<text x="412.3" y="340.3" font-size="3.9" text-anchor="start" fill="#111">In Between the Dams</text>
<rect x="400.8" y="342.8" width="7.6" height="7.6" fill="#c8f0d8"/>
<rect x="401.6" y="343.6" width="6" height="6" fill="#5cc04c"/>
<text x="412.3" y="348" font-size="3.9" text-anchor="start" fill="#111">South Branch of the Little River</text>
<rect x="470.2" y="327.4" width="7.6" height="7.6" fill="#d0d0ff"/>
<rect x="471" y="328.2" width="6" height="6" fill="#1010e0"/>
<text x="481.7" y="332.6" font-size="3.9" text-anchor="start" fill="#111">Below the Dams</text>
<rect x="470.2" y="335.1" width="7.6" height="7.6" fill="#e0e0e0"/>
<rect x="471" y="335.9" width="6" height="6" fill="#808080"/>
<text x="481.7" y="340.3" font-size="3.9" text-anchor="start" fill="#111">All Locations</text>
<rect x="314.7" y="358.1" width="200" height="141.5" fill="#ebebeb"/>
<line x1="314.7" y1="490" x2="514.7" y2="490" stroke="#f7f7f7" stroke-width="0.45"/>
<line x1="314.7" y1="471.2" x2="514.7" y2="471.2" stroke="#f7f7f7" stroke-width="0.45"/>
<line x1="314.7" y1="452.4" x2="514.7" y2="452.4" stroke="#f7f7f7" stroke-width="0.45"/>
<line x1="314.7" y1="433.6" x2="514.7" y2="433.6" stroke="#f7f7f7" stroke-width="0.45"/>
<line x1="314.7" y1="414.8" x2="514.7" y2="414.8" stroke="#f7f7f7" stroke-width="0.45"/>
<line x1="314.7" y1="396" x2="514.7" y2="396" stroke="#f7f7f7" stroke-width="0.45"/>
<line x1="314.7" y1="377.2" x2="514.7" y2="377.2" stroke="#f7f7f7" stroke-width="0.45"/>
<line x1="317.05" y1="358.1" x2="317.05" y2="499.6" stroke="#f7f7f7" stroke-width="0.45"/>
<line x1="334.55" y1="358.1" x2="334.55" y2="499.6" stroke="#f7f7f7" stroke-width="0.45"/>
<line x1="352.05" y1="358.1" x2="352.05" y2="499.6" stroke="#f7f7f7" stroke-width="0.45"/>
<line x1="369.55" y1="358.1" x2="369.55" y2="499.6" stroke="#f7f7f7" stroke-width="0.45"/>
<line x1="387.05" y1="358.1" x2="387.05" y2="499.6" stroke="#f7f7f7" stroke-width="0.45"/>
<line x1="404.55" y1="358.1" x2="404.55" y2="499.6" stroke="#f7f7f7" stroke-width="0.45"/>
<line x1="422.05" y1="358.1" x2="422.05" y2="499.6" stroke="#f7f7f7" stroke-width="0.45"/>
<line x1="439.55" y1="358.1" x2="439.55" y2="499.6" stroke="#f7f7f7" stroke-width="0.45"/>
<line x1="457.05" y1="358.1" x2="457.05" y2="499.6" stroke="#f7f7f7" stroke-width="0.45"/>
<line x1="474.55" y1="358.1" x2="474.55" y2="499.6" stroke="#f7f7f7" stroke-width="0.45"/>
<line x1="492.05" y1="358.1" x2="492.05" y2="499.6" stroke="#f7f7f7" stroke-width="0.45"/>
<line x1="509.55" y1="358.1" x2="509.55" y2="499.6" stroke="#f7f7f7" stroke-width="0.45"/>
<line x1="314.7" y1="499.4" x2="514.7" y2="499.4" stroke="#fff" stroke-width="0.8"/>
<line x1="314.7" y1="480.6" x2="514.7" y2="480.6" stroke="#fff" stroke-width="0.8"/>
<line x1="314.7" y1="461.8" x2="514.7" y2="461.8" stroke="#fff" stroke-width="0.8"/>
<line x1="314.7" y1="443" x2="514.7" y2="443" stroke="#fff" stroke-width="0.8"/>
<line x1="314.7" y1="424.2" x2="514.7" y2="424.2" stroke="#fff" stroke-width="0.8"/>
<line x1="314.7" y1="405.4" x2="514.7" y2="405.4" stroke="#fff" stroke-width="0.8"/>
<line x1="314.7" y1="386.6" x2="514.7" y2="386.6" stroke="#fff" stroke-width="0.8"/>
<line x1="314.7" y1="367.8" x2="514.7" y2="367.8" stroke="#fff" stroke-width="0.8"/>
<line x1="325.8" y1="358.1" x2="325.8" y2="499.6" stroke="#fff" stroke-width="0.8"/>
<line x1="343.3" y1="358.1" x2="343.3" y2="499.6" stroke="#fff" stroke-width="0.8"/>
<line x1="360.8" y1="358.1" x2="360.8" y2="499.6" stroke="#fff" stroke-width="0.8"/>
<line x1="378.3" y1="358.1" x2="378.3" y2="499.6" stroke="#fff" stroke-width="0.8"/>
<line x1="395.8" y1="358.1" x2="395.8" y2="499.6" stroke="#fff" stroke-width="0.8"/>
<line x1="413.3" y1="358.1" x2="413.3" y2="499.6" stroke="#fff" stroke-width="0.8"/>
<line x1="430.8" y1="358.1" x2="430.8" y2="499.6" stroke="#fff" stroke-width="0.8"/>
<line x1="448.3" y1="358.1" x2="448.3" y2="499.6" stroke="#fff" stroke-width="0.8"/>
<line x1="465.8" y1="358.1" x2="465.8" y2="499.6" stroke="#fff" stroke-width="0.8"/>
<line x1="483.3" y1="358.1" x2="483.3" y2="499.6" stroke="#fff" stroke-width="0.8"/>
<line x1="500.8" y1="358.1" x2="500.8" y2="499.6" stroke="#fff" stroke-width="0.8"/>
<rect x="331.8" y="497.5" width="3.6" height="1.9" fill="#d4b498"/>
<rect x="335.35" y="497" width="3.6" height="2.4" fill="#d4b498"/>
<rect x="338.9" y="496.3" width="3.6" height="3.1" fill="#d4b498"/>
<rect x="342.45" y="488.5" width="3.6" height="2.8" fill="#f2cccc"/>
<rect x="342.45" y="491.3" width="3.6" height="8.1" fill="#c8a888"/>
<rect x="346" y="488.5" width="3.6" height="2.8" fill="#f2cccc"/>
<rect x="346" y="491.3" width="3.6" height="4.7" fill="#c8a888"/>
<rect x="346" y="496" width="3.6" height="3.4" fill="#b8a0a8"/>
<rect x="349.55" y="471" width="3.6" height="12" fill="#a89070"/>
<rect x="349.55" y="483" width="3.6" height="11" fill="#d8a0a0"/>
<rect x="349.55" y="494" width="3.6" height="5.4" fill="#b8a0c0"/>
<rect x="353.1" y="472.5" width="3.6" height="1.5" fill="#f0c8c8"/>
<rect x="353.1" y="474" width="3.6" height="11" fill="#e0b0a8"/>
<rect x="353.1" y="485" width="3.6" height="10.5" fill="#d8a0b0"/>
<rect x="353.1" y="495.5" width="3.6" height="3.9" fill="#9a90a0"/>
<rect x="356.65" y="473.8" width="3.6" height="4.7" fill="#c8a080"/>
<rect x="356.65" y="478.5" width="3.6" height="13.5" fill="#d0a8c8"/>
<rect x="356.65" y="492" width="3.6" height="7.4" fill="#a898b0"/>
<rect x="360.2" y="358.1" width="3.6" height="112.3" fill="#f4d0d8"/>
<rect x="360.2" y="470.4" width="3.6" height="18" fill="#c8a8d0"/>
<rect x="360.2" y="488.4" width="3.6" height="11" fill="#9888a0"/>
<rect x="363.75" y="358.1" width="3.6" height="26.9" fill="#d4bca0"/>
<rect x="363.75" y="385" width="3.6" height="78.7" fill="#bca282"/>
<rect x="363.75" y="463.7" width="3.6" height="13.5" fill="#c0a0d0"/>
<rect x="363.75" y="477.2" width="3.6" height="11.3" fill="#a090a8"/>
<rect x="363.75" y="488.5" width="3.6" height="10.9" fill="#7a7a7a"/>
<rect x="367.3" y="407" width="3.6" height="33" fill="#c8ae8c"/>
<rect x="367.3" y="440" width="3.6" height="30" fill="#c0a0c0"/>
<rect x="367.3" y="470" width="3.6" height="11.7" fill="#8a8090"/>
<rect x="367.3" y="481.7" width="3.6" height="17.7" fill="#7a7a7a"/>
<rect x="370.85" y="408.4" width="3.6" height="31.6" fill="#d8b0da"/>
<rect x="370.85" y="440" width="3.6" height="33.8" fill="#c4a4cc"/>
<rect x="370.85" y="473.8" width="3.6" height="25.6" fill="#7a7a7a"/>
<rect x="374.4" y="413.5" width="3.6" height="31.2" fill="#c6a8de"/>
<rect x="374.4" y="444.7" width="3.6" height="54.7" fill="#7a7a7a"/>
<rect x="377.95" y="412" width="3.6" height="13.8" fill="#efe4e4"/>
<rect x="377.95" y="425.8" width="3.6" height="73.6" fill="#6e6868"/>
<rect x="381.5" y="429.5" width="3.6" height="69.9" fill="#6e6868"/>
<rect x="385.05" y="440.4" width="3.6" height="7.2" fill="#e8c8c8"/>
<rect x="385.05" y="447.6" width="3.6" height="51.8" fill="#a4a4bc"/>
<rect x="388.6" y="457" width="3.6" height="42.4" fill="#7a7a7a"/>
<rect x="392.15" y="465" width="3.6" height="34.4" fill="#7a7a7a"/>
<rect x="395.7" y="470.2" width="3.6" height="29.2" fill="#7a7a7a"/>
<rect x="399.25" y="471.5" width="3.6" height="5.2" fill="#e8d0cc"/>
<rect x="399.25" y="476.7" width="3.6" height="22.7" fill="#7a7a7a"/>
<rect x="402.8" y="471.6" width="3.6" height="6.4" fill="#d0b0a0"/>
<rect x="402.8" y="478" width="3.6" height="21.4" fill="#7a7a7a"/>
<rect x="406.35" y="480.4" width="3.6" height="19" fill="#7a7a7a"/>
<rect x="409.9" y="481.5" width="3.6" height="2.5" fill="#b8d8cc"/>
<rect x="409.9" y="484" width="3.6" height="15.4" fill="#7a7a7a"/>
<rect x="413.45" y="486" width="3.6" height="13.4" fill="#7a7a7a"/>
<rect x="417" y="487.5" width="3.6" height="11.9" fill="#7a7a7a"/>
<rect x="420.55" y="489" width="3.6" height="10.4" fill="#7a7a7a"/>
<rect x="424.1" y="490.5" width="3.6" height="8.9" fill="#7a7a7a"/>
<rect x="427.65" y="492" width="3.6" height="7.4" fill="#7a7a7a"/>
<rect x="431.2" y="493" width="3.6" height="6.4" fill="#7a7a7a"/>
<rect x="434.75" y="494" width="3.6" height="5.4" fill="#7a7a7a"/>
<rect x="438.3" y="495" width="3.6" height="4.4" fill="#7a7a7a"/>
<rect x="441.85" y="496" width="3.6" height="3.4" fill="#7a7a7a"/>
<rect x="445.4" y="496.5" width="3.6" height="2.9" fill="#7a7a7a"/>
<rect x="448.95" y="497" width="3.6" height="2.4" fill="#7a7a7a"/>
<rect x="452.5" y="497.5" width="3.6" height="1.9" fill="#7a7a7a"/>
<rect x="456.05" y="497.5" width="3.6" height="1.9" fill="#7a7a7a"/>
<rect x="459.6" y="497.5" width="3.6" height="1.9" fill="#7a7a7a"/>
<rect x="463.15" y="497.5" width="3.6" height="1.9" fill="#7a7a7a"/>
<rect x="466.7" y="497.5" width="3.6" height="1.9" fill="#7a7a7a"/>
<rect x="470.25" y="498.4" width="3.6" height="1" fill="#7a7a7a"/>
<rect x="473.8" y="498.4" width="3.6" height="1" fill="#7a7a7a"/>
<rect x="477.35" y="498.4" width="3.6" height="1" fill="#7a7a7a"/>
<rect x="480.9" y="498.4" width="3.6" height="1" fill="#7a7a7a"/>
<rect x="484.45" y="498.4" width="3.6" height="1" fill="#7a7a7a"/>
<rect x="488" y="498.4" width="3.6" height="1" fill="#7a7a7a"/>
<rect x="491.55" y="498.4" width="3.6" height="1" fill="#7a7a7a"/>
<rect x="495.1" y="498.4" width="3.6" height="1" fill="#7a7a7a"/>
<rect x="498.65" y="498.4" width="3.6" height="1" fill="#7a7a7a"/>
<rect x="502.2" y="498.4" width="3.6" height="1" fill="#7a7a7a"/>
<rect x="505.75" y="498.4" width="3.6" height="1" fill="#7a7a7a"/>
<line x1="381.9" y1="358.1" x2="381.9" y2="499.6" stroke="#6e5c40" stroke-width="1.5"/>
<line x1="391.6" y1="358.1" x2="391.6" y2="499.6" stroke="#7c7c7c" stroke-width="0.9"/>
<line x1="404.6" y1="358.1" x2="404.6" y2="499.6" stroke="#7c7c7c" stroke-width="0.9"/>
<rect x="314.7" y="358.1" width="200" height="141.5" fill="none" stroke="#a8a8a8" stroke-width="0.7"/>
<line x1="313.1" y1="499.4" x2="314.7" y2="499.4" stroke="#333" stroke-width="0.5"/>
<text x="312.4" y="500.9" font-size="4.2" text-anchor="end" fill="#333" stroke="#333" stroke-width="0.12">0</text>
<line x1="313.1" y1="480.6" x2="314.7" y2="480.6" stroke="#333" stroke-width="0.5"/>
<text x="312.4" y="482.1" font-size="4.2" text-anchor="end" fill="#333" stroke="#333" stroke-width="0.12">500</text>
<line x1="313.1" y1="461.8" x2="314.7" y2="461.8" stroke="#333" stroke-width="0.5"/>
<text x="312.4" y="463.3" font-size="4.2" text-anchor="end" fill="#333" stroke="#333" stroke-width="0.12">1000</text>
<line x1="313.1" y1="443" x2="314.7" y2="443" stroke="#333" stroke-width="0.5"/>
<text x="312.4" y="444.5" font-size="4.2" text-anchor="end" fill="#333" stroke="#333" stroke-width="0.12">1500</text>
<line x1="313.1" y1="424.2" x2="314.7" y2="424.2" stroke="#333" stroke-width="0.5"/>
<text x="312.4" y="425.7" font-size="4.2" text-anchor="end" fill="#333" stroke="#333" stroke-width="0.12">2000</text>
<line x1="313.1" y1="405.4" x2="314.7" y2="405.4" stroke="#333" stroke-width="0.5"/>
<text x="312.4" y="406.9" font-size="4.2" text-anchor="end" fill="#333" stroke="#333" stroke-width="0.12">2500</text>
<line x1="313.1" y1="386.6" x2="314.7" y2="386.6" stroke="#333" stroke-width="0.5"/>
<text x="312.4" y="388.1" font-size="4.2" text-anchor="end" fill="#333" stroke="#333" stroke-width="0.12">3000</text>
<line x1="313.1" y1="367.8" x2="314.7" y2="367.8" stroke="#333" stroke-width="0.5"/>
<text x="312.4" y="369.3" font-size="4.2" text-anchor="end" fill="#333" stroke="#333" stroke-width="0.12">3500</text>
<line x1="325.8" y1="499.6" x2="325.8" y2="501.2" stroke="#333" stroke-width="0.5"/>
<text x="325.8" y="504.6" font-size="4.9" text-anchor="middle" fill="#333" stroke="#333" stroke-width="0.12">−2.25</text>
<line x1="343.3" y1="499.6" x2="343.3" y2="501.2" stroke="#333" stroke-width="0.5"/>
<text x="343.3" y="504.6" font-size="4.9" text-anchor="middle" fill="#333" stroke="#333" stroke-width="0.12">−1.75</text>
<line x1="360.8" y1="499.6" x2="360.8" y2="501.2" stroke="#333" stroke-width="0.5"/>
<text x="360.8" y="504.6" font-size="4.9" text-anchor="middle" fill="#333" stroke="#333" stroke-width="0.12">−1.25</text>
<line x1="378.3" y1="499.6" x2="378.3" y2="501.2" stroke="#333" stroke-width="0.5"/>
<text x="378.3" y="504.6" font-size="4.9" text-anchor="middle" fill="#333" stroke="#333" stroke-width="0.12">−0.75</text>
<line x1="395.8" y1="499.6" x2="395.8" y2="501.2" stroke="#333" stroke-width="0.5"/>
<text x="395.8" y="504.6" font-size="4.9" text-anchor="middle" fill="#333" stroke="#333" stroke-width="0.12">−0.25</text>
<line x1="413.3" y1="499.6" x2="413.3" y2="501.2" stroke="#333" stroke-width="0.5"/>
<text x="413.3" y="504.6" font-size="4.9" text-anchor="middle" fill="#333" stroke="#333" stroke-width="0.12">0.25</text>
<line x1="430.8" y1="499.6" x2="430.8" y2="501.2" stroke="#333" stroke-width="0.5"/>
<text x="430.8" y="504.6" font-size="4.9" text-anchor="middle" fill="#333" stroke="#333" stroke-width="0.12">0.75</text>
<line x1="448.3" y1="499.6" x2="448.3" y2="501.2" stroke="#333" stroke-width="0.5"/>
<text x="448.3" y="504.6" font-size="4.9" text-anchor="middle" fill="#333" stroke="#333" stroke-width="0.12">1.25</text>
<line x1="465.8" y1="499.6" x2="465.8" y2="501.2" stroke="#333" stroke-width="0.5"/>
<text x="465.8" y="504.6" font-size="4.9" text-anchor="middle" fill="#333" stroke="#333" stroke-width="0.12">1.75</text>
<line x1="483.3" y1="499.6" x2="483.3" y2="501.2" stroke="#333" stroke-width="0.5"/>
<text x="483.3" y="504.6" font-size="4.9" text-anchor="middle" fill="#333" stroke="#333" stroke-width="0.12">2.25</text>
<line x1="500.8" y1="499.6" x2="500.8" y2="501.2" stroke="#333" stroke-width="0.5"/>
<text x="500.8" y="504.6" font-size="4.9" text-anchor="middle" fill="#333" stroke="#333" stroke-width="0.12">2.75</text>
<text x="414.7" y="511.6" font-size="6.4" text-anchor="middle" font-weight="bold" fill="#111" stroke="#111" stroke-width="0.2">Tajima's D</text>
<text x="300.3" y="428.8" font-size="6.4" text-anchor="middle" font-weight="bold" fill="#111" transform="rotate(-90 300.3 428.8)" stroke="#111" stroke-width="0.2">Count</text>
<text x="318.9" y="534.3" font-size="5.27" text-anchor="start" font-weight="bold" fill="#111" stroke="#111" stroke-width="0.15">Anadromous Barrier Locations</text>
<rect x="400.5" y="520.9" width="7.6" height="7.6" fill="#f0e0d8"/>
<rect x="401.3" y="521.7" width="6" height="6" fill="#7a5028"/>
<text x="410.5" y="526.1" font-size="3.9" text-anchor="start" fill="#111">Adult Pre 2015</text>
<rect x="400.5" y="528.6" width="7.6" height="7.6" fill="#fde8ee"/>
<rect x="401.3" y="529.4" width="6" height="6" fill="#f2ccd0"/>
<text x="410.5" y="533.8" font-size="3.9" text-anchor="start" fill="#111">Adult 2015</text>
<rect x="400.5" y="536.2" width="7.6" height="7.6" fill="#d8ece0"/>
<rect x="401.3" y="537" width="6" height="6" fill="#2e7a4a"/>
<text x="410.5" y="541.4" font-size="3.9" text-anchor="start" fill="#111">Adult 2016</text>
<rect x="440.7" y="520.9" width="7.6" height="7.6" fill="#fde8e4"/>
<rect x="441.5" y="521.7" width="6" height="6" fill="#d8907a"/>
<text x="450.7" y="526.1" font-size="3.9" text-anchor="start" fill="#111">Adult 2017</text>
<rect x="440.7" y="528.6" width="7.6" height="7.6" fill="#eaf8fa"/>
<rect x="441.5" y="529.4" width="6" height="6" fill="#b8e2ea"/>
<text x="450.7" y="533.8" font-size="3.9" text-anchor="start" fill="#111">Juvenile 2016</text>
<rect x="440.7" y="536.2" width="7.6" height="7.6" fill="#f0e8fa"/>
<rect x="441.5" y="537" width="6" height="6" fill="#c4a0e0"/>
<text x="450.7" y="541.4" font-size="3.9" text-anchor="start" fill="#111">Juvenile 2017</text>
<rect x="477.7" y="520.9" width="7.6" height="7.6" fill="#e4e4e4"/>
<rect x="478.5" y="521.7" width="6" height="6" fill="#707070"/>
<text x="487.7" y="526.1" font-size="3.9" text-anchor="start" fill="#111">All Locations</text>
</g>
</svg></body></html>
